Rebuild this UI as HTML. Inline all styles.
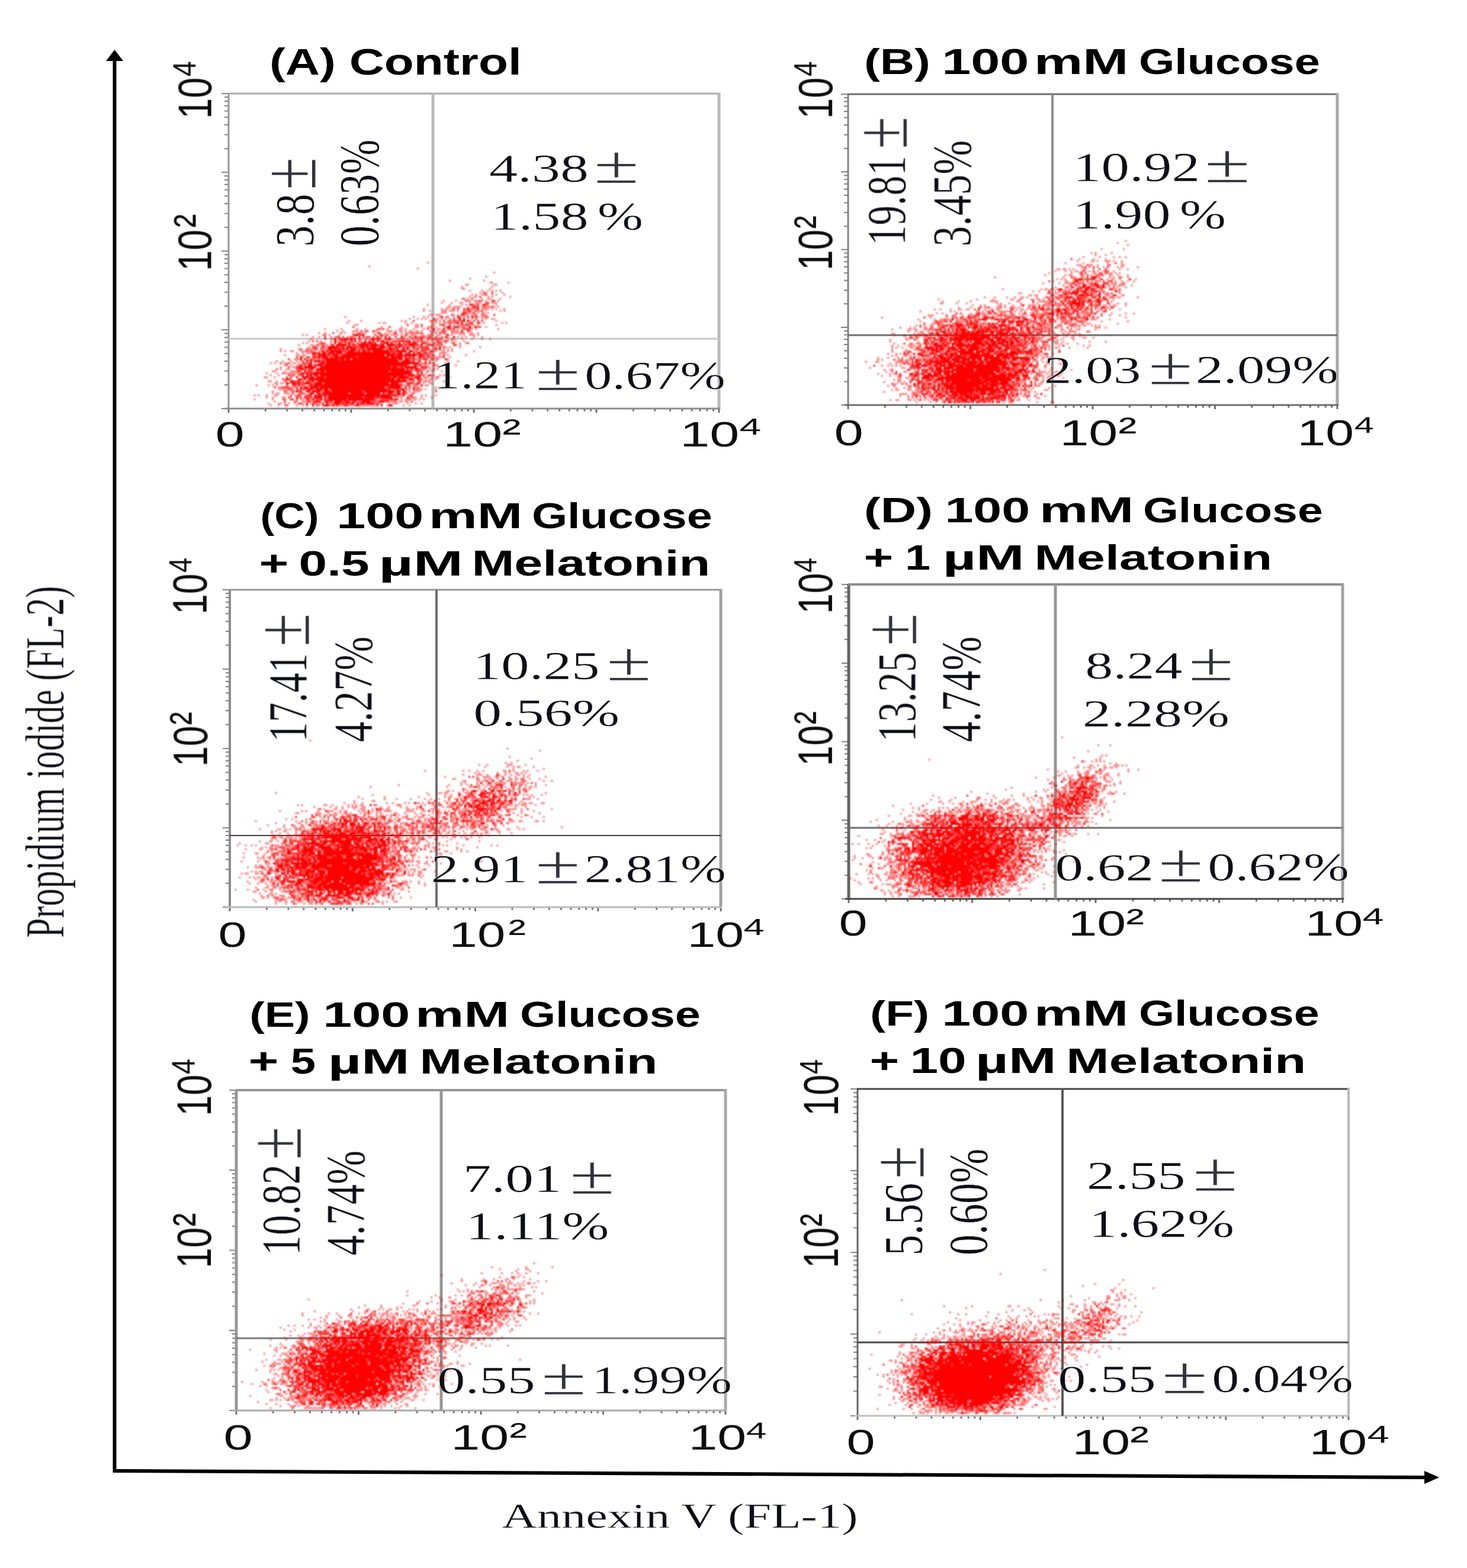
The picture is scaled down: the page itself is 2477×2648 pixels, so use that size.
<!DOCTYPE html>
<html lang="en"><head><meta charset="utf-8"><title>Annexin V / Propidium iodide flow cytometry</title>
<style>
html,body{margin:0;padding:0;background:#fff}
svg{display:block}
text{font-size:100px;white-space:pre}
.s{font-family:"Liberation Serif","DejaVu Serif",serif;fill:#0a0a14;stroke:#fff;stroke-width:0.5px;vector-effect:non-scaling-stroke}
.pm{fill:#33333c;stroke-width:0.9px}
.n{font-family:"Liberation Sans","DejaVu Sans",sans-serif;fill:#111}
.nb{font-family:"Liberation Sans","DejaVu Sans",sans-serif;font-weight:bold;fill:#000}
</style></head><body>
<svg width="2477" height="2648" viewBox="0 0 2477 2648">
<rect width="2477" height="2648" fill="#fff"/>
<defs><filter id="soft" x="-2%" y="-2%" width="104%" height="104%"><feGaussianBlur stdDeviation="0.38"/></filter><filter id="tsoft" filterUnits="userSpaceOnUse" x="0" y="0" width="2477" height="2648"><feGaussianBlur stdDeviation="0.7"/></filter></defs>
<g id="axes" fill="#000" stroke="none" filter="url(#tsoft)">
<path d="M190.5 100 L196.5 100 L196.5 2481 L2406 2492 L2406 2498 L190.5 2487 Z"/>
<path d="M193.5 84 L208 103 L179 103 Z"/>
<path d="M2430 2495 L2405 2506 L2405 2484 Z"/>
</g>
<g id="panelA">
<path d="M374 690.0H386M374 557.0H386M374 424.0H386M374 291.0H386M374 158.0H386M379 650.0H386M379 626.5H386M379 609.9H386M379 597.0H386M379 586.5H386M379 577.6H386M379 569.9H386M379 563.1H386M379 517.0H386M379 493.5H386M379 476.9H386M379 464.0H386M379 453.5H386M379 444.6H386M379 436.9H386M379 430.1H386M379 384.0H386M379 360.5H386M379 343.9H386M379 331.0H386M379 320.5H386M379 311.6H386M379 303.9H386M379 297.1H386M379 251.0H386M379 227.5H386M379 210.9H386M379 198.0H386M379 187.5H386M379 178.6H386M379 170.9H386M379 164.1H386" stroke="rgb(135,135,135)" stroke-width="2.2" fill="none"/>
<path d="M386.0 690V697M593.0 690V697M800.0 690V697M1007.0 690V697M1214.0 690V697M448.3 690V694.5M484.8 690V694.5M510.6 690V694.5M530.7 690V694.5M547.1 690V694.5M560.9 690V694.5M572.9 690V694.5M583.5 690V694.5M655.3 690V694.5M691.8 690V694.5M717.6 690V694.5M737.7 690V694.5M754.1 690V694.5M767.9 690V694.5M779.9 690V694.5M790.5 690V694.5M862.3 690V694.5M898.8 690V694.5M924.6 690V694.5M944.7 690V694.5M961.1 690V694.5M974.9 690V694.5M986.9 690V694.5M997.5 690V694.5M1069.3 690V694.5M1105.8 690V694.5M1131.6 690V694.5M1151.7 690V694.5M1168.1 690V694.5M1181.9 690V694.5M1193.9 690V694.5M1204.5 690V694.5" stroke="rgb(105,105,105)" stroke-width="2.8" fill="none"/>
<path d="M386 157L386 691" stroke="rgb(150,150,150)" stroke-width="3" fill="none"/>
<path d="M385 158L1216 158" stroke="rgb(170,170,170)" stroke-width="3" fill="none"/>
<path d="M1214 157L1214 691" stroke="rgb(185,185,185)" stroke-width="5" fill="none"/>
<path d="M380 690L1216 690" stroke="rgb(140,140,140)" stroke-width="3" fill="none"/>
<path d="M731 158L731 690" stroke="rgb(185,185,185)" stroke-width="5" fill="none"/>
<path d="M386 572L1214 572" stroke="rgb(200,200,200)" stroke-width="3" fill="none"/>
<g class="pts" transform="translate(387.5 161.2) scale(3.4)" stroke="#f00" stroke-width="1" fill="none" filter="url(#soft)"><path stroke-opacity="0.45" d="M98 83h1M69 85h1M93 86h1M131 88h1M127 90h1M119 91h1M109 92h1M126 92h1M129 93h2M138 93h1M117 94h2M131 94h2M115 95h1M130 95h1M115 96h2M129 96h1M119 97h1M125 97h1M128 97h1M130 97h1M132 97h1M134 97h1M124 98h1M127 98h1M135 98h1M120 99h1M122 99h1M125 99h2M130 99h1M132 99h1M136 99h1M119 100h1M121 100h2M128 100h1M130 100h1M139 100h1M115 101h1M118 101h1M125 101h1M128 101h2M134 101h1M106 102h1M112 102h1M118 102h2M121 102h3M125 102h1M127 102h1M133 102h1M105 103h1M110 103h1M114 103h2M119 103h1M122 103h3M130 103h3M98 104h1M109 104h1M115 104h1M117 104h1M121 104h2M125 104h1M128 104h1M132 104h1M108 105h2M111 105h4M118 105h1M120 105h1M125 105h1M127 105h3M131 105h1M133 105h1M96 106h1M105 106h1M107 106h2M110 106h1M117 106h1M119 106h1M121 106h2M125 106h4M130 106h1M132 106h1M136 106h1M96 107h1M99 107h1M105 107h3M109 107h3M113 107h1M117 107h1M121 107h1M123 107h2M127 107h1M134 107h1M136 107h1M105 108h3M115 108h1M118 108h3M123 108h1M125 108h2M128 108h1M99 109h2M102 109h3M111 109h1M113 109h1M117 109h2M120 109h2M126 109h2M57 110h1M91 110h1M96 110h1M98 110h1M104 110h1M107 110h1M111 110h1M116 110h1M121 110h1M123 110h1M125 110h2M128 110h1M89 111h1M93 111h1M95 111h1M97 111h1M102 111h2M105 111h1M107 111h1M109 111h1M113 111h1M118 111h1M120 111h1M125 111h1M127 111h1M130 111h2M59 112h1M65 112h1M85 112h1M87 112h1M99 112h1M101 112h1M104 112h1M108 112h1M110 112h1M113 112h1M119 112h1M132 112h1M58 113h1M74 113h1M76 113h2M87 113h1M90 113h1M100 113h1M102 113h1M104 113h1M106 113h3M110 113h2M117 113h2M124 113h1M126 113h1M135 113h1M137 113h1M62 114h2M92 114h2M100 114h2M104 114h1M111 114h1M113 114h2M116 114h1M119 114h3M123 114h1M132 114h1M75 115h1M85 115h1M92 115h2M95 115h1M98 115h2M102 115h1M106 115h2M114 115h2M118 115h1M121 115h1M123 115h1M127 115h1M47 116h1M55 116h1M63 116h1M67 116h1M73 116h1M75 116h1M78 116h1M84 116h2M87 116h1M91 116h1M96 116h1M100 116h1M103 116h2M110 116h1M113 116h1M115 116h1M120 116h1M122 116h1M133 116h1M53 117h1M56 117h1M61 117h3M67 117h1M72 117h2M78 117h3M82 117h1M84 117h2M87 117h1M89 117h2M92 117h2M95 117h1M99 117h2M103 117h1M107 117h1M111 117h3M119 117h1M44 118h1M47 118h1M57 118h1M61 118h1M63 118h1M65 118h3M71 118h1M73 118h1M77 118h1M79 118h1M81 118h1M85 118h1M87 118h3M91 118h2M94 118h1M105 118h1M107 118h1M110 118h5M116 118h1M119 118h2M123 118h1M36 119h1M38 119h1M46 119h1M49 119h1M54 119h1M74 119h1M76 119h2M80 119h4M85 119h1M88 119h1M90 119h3M95 119h2M98 119h2M103 119h2M107 119h1M110 119h1M114 119h1M116 119h1M119 119h3M123 119h1M41 120h1M44 120h1M50 120h1M52 120h1M58 120h2M61 120h2M67 120h1M74 120h1M86 120h2M90 120h2M93 120h1M97 120h2M100 120h1M103 120h1M108 120h1M113 120h1M115 120h1M117 120h1M121 120h1M125 120h1M40 121h1M50 121h2M65 121h1M67 121h2M80 121h1M83 121h3M88 121h1M90 121h5M99 121h1M103 121h1M105 121h1M108 121h1M111 121h1M115 121h1M120 121h1M125 121h1M129 121h1M39 122h1M45 122h1M50 122h1M53 122h2M58 122h2M61 122h1M65 122h1M70 122h1M74 122h1M77 122h1M79 122h2M92 122h1M94 122h1M96 122h3M100 122h1M102 122h1M104 122h3M108 122h1M110 122h1M112 122h1M116 122h1M36 123h1M38 123h1M44 123h1M47 123h1M50 123h1M56 123h1M58 123h1M60 123h1M64 123h1M79 123h1M81 123h3M87 123h1M93 123h1M98 123h2M102 123h2M105 123h1M107 123h1M110 123h1M114 123h1M117 123h1M34 124h1M40 124h2M44 124h2M47 124h2M58 124h1M60 124h1M63 124h1M86 124h1M88 124h1M94 124h1M97 124h1M101 124h2M104 124h1M114 124h1M39 125h1M43 125h1M45 125h1M47 125h2M57 125h1M73 125h1M78 125h1M81 125h1M85 125h1M87 125h1M89 125h2M92 125h2M101 125h1M107 125h1M109 125h1M114 125h1M124 125h1M25 126h1M34 126h1M39 126h3M46 126h3M59 126h1M63 126h1M67 126h1M77 126h1M85 126h1M87 126h1M89 126h1M92 126h1M99 126h1M101 126h1M103 126h1M106 126h1M108 126h1M110 126h1M25 127h1M27 127h1M30 127h2M35 127h3M39 127h1M41 127h2M44 127h2M47 127h1M65 127h1M70 127h1M91 127h1M93 127h2M101 127h2M105 127h2M108 127h1M110 127h1M121 127h1M33 128h1M36 128h1M38 128h3M45 128h1M48 128h1M56 128h1M92 128h1M95 128h1M98 128h1M100 128h1M104 128h4M27 129h1M33 129h2M36 129h2M43 129h1M50 129h1M54 129h1M77 129h1M93 129h1M97 129h1M99 129h2M104 129h1M108 129h1M117 129h1M36 130h1M49 130h1M79 130h1M86 130h1M88 130h1M90 130h1M93 130h1M97 130h1M100 130h6M109 130h1M32 131h3M38 131h2M42 131h2M45 131h1M60 131h1M93 131h1M95 131h1M98 131h1M101 131h2M108 131h1M23 132h1M26 132h1M30 132h1M33 132h1M35 132h1M39 132h1M41 132h1M84 132h1M90 132h1M93 132h1M102 132h1M108 132h1M113 132h1M20 133h1M22 133h1M27 133h2M31 133h2M34 133h1M38 133h1M42 133h1M94 133h3M107 133h1M27 134h1M30 134h1M33 134h2M36 134h1M38 134h1M41 134h1M89 134h1M93 134h1M95 134h4M102 134h2M112 134h1M25 135h1M31 135h2M36 135h1M44 135h1M93 135h1M98 135h2M101 135h1M103 135h1M25 136h1M28 136h2M38 136h1M87 136h1M89 136h1M91 136h1M95 136h1M97 136h1M99 136h1M103 136h1M21 137h2M27 137h1M30 137h4M35 137h1M38 137h1M41 137h2M100 137h2M105 137h1M18 138h1M23 138h1M27 138h8M97 138h1M20 139h1M24 139h1M30 139h1M32 139h1M41 139h1M44 139h1M92 139h1M95 139h1M98 139h1M100 139h2M104 139h1M106 139h2M17 140h2M22 140h1M42 140h1M89 140h1M91 140h1M96 140h3M100 140h1M102 140h1M109 140h1M27 141h1M30 141h1M36 141h1M82 141h1M88 141h1M97 141h1M99 141h2M102 141h1M19 142h2M23 142h1M28 142h1M35 142h1M42 142h1M88 142h3M93 142h1M96 142h4M106 142h1M22 143h2M25 143h2M30 143h1M41 143h1M46 143h1M79 143h1M84 143h2M91 143h2M96 143h1M99 143h2M13 144h1M19 144h1M21 144h1M23 144h1M33 144h1M35 144h1M37 144h1M86 144h2M91 144h1M93 144h1M97 144h2M24 145h2M30 145h3M36 145h1M39 145h1M85 145h1M92 145h3M102 145h1M105 145h1M24 146h5M31 146h1M34 146h1M42 146h1M49 146h1M80 146h1M87 146h3M92 146h1M94 146h2M97 146h1M102 146h1M21 147h1M28 147h1M30 147h1M32 147h1M40 147h1M46 147h1M82 147h1M89 147h1M91 147h4M21 148h1M23 148h2M27 148h3M34 148h1M37 148h1M39 148h1M45 148h1M59 148h1M67 148h1M77 148h1M81 148h2M85 148h1M88 148h1M90 148h1M12 149h1M14 149h1M18 149h1M22 149h2M32 149h2M35 149h1M37 149h1M85 149h1M95 149h1M97 149h1M102 149h1M18 150h1M21 150h1M26 150h2M30 150h1M34 150h1M41 150h1M48 150h1M82 150h2M85 150h1M89 150h1M91 150h2M95 150h1M100 150h1M12 151h1M21 151h1M26 151h1M35 151h2M40 151h1M42 151h1M46 151h1M73 151h2M85 151h1M87 151h2M91 151h2M94 151h1M96 151h1M22 152h1M33 152h1M36 152h3M40 152h2M45 152h1M51 152h1M60 152h1M63 152h1M73 152h1M79 152h3M84 152h2M87 152h2M19 153h1M24 153h2M27 153h1M29 153h1M32 153h1M36 153h1M40 153h1M43 153h3M49 153h2M72 153h1M74 153h2M79 153h1M81 153h3M88 153h1M92 153h1M95 153h1M20 154h1M24 154h1M27 154h1M33 154h1M36 154h1M44 154h1M50 154h1M52 154h1M54 154h3M59 154h3M65 154h8M78 154h1M86 154h1M89 154h1"/><path stroke-opacity="0.75" d="M126 98h1M130 98h1M127 99h1M124 100h1M116 101h1M120 101h1M117 102h1M124 102h1M130 102h2M127 103h2M119 104h1M123 104h1M127 104h1M122 105h2M126 105h1M130 105h1M111 106h1M113 106h1M116 106h1M120 106h1M116 107h1M118 107h1M122 107h1M125 107h1M117 108h1M121 108h1M110 109h1M116 109h1M122 109h1M125 109h1M131 109h1M108 110h1M114 110h1M118 110h1M122 110h1M127 110h1M101 111h1M111 111h1M122 111h1M91 112h1M100 112h1M102 112h1M106 112h1M109 112h1M111 112h2M114 112h2M121 112h1M123 112h1M125 112h1M109 113h1M112 113h1M119 113h1M88 114h1M95 114h1M105 114h2M109 114h1M115 114h1M117 114h2M61 115h1M79 115h1M100 115h1M111 115h1M113 115h1M116 115h1M124 115h1M74 116h1M76 116h1M98 116h1M108 116h2M111 116h1M116 116h4M65 117h1M68 117h1M71 117h1M101 117h1M105 117h2M110 117h1M51 118h1M55 118h1M64 118h1M90 118h1M93 118h1M95 118h1M100 118h1M102 118h1M104 118h1M106 118h1M115 118h1M47 119h1M61 119h1M64 119h2M72 119h1M78 119h1M87 119h1M100 119h1M47 120h1M53 120h2M56 120h1M60 120h1M66 120h1M68 120h2M71 120h1M75 120h1M79 120h1M82 120h1M89 120h1M94 120h3M102 120h1M105 120h1M47 121h1M54 121h1M56 121h1M59 121h1M61 121h2M64 121h1M72 121h2M77 121h2M86 121h1M98 121h1M100 121h3M104 121h1M110 121h1M41 122h1M43 122h1M55 122h2M64 122h1M78 122h1M81 122h4M86 122h1M88 122h1M91 122h1M93 122h1M95 122h1M45 123h2M55 123h1M57 123h1M61 123h1M63 123h1M65 123h1M68 123h1M71 123h1M75 123h2M86 123h1M88 123h1M90 123h1M95 123h1M97 123h1M101 123h1M111 123h1M118 123h1M43 124h1M46 124h1M50 124h1M62 124h1M69 124h1M74 124h1M82 124h2M92 124h2M98 124h2M103 124h1M105 124h1M111 124h2M41 125h1M54 125h2M61 125h1M63 125h2M67 125h1M69 125h1M77 125h1M80 125h1M83 125h1M94 125h5M102 125h1M106 125h1M35 126h1M38 126h1M42 126h2M45 126h1M51 126h1M53 126h1M55 126h1M57 126h1M64 126h2M76 126h1M78 126h1M81 126h2M91 126h1M95 126h3M38 127h1M40 127h1M49 127h1M56 127h3M62 127h2M68 127h1M79 127h1M81 127h2M92 127h1M95 127h3M99 127h1M43 128h1M52 128h1M57 128h1M80 128h1M82 128h2M87 128h2M96 128h1M99 128h1M41 129h2M48 129h1M55 129h1M82 129h1M86 129h1M96 129h1M101 129h1M106 129h1M33 130h1M38 130h2M41 130h1M43 130h1M45 130h1M51 130h1M63 130h1M95 130h2M98 130h2M106 130h1M29 131h1M40 131h2M44 131h1M46 131h1M54 131h1M57 131h1M83 131h1M89 131h4M94 131h1M96 131h1M103 131h1M36 132h1M45 132h1M47 132h1M85 132h1M97 132h1M99 132h1M25 133h1M29 133h1M36 133h2M39 133h1M44 133h1M47 133h1M101 133h1M28 134h1M37 134h1M42 134h1M46 134h1M88 134h1M91 134h1M101 134h1M29 135h1M33 135h1M80 135h1M83 135h2M86 135h1M96 135h1M23 136h1M33 136h2M37 136h1M39 136h1M41 136h1M94 136h1M96 136h1M101 136h1M40 137h1M44 137h1M47 137h1M79 137h1M90 137h1M92 137h4M98 137h1M26 138h1M35 138h1M37 138h1M39 138h1M90 138h1M29 139h1M31 139h1M34 139h2M39 139h1M87 139h2M93 139h1M96 139h1M28 140h1M30 140h1M39 140h1M47 140h1M80 140h1M83 140h1M90 140h1M103 140h1M26 141h1M85 141h1M87 141h1M91 141h1M94 141h2M27 142h1M32 142h2M36 142h1M39 142h2M43 142h1M91 142h1M29 143h1M33 143h1M35 143h2M40 143h1M89 143h1M94 143h1M28 144h1M31 144h1M36 144h1M39 144h1M41 144h1M85 144h1M88 144h2M92 144h1M22 145h1M26 145h4M33 145h1M44 145h1M77 145h2M89 145h1M91 145h1M29 146h2M33 146h1M35 146h4M41 146h1M46 146h1M78 146h1M81 146h2M84 146h1M93 146h1M27 147h1M31 147h1M34 147h1M45 147h1M50 147h1M66 147h1M87 147h1M102 147h1M31 148h1M35 148h2M43 148h1M78 148h1M87 148h1M91 148h1M30 149h1M38 149h2M43 149h1M46 149h1M48 149h1M80 149h1M83 149h2M89 149h2M29 150h1M35 150h1M38 150h3M66 150h1M72 150h1M74 150h1M90 150h1M27 151h1M30 151h2M33 151h1M39 151h1M43 151h2M47 151h2M58 151h1M72 151h1M75 151h5M81 151h1M83 151h1M89 151h1M27 152h1M32 152h1M49 152h1M56 152h1M64 152h2M70 152h3M77 152h1M82 152h1M90 152h1M34 153h2M41 153h2M46 153h1M51 153h1M55 153h1M57 153h1M59 153h1M64 153h1M67 153h1M28 154h1M38 154h1M43 154h1M46 154h1M49 154h1M58 154h1M62 154h1M64 154h1M73 154h1"/><path stroke-opacity="1.0" d="M120 104h1M126 104h1M121 105h1M118 106h1M123 106h1M119 107h1M116 108h1M115 109h1M105 110h1M113 110h1M120 110h1M114 111h1M116 111h1M116 112h1M118 112h1M113 113h1M115 113h1M120 113h1M123 113h1M108 115h2M112 115h1M119 115h1M122 115h1M101 116h1M106 116h1M115 117h1M118 117h1M74 118h1M82 118h1M62 119h2M66 119h1M75 119h1M108 119h1M64 120h1M73 120h1M77 120h1M85 120h1M92 120h1M99 120h1M107 120h1M111 120h1M52 121h1M55 121h1M57 121h2M60 121h1M70 121h2M74 121h1M79 121h1M95 121h1M52 122h1M57 122h1M60 122h1M62 122h1M67 122h1M69 122h1M71 122h1M73 122h1M75 122h2M85 122h1M87 122h1M89 122h1M103 122h1M107 122h1M52 123h1M54 123h1M59 123h1M66 123h2M69 123h2M72 123h1M77 123h2M80 123h1M84 123h1M89 123h1M91 123h2M96 123h1M104 123h1M51 124h1M53 124h5M59 124h1M61 124h1M64 124h5M70 124h4M75 124h2M78 124h4M84 124h2M87 124h1M89 124h3M95 124h1M100 124h1M42 125h1M46 125h1M49 125h5M56 125h1M58 125h3M62 125h1M65 125h2M68 125h1M70 125h3M74 125h3M79 125h1M82 125h1M84 125h1M86 125h1M88 125h1M91 125h1M104 125h1M49 126h2M52 126h1M54 126h1M56 126h1M58 126h1M60 126h3M66 126h1M68 126h8M79 126h2M83 126h1M86 126h1M88 126h1M93 126h1M98 126h1M102 126h1M104 126h1M46 127h1M48 127h1M50 127h6M59 127h3M64 127h1M66 127h2M69 127h1M71 127h8M80 127h1M83 127h5M89 127h2M100 127h1M41 128h2M44 128h1M46 128h2M49 128h3M53 128h3M58 128h22M81 128h1M84 128h2M89 128h1M91 128h1M93 128h2M97 128h1M44 129h4M49 129h1M51 129h3M56 129h21M78 129h4M83 129h3M87 129h6M94 129h2M98 129h1M35 130h1M42 130h1M44 130h1M46 130h3M50 130h1M52 130h11M64 130h15M80 130h6M87 130h1M89 130h1M91 130h1M94 130h1M35 131h1M37 131h1M47 131h7M55 131h2M58 131h2M61 131h22M84 131h2M87 131h2M97 131h1M100 131h1M107 131h1M38 132h1M40 132h1M42 132h3M46 132h1M48 132h36M86 132h4M91 132h1M94 132h1M40 133h1M45 133h2M48 133h46M97 133h1M99 133h1M35 134h1M39 134h2M43 134h3M47 134h41M92 134h1M94 134h1M34 135h2M37 135h6M45 135h35M81 135h2M85 135h1M87 135h6M95 135h1M97 135h1M35 136h2M40 136h1M43 136h44M88 136h1M90 136h1M92 136h2M34 137h1M37 137h1M39 137h1M43 137h1M45 137h2M48 137h31M80 137h10M36 138h1M38 138h1M40 138h50M93 138h1M95 138h1M36 139h1M38 139h1M40 139h1M42 139h2M45 139h42M89 139h3M94 139h1M99 139h1M33 140h1M36 140h3M40 140h2M43 140h4M48 140h32M81 140h2M84 140h5M92 140h3M28 141h2M34 141h2M37 141h1M39 141h43M83 141h2M86 141h1M89 141h2M93 141h1M30 142h2M34 142h1M38 142h1M41 142h1M44 142h44M94 142h1M28 143h1M31 143h2M34 143h1M37 143h3M42 143h4M47 143h32M80 143h4M88 143h1M90 143h1M93 143h1M32 144h1M34 144h1M40 144h1M42 144h43M95 144h1M35 145h1M37 145h2M40 145h4M45 145h32M79 145h6M87 145h1M39 146h2M43 146h3M47 146h2M50 146h28M79 146h1M83 146h1M85 146h2M91 146h1M33 147h1M35 147h1M38 147h2M41 147h4M47 147h3M51 147h15M67 147h15M83 147h2M86 147h1M40 148h2M44 148h1M46 148h13M60 148h7M68 148h7M76 148h1M79 148h2M83 148h2M86 148h1M34 149h1M40 149h1M42 149h1M44 149h2M47 149h1M49 149h31M81 149h2M86 149h1M33 150h1M37 150h1M42 150h4M47 150h1M49 150h17M67 150h5M73 150h1M75 150h6M88 150h1M38 151h1M41 151h1M45 151h1M49 151h9M59 151h13M80 151h1M82 151h1M39 152h1M42 152h3M47 152h2M50 152h1M52 152h4M57 152h3M61 152h2M66 152h4M74 152h3M78 152h1M38 153h1M48 153h1M52 153h3M56 153h1M58 153h1M60 153h2M63 153h1M65 153h2M68 153h4M73 153h1M41 154h1M47 154h2M51 154h1M53 154h1M57 154h1M63 154h1M75 154h1M79 154h2"/></g>
</g>
<g id="panelB">
<path d="M1420 684.0H1432M1420 552.8H1432M1420 421.5H1432M1420 290.2H1432M1420 159.0H1432M1425 644.5H1432M1425 621.4H1432M1425 605.0H1432M1425 592.3H1432M1425 581.9H1432M1425 573.1H1432M1425 565.5H1432M1425 558.8H1432M1425 513.2H1432M1425 490.1H1432M1425 473.7H1432M1425 461.0H1432M1425 450.6H1432M1425 441.8H1432M1425 434.2H1432M1425 427.5H1432M1425 382.0H1432M1425 358.9H1432M1425 342.5H1432M1425 329.8H1432M1425 319.4H1432M1425 310.6H1432M1425 303.0H1432M1425 296.3H1432M1425 250.7H1432M1425 227.6H1432M1425 211.2H1432M1425 198.5H1432M1425 188.1H1432M1425 179.3H1432M1425 171.7H1432M1425 165.0H1432" stroke="rgb(135,135,135)" stroke-width="2.2" fill="none"/>
<path d="M1432.0 684V691M1638.5 684V691M1845.0 684V691M2051.5 684V691M2258.0 684V691M1494.2 684V688.5M1530.5 684V688.5M1556.3 684V688.5M1576.3 684V688.5M1592.7 684V688.5M1606.5 684V688.5M1618.5 684V688.5M1629.1 684V688.5M1700.7 684V688.5M1737.0 684V688.5M1762.8 684V688.5M1782.8 684V688.5M1799.2 684V688.5M1813.0 684V688.5M1825.0 684V688.5M1835.6 684V688.5M1907.2 684V688.5M1943.5 684V688.5M1969.3 684V688.5M1989.3 684V688.5M2005.7 684V688.5M2019.5 684V688.5M2031.5 684V688.5M2042.1 684V688.5M2113.7 684V688.5M2150.0 684V688.5M2175.8 684V688.5M2195.8 684V688.5M2212.2 684V688.5M2226.0 684V688.5M2238.0 684V688.5M2248.6 684V688.5" stroke="rgb(105,105,105)" stroke-width="2.8" fill="none"/>
<path d="M1432 158L1432 685" stroke="rgb(130,130,130)" stroke-width="3" fill="none"/>
<path d="M1431 159L2260 159" stroke="rgb(110,110,110)" stroke-width="3" fill="none"/>
<path d="M2258 158L2258 685" stroke="rgb(170,170,170)" stroke-width="5" fill="none"/>
<path d="M1426 684L2260 684" stroke="rgb(110,110,110)" stroke-width="3" fill="none"/>
<path d="M1777 159L1777 684" stroke="rgb(140,140,140)" stroke-width="4" fill="none"/>
<path d="M1432 566L2258 566" stroke="rgb(110,110,110)" stroke-width="3" fill="none"/>
<g class="pts" transform="translate(1433.5 162.2) scale(3.4)" stroke="#f00" stroke-width="1" fill="none" filter="url(#soft)"><path stroke-opacity="0.45" d="M137 72h1M133 73h1M138 74h1M125 76h1M136 76h1M120 78h1M122 78h1M130 78h1M122 79h1M127 79h1M116 80h1M124 80h1M131 80h1M134 80h1M137 80h1M114 81h1M121 81h1M127 81h1M113 82h1M120 82h2M123 82h1M127 82h3M131 82h1M135 82h1M107 83h1M116 83h1M128 83h1M135 83h1M113 84h3M119 84h2M123 84h1M128 84h1M135 84h2M115 85h2M119 85h1M123 85h1M126 85h1M133 85h1M135 85h1M143 85h1M103 86h2M106 86h2M109 86h1M111 86h1M116 86h2M121 86h1M134 86h1M138 86h1M102 87h1M107 87h1M110 87h1M112 87h2M115 87h1M117 87h1M119 87h1M123 87h1M126 87h1M131 87h1M99 88h1M110 88h1M114 88h1M121 88h2M128 88h3M132 88h1M134 88h1M97 89h1M107 89h1M109 89h2M116 89h1M120 89h1M122 89h1M124 89h1M126 89h1M129 89h2M133 89h1M138 89h1M72 90h1M106 90h1M111 90h2M115 90h2M123 90h2M129 90h1M131 90h1M135 90h1M138 90h1M103 91h1M105 91h1M107 91h1M111 91h1M116 91h1M122 91h1M124 91h1M128 91h1M130 91h2M134 91h1M142 91h1M101 92h1M107 92h2M111 92h1M114 92h3M120 92h1M122 92h3M128 92h1M132 92h1M135 92h1M138 92h1M141 92h1M96 93h1M104 93h1M107 93h4M112 93h2M115 93h1M118 93h2M121 93h1M123 93h1M130 93h3M135 93h1M106 94h1M109 94h1M113 94h2M119 94h1M124 94h2M128 94h2M131 94h2M135 94h2M140 94h1M102 95h1M107 95h1M113 95h1M120 95h3M127 95h1M129 95h1M133 95h1M137 95h1M76 96h1M95 96h1M97 96h2M101 96h1M103 96h1M107 96h1M109 96h2M112 96h1M119 96h1M122 96h1M124 96h1M131 96h2M91 97h1M94 97h1M102 97h1M105 97h2M108 97h1M114 97h1M118 97h2M124 97h2M133 97h2M84 98h2M98 98h1M100 98h1M102 98h2M115 98h1M119 98h1M121 98h2M126 98h2M134 98h1M89 99h2M92 99h2M106 99h1M110 99h1M113 99h1M121 99h2M127 99h3M135 99h2M67 100h1M72 100h1M78 100h1M82 100h1M85 100h2M88 100h1M93 100h1M97 100h1M99 100h2M104 100h1M106 100h1M111 100h1M118 100h1M120 100h1M127 100h1M129 100h1M131 100h1M133 100h2M143 100h1M44 101h1M63 101h1M71 101h1M80 101h2M84 101h2M90 101h2M93 101h2M96 101h1M103 101h1M106 101h1M108 101h2M117 101h2M120 101h1M122 101h1M125 101h1M128 101h1M131 101h1M46 102h1M54 102h1M60 102h1M70 102h4M83 102h2M94 102h6M101 102h2M106 102h1M108 102h1M113 102h1M117 102h1M121 102h1M125 102h1M130 102h1M45 103h2M53 103h1M58 103h1M73 103h1M75 103h1M79 103h1M85 103h1M91 103h1M93 103h1M97 103h2M100 103h1M103 103h3M118 103h2M122 103h2M129 103h1M133 103h1M137 103h1M61 104h1M65 104h1M67 104h1M74 104h2M77 104h1M81 104h1M85 104h1M89 104h4M97 104h4M102 104h2M105 104h2M111 104h1M121 104h1M126 104h2M129 104h1M131 104h2M137 104h1M54 105h1M60 105h1M64 105h1M67 105h2M73 105h2M77 105h1M81 105h2M84 105h1M95 105h1M98 105h2M103 105h2M107 105h1M114 105h1M116 105h2M123 105h1M127 105h2M131 105h1M42 106h1M45 106h1M50 106h1M54 106h2M58 106h2M67 106h1M70 106h2M73 106h2M83 106h1M85 106h2M88 106h1M91 106h1M93 106h2M97 106h1M100 106h3M105 106h1M108 106h1M110 106h1M113 106h1M118 106h2M122 106h1M124 106h1M129 106h1M134 106h1M35 107h1M50 107h1M52 107h1M63 107h2M66 107h1M68 107h1M70 107h1M74 107h6M82 107h1M85 107h1M87 107h1M91 107h2M96 107h3M100 107h3M109 107h1M115 107h1M117 107h2M43 108h1M46 108h1M60 108h1M65 108h3M73 108h1M76 108h2M81 108h1M84 108h1M86 108h1M90 108h1M92 108h5M104 108h1M114 108h4M119 108h1M121 108h1M125 108h1M130 108h1M137 108h1M141 108h1M39 109h3M51 109h1M56 109h1M60 109h2M66 109h1M68 109h1M71 109h1M73 109h1M76 109h1M78 109h3M82 109h1M85 109h2M88 109h1M93 109h2M97 109h4M106 109h2M110 109h1M114 109h1M116 109h3M121 109h1M129 109h1M134 109h1M16 110h1M40 110h1M48 110h1M52 110h1M58 110h1M63 110h2M66 110h1M72 110h2M75 110h1M77 110h1M81 110h1M85 110h1M93 110h1M96 110h1M100 110h1M103 110h2M113 110h1M115 110h1M120 110h1M137 110h1M34 111h1M42 111h1M45 111h2M48 111h3M53 111h4M58 111h2M63 111h1M70 111h2M79 111h1M82 111h1M89 111h2M94 111h1M96 111h1M103 111h1M106 111h1M109 111h1M111 111h1M113 111h1M115 111h2M120 111h3M129 111h1M35 112h1M42 112h1M44 112h1M46 112h1M54 112h4M59 112h1M61 112h1M64 112h1M67 112h1M75 112h1M82 112h1M87 112h1M89 112h1M93 112h1M96 112h1M101 112h1M105 112h1M107 112h1M109 112h2M116 112h2M125 112h1M138 112h1M41 113h3M45 113h2M49 113h1M51 113h1M56 113h1M64 113h2M67 113h2M70 113h1M72 113h1M75 113h1M77 113h1M81 113h1M91 113h2M95 113h1M98 113h2M105 113h1M108 113h4M115 113h2M118 113h2M133 113h1M33 114h1M37 114h1M40 114h2M45 114h1M49 114h1M52 114h1M57 114h1M61 114h1M64 114h1M66 114h3M81 114h1M86 114h1M90 114h1M93 114h1M96 114h5M103 114h1M105 114h1M109 114h1M112 114h3M116 114h2M120 114h1M122 114h1M124 114h1M25 115h1M30 115h1M32 115h1M35 115h1M37 115h2M40 115h1M44 115h1M49 115h1M52 115h1M60 115h1M64 115h1M66 115h1M74 115h1M86 115h2M90 115h1M92 115h3M96 115h1M98 115h3M103 115h1M105 115h1M110 115h1M112 115h1M114 115h1M122 115h3M127 115h1M21 116h1M29 116h2M32 116h2M37 116h3M41 116h1M48 116h1M52 116h1M61 116h1M63 116h1M71 116h1M74 116h1M86 116h1M91 116h1M96 116h3M100 116h1M105 116h2M109 116h2M113 116h2M122 116h1M29 117h1M33 117h1M35 117h2M39 117h1M41 117h1M44 117h1M48 117h1M50 117h1M52 117h1M60 117h1M77 117h1M84 117h1M87 117h2M90 117h1M92 117h3M96 117h1M98 117h1M100 117h2M105 117h1M107 117h1M109 117h4M119 117h1M21 118h2M32 118h1M34 118h4M39 118h1M42 118h1M46 118h1M51 118h1M67 118h3M79 118h1M83 118h1M88 118h1M91 118h1M101 118h2M108 118h2M112 118h1M114 118h1M22 119h1M30 119h1M32 119h1M34 119h3M40 119h1M43 119h1M46 119h1M50 119h1M70 119h1M79 119h2M84 119h1M90 119h1M92 119h2M97 119h3M107 119h2M111 119h1M114 119h2M28 120h1M34 120h1M37 120h2M44 120h1M47 120h1M49 120h1M70 120h1M76 120h1M86 120h1M93 120h1M95 120h2M106 120h1M110 120h2M116 120h2M121 120h1M20 121h1M28 121h2M33 121h1M39 121h1M49 121h1M67 121h1M78 121h1M81 121h1M84 121h1M86 121h1M90 121h1M92 121h1M94 121h2M98 121h1M100 121h2M103 121h1M105 121h1M111 121h1M20 122h1M34 122h1M39 122h2M42 122h3M49 122h1M56 122h1M59 122h1M69 122h1M82 122h1M85 122h1M92 122h1M95 122h1M101 122h3M106 122h1M119 122h1M127 122h1M22 123h1M31 123h1M33 123h3M40 123h1M44 123h2M50 123h1M58 123h1M60 123h1M77 123h1M82 123h1M86 123h1M88 123h1M90 123h1M92 123h2M97 123h2M102 123h2M105 123h1M108 123h1M113 123h1M21 124h1M24 124h1M29 124h4M34 124h1M41 124h1M49 124h1M52 124h1M68 124h1M74 124h2M87 124h1M90 124h2M94 124h1M97 124h3M104 124h1M116 124h1M119 124h1M21 125h1M23 125h1M26 125h1M30 125h2M35 125h1M42 125h1M48 125h1M53 125h1M57 125h1M67 125h1M84 125h2M88 125h1M90 125h2M96 125h1M99 125h1M102 125h2M109 125h1M118 125h1M21 126h1M28 126h1M32 126h2M37 126h2M47 126h2M54 126h1M58 126h1M79 126h1M85 126h1M87 126h1M94 126h2M99 126h1M104 126h1M21 127h1M27 127h2M35 127h1M38 127h3M46 127h2M51 127h1M91 127h1M93 127h2M19 128h1M23 128h1M25 128h1M28 128h1M31 128h1M37 128h3M49 128h1M65 128h1M70 128h2M87 128h1M92 128h1M94 128h1M96 128h1M101 128h1M21 129h1M23 129h1M27 129h1M30 129h1M32 129h1M34 129h1M40 129h1M43 129h1M47 129h1M82 129h1M87 129h5M95 129h1M97 129h2M14 130h1M19 130h1M24 130h1M26 130h1M31 130h1M34 130h1M36 130h5M75 130h1M90 130h1M93 130h1M98 130h3M14 131h1M16 131h1M24 131h2M28 131h3M36 131h1M38 131h1M42 131h1M50 131h1M55 131h1M60 131h1M63 131h1M66 131h1M69 131h1M76 131h1M78 131h1M80 131h1M91 131h1M95 131h1M8 132h1M13 132h2M23 132h2M26 132h2M29 132h1M32 132h1M35 132h3M51 132h1M79 132h1M82 132h2M85 132h1M91 132h1M96 132h1M20 133h1M23 133h1M26 133h1M28 133h1M30 133h1M32 133h1M41 133h1M48 133h1M53 133h1M67 133h1M79 133h1M89 133h1M98 133h2M104 133h2M107 133h1M16 134h1M19 134h1M21 134h1M23 134h1M25 134h1M30 134h1M35 134h1M39 134h1M41 134h1M44 134h1M48 134h1M78 134h1M84 134h1M106 134h2M10 135h1M26 135h2M37 135h1M42 135h1M52 135h1M84 135h2M91 135h1M93 135h1M97 135h1M100 135h1M17 136h1M20 136h1M30 136h1M32 136h1M39 136h1M42 136h1M50 136h1M62 136h1M77 136h1M83 136h1M88 136h2M94 136h1M100 136h1M110 136h1M18 137h1M21 137h1M27 137h2M32 137h1M39 137h2M52 137h1M72 137h1M78 137h1M81 137h1M86 137h1M90 137h1M94 137h4M99 137h1M102 137h2M14 138h1M20 138h1M22 138h1M32 138h1M35 138h1M38 138h1M50 138h1M73 138h1M84 138h1M87 138h1M90 138h1M94 138h2M98 138h1M100 138h1M105 138h1M16 139h1M20 139h1M24 139h1M31 139h1M36 139h1M47 139h1M92 139h2M95 139h2M99 139h1M101 139h1M103 139h2M24 140h2M28 140h2M40 140h1M42 140h2M86 140h1M91 140h1M93 140h1M96 140h1M98 140h3M106 140h1M22 141h1M24 141h2M30 141h1M32 141h1M37 141h1M41 141h1M47 141h1M82 141h1M85 141h1M89 141h1M92 141h1M96 141h1M17 142h1M24 142h2M27 142h1M37 142h1M39 142h3M44 142h2M47 142h1M74 142h1M80 142h1M82 142h1M84 142h4M92 142h1M95 142h2M98 142h1M22 143h2M33 143h1M35 143h1M38 143h1M41 143h1M80 143h1M85 143h1M94 143h2M19 144h1M29 144h1M33 144h1M38 144h1M40 144h2M43 144h1M46 144h1M74 144h2M83 144h1M87 144h1M92 144h3M102 144h1M23 145h1M27 145h1M29 145h2M33 145h1M35 145h1M45 145h1M72 145h1M78 145h1M82 145h2M85 145h1M89 145h1M91 145h1M99 145h1M21 146h1M23 146h2M29 146h2M33 146h3M38 146h1M41 146h1M45 146h1M47 146h1M49 146h1M75 146h2M84 146h2M88 146h1M90 146h1M97 146h2M17 147h1M31 147h4M44 147h1M49 147h1M68 147h1M81 147h3M85 147h1M87 147h2M92 147h1M25 148h4M31 148h1M33 148h2M39 148h3M43 148h1M46 148h2M50 148h1M75 148h1M79 148h1M82 148h1M84 148h2M89 148h1M93 148h1M25 149h1M29 149h1M31 149h2M34 149h2M39 149h1M65 149h1M68 149h1M70 149h1M80 149h1M82 149h1M86 149h2M97 149h1M29 150h1M31 150h1M33 150h1M35 150h1M37 150h2M40 150h2M43 150h2M46 150h1M53 150h1M65 150h1M82 150h1M84 150h1M88 150h1M93 150h2M20 151h1M23 151h2M29 151h2M32 151h1M34 151h1M37 151h1M39 151h1M41 151h1M44 151h1M46 151h2M63 151h1M74 151h1M79 151h1M83 151h2M89 151h1M33 152h1M40 152h1M43 152h1M46 152h1M51 152h1M53 152h1M60 152h1M65 152h1M68 152h1M70 152h1M76 152h1M79 152h1M81 152h1M93 152h1M100 152h2"/><path stroke-opacity="0.75" d="M110 81h1M132 83h1M118 84h1M129 84h1M117 85h1M121 85h1M128 85h1M124 86h1M127 86h1M116 87h1M121 87h1M127 87h2M117 88h1M124 88h2M127 88h1M115 89h1M118 89h1M123 89h1M125 89h1M110 90h1M118 90h1M120 90h1M134 90h1M112 91h2M117 91h4M99 92h1M118 92h1M126 92h1M129 92h2M114 93h1M116 93h1M120 93h1M126 93h1M128 93h1M136 93h1M110 94h1M112 94h1M120 94h2M134 94h1M108 95h1M110 95h2M114 95h2M117 95h1M124 95h2M131 95h1M100 96h1M114 96h2M125 96h1M129 96h1M134 96h1M104 97h1M107 97h1M109 97h1M112 97h1M115 97h1M120 97h2M123 97h1M126 97h1M99 98h1M106 98h1M108 98h2M116 98h1M118 98h1M120 98h1M128 98h1M130 98h1M100 99h2M104 99h2M107 99h2M112 99h1M117 99h1M119 99h1M123 99h1M132 99h1M98 100h1M102 100h2M105 100h1M107 100h1M114 100h4M122 100h1M130 100h1M101 101h1M104 101h1M112 101h2M115 101h2M124 101h1M126 101h1M107 102h1M110 102h1M115 102h1M118 102h1M120 102h1M122 102h1M128 102h1M99 103h1M102 103h1M108 103h2M115 103h1M128 103h1M94 104h1M96 104h1M104 104h1M109 104h1M112 104h1M115 104h1M119 104h2M122 104h3M65 105h1M69 105h1M75 105h1M80 105h1M89 105h1M92 105h1M96 105h1M111 105h1M120 105h1M122 105h1M125 105h1M62 106h1M80 106h2M90 106h1M92 106h1M98 106h2M109 106h1M111 106h1M115 106h1M120 106h1M125 106h1M127 106h1M69 107h1M80 107h1M93 107h1M105 107h1M108 107h1M112 107h1M116 107h1M123 107h1M126 107h2M53 108h1M55 108h1M63 108h1M70 108h1M75 108h1M80 108h1M91 108h1M97 108h2M103 108h1M106 108h1M108 108h4M113 108h1M118 108h1M120 108h1M48 109h1M52 109h1M59 109h1M62 109h3M67 109h1M74 109h2M77 109h1M81 109h1M90 109h1M92 109h1M95 109h1M101 109h1M105 109h1M108 109h2M125 109h1M37 110h1M51 110h1M53 110h1M55 110h2M60 110h3M69 110h2M78 110h3M82 110h1M86 110h2M91 110h1M94 110h1M98 110h2M105 110h1M107 110h1M109 110h4M116 110h3M121 110h1M123 110h1M47 111h1M60 111h1M62 111h1M64 111h2M68 111h1M72 111h1M74 111h3M78 111h1M81 111h1M84 111h1M86 111h1M95 111h1M97 111h1M99 111h1M105 111h1M107 111h1M117 111h1M45 112h1M47 112h2M53 112h1M62 112h1M88 112h1M90 112h3M95 112h1M99 112h2M102 112h1M106 112h1M108 112h1M113 112h3M37 113h1M52 113h1M54 113h2M58 113h2M62 113h2M66 113h1M79 113h2M84 113h3M89 113h1M93 113h1M96 113h2M100 113h1M112 113h1M35 114h1M44 114h1M46 114h2M51 114h1M58 114h3M65 114h1M69 114h1M71 114h1M78 114h2M85 114h1M87 114h2M91 114h1M94 114h1M104 114h1M110 114h2M41 115h1M45 115h1M47 115h1M50 115h2M53 115h1M55 115h3M68 115h1M70 115h1M77 115h2M80 115h1M82 115h1M89 115h1M95 115h1M97 115h1M102 115h1M108 115h1M40 116h1M42 116h3M47 116h1M51 116h1M54 116h1M58 116h1M65 116h1M67 116h1M70 116h1M72 116h2M78 116h1M81 116h1M92 116h4M99 116h1M43 117h1M45 117h1M49 117h1M51 117h1M54 117h2M58 117h1M62 117h1M69 117h1M72 117h2M76 117h1M81 117h1M85 117h2M91 117h1M97 117h1M99 117h1M118 117h1M48 118h2M54 118h2M65 118h1M82 118h1M85 118h3M95 118h1M106 118h1M27 119h1M33 119h1M37 119h1M45 119h1M49 119h1M51 119h2M54 119h1M59 119h1M64 119h1M72 119h1M78 119h1M82 119h1M91 119h1M96 119h1M31 120h1M33 120h1M40 120h2M48 120h1M51 120h1M71 120h1M77 120h1M79 120h2M83 120h1M88 120h3M92 120h1M94 120h1M100 120h3M32 121h1M37 121h1M40 121h1M43 121h2M48 121h1M57 121h1M68 121h1M79 121h1M93 121h1M37 122h1M46 122h3M53 122h1M57 122h1M66 122h1M73 122h1M75 122h1M79 122h1M86 122h2M93 122h1M96 122h3M27 123h1M30 123h1M38 123h2M41 123h1M47 123h2M53 123h1M57 123h1M67 123h1M70 123h1M73 123h1M79 123h1M83 123h2M89 123h1M91 123h1M96 123h1M35 124h1M40 124h1M46 124h1M64 124h2M79 124h1M81 124h1M83 124h1M85 124h1M88 124h1M96 124h1M106 124h1M33 125h2M37 125h1M44 125h1M47 125h1M56 125h1M59 125h1M65 125h2M71 125h2M77 125h1M80 125h1M82 125h2M86 125h1M92 125h2M97 125h1M34 126h3M40 126h1M44 126h1M50 126h1M64 126h2M68 126h1M72 126h1M75 126h2M80 126h3M86 126h1M89 126h1M91 126h3M97 126h1M29 127h2M36 127h1M42 127h1M45 127h1M50 127h1M52 127h2M67 127h2M72 127h1M74 127h1M76 127h1M78 127h1M83 127h1M86 127h1M92 127h1M29 128h1M32 128h1M36 128h1M42 128h2M45 128h2M73 128h1M77 128h1M84 128h3M89 128h1M91 128h1M93 128h1M97 128h2M28 129h1M35 129h1M37 129h3M49 129h1M52 129h1M56 129h1M58 129h2M79 129h1M83 129h1M92 129h2M30 130h1M41 130h1M43 130h2M48 130h1M51 130h1M58 130h1M80 130h1M89 130h1M96 130h1M22 131h1M26 131h1M31 131h1M34 131h2M39 131h1M41 131h1M44 131h2M79 131h1M83 131h1M86 131h1M104 131h1M25 132h1M28 132h1M31 132h1M34 132h1M39 132h1M58 132h1M64 132h1M67 132h1M78 132h1M81 132h1M84 132h1M87 132h3M93 132h1M98 132h1M27 133h1M29 133h1M31 133h1M33 133h1M37 133h2M42 133h1M46 133h1M55 133h1M63 133h1M85 133h4M93 133h1M12 134h1M32 134h1M40 134h1M57 134h1M74 134h2M79 134h1M83 134h1M85 134h1M91 134h3M97 134h1M30 135h4M35 135h1M39 135h1M41 135h1M75 135h1M80 135h4M92 135h1M21 136h1M34 136h1M37 136h1M40 136h1M46 136h1M48 136h1M75 136h1M80 136h1M82 136h1M23 137h1M33 137h2M36 137h2M41 137h1M43 137h1M46 137h1M75 137h2M79 137h2M88 137h2M92 137h1M23 138h1M25 138h1M34 138h1M37 138h1M74 138h1M78 138h1M81 138h1M85 138h2M30 139h1M34 139h1M44 139h2M70 139h1M78 139h1M83 139h2M94 139h1M31 140h2M34 140h1M65 140h1M80 140h1M82 140h1M88 140h1M92 140h1M34 141h1M36 141h1M38 141h1M42 141h1M59 141h1M66 141h1M86 141h2M36 142h1M38 142h1M43 142h1M50 142h1M69 142h1M79 142h1M83 142h1M21 143h1M26 143h1M28 143h1M36 143h1M42 143h1M45 143h1M49 143h1M67 143h1M79 143h1M81 143h4M90 143h1M92 143h1M22 144h1M30 144h1M34 144h1M37 144h1M39 144h1M45 144h1M52 144h1M65 144h1M69 144h1M78 144h1M81 144h2M88 144h2M34 145h1M37 145h4M47 145h1M62 145h1M74 145h1M79 145h1M36 146h1M39 146h1M43 146h1M52 146h1M80 146h2M83 146h1M86 146h2M35 147h2M38 147h3M42 147h1M45 147h3M62 147h1M64 147h1M69 147h1M73 147h1M76 147h1M89 147h1M32 148h1M37 148h1M42 148h1M49 148h1M54 148h1M59 148h1M61 148h1M63 148h2M68 148h1M72 148h3M77 148h1M80 148h2M87 148h1M40 149h1M44 149h2M49 149h1M51 149h1M54 149h1M56 149h1M61 149h1M71 149h1M73 149h1M83 149h1M88 149h2M92 149h1M42 150h1M49 150h2M57 150h1M67 150h1M69 150h1M75 150h2M79 150h2M35 151h1M42 151h1M49 151h2M52 151h1M54 151h2M64 151h1M67 151h2M70 151h2M73 151h1M75 151h3M80 151h1M55 152h2M58 152h1M66 152h1M69 152h1M73 152h1M80 152h1"/><path stroke-opacity="1.0" d="M115 88h1M121 90h2M114 91h2M121 91h1M125 91h1M139 91h1M112 92h2M111 93h1M122 93h1M127 93h1M116 94h2M122 94h2M126 94h1M116 95h1M118 95h2M123 95h1M126 95h1M104 96h2M113 96h1M117 96h2M120 96h2M130 96h1M99 97h1M111 97h1M113 97h1M116 97h2M122 97h1M132 97h1M107 98h1M110 98h4M117 98h1M124 98h1M114 99h3M118 99h1M120 99h1M124 99h1M131 99h1M108 100h3M113 100h1M121 100h1M124 100h1M126 100h1M99 101h1M107 101h1M111 101h1M114 101h1M119 101h1M123 101h1M127 101h1M91 102h1M100 102h1M105 102h1M109 102h1M111 102h2M114 102h1M116 102h1M119 102h1M123 102h2M106 103h1M110 103h5M116 103h1M120 103h1M124 103h1M86 104h1M101 104h1M107 104h1M110 104h1M113 104h2M116 104h1M91 105h1M94 105h1M108 105h1M110 105h1M113 105h1M115 105h1M118 105h1M126 105h1M130 105h1M64 106h1M95 106h2M103 106h2M106 106h2M112 106h1M114 106h1M117 106h1M71 107h1M103 107h2M107 107h1M111 107h1M113 107h1M120 107h1M64 108h1M69 108h1M72 108h1M87 108h1M99 108h3M105 108h1M107 108h1M122 108h1M91 109h1M96 109h1M103 109h1M113 109h1M119 109h1M59 110h1M67 110h2M71 110h1M83 110h2M92 110h1M95 110h1M106 110h1M114 110h1M51 111h1M57 111h1M66 111h2M73 111h1M77 111h1M87 111h2M92 111h1M100 111h2M110 111h1M112 111h1M118 111h1M43 112h1M50 112h1M58 112h1M60 112h1M63 112h1M74 112h1M76 112h2M79 112h3M83 112h4M97 112h1M44 113h1M53 113h1M60 113h2M69 113h1M71 113h1M73 113h1M76 113h1M83 113h1M88 113h1M94 113h1M107 113h1M48 114h1M50 114h1M53 114h4M62 114h2M70 114h1M72 114h1M74 114h4M83 114h2M95 114h1M46 115h1M54 115h1M59 115h1M61 115h3M65 115h1M67 115h1M69 115h1M71 115h3M75 115h1M79 115h1M81 115h1M85 115h1M88 115h1M91 115h1M45 116h1M49 116h1M53 116h1M55 116h3M62 116h1M64 116h1M66 116h1M68 116h2M75 116h3M79 116h2M82 116h2M85 116h1M88 116h2M46 117h2M53 117h1M56 117h2M59 117h1M61 117h1M63 117h6M70 117h2M74 117h2M78 117h2M83 117h1M89 117h1M95 117h1M40 118h2M43 118h2M47 118h1M50 118h1M52 118h2M56 118h9M66 118h1M70 118h2M73 118h6M80 118h2M84 118h1M89 118h2M93 118h2M99 118h1M38 119h1M44 119h1M47 119h2M53 119h1M55 119h4M60 119h4M65 119h5M71 119h1M73 119h1M75 119h3M81 119h1M85 119h4M103 119h1M30 120h1M39 120h1M42 120h1M45 120h2M50 120h1M52 120h18M72 120h4M78 120h1M81 120h2M84 120h1M87 120h1M91 120h1M38 121h1M42 121h1M45 121h3M50 121h7M58 121h9M69 121h3M73 121h5M80 121h1M82 121h2M85 121h1M87 121h1M89 121h1M91 121h1M99 121h1M38 122h1M41 122h1M45 122h1M50 122h1M52 122h1M54 122h2M58 122h1M60 122h1M62 122h4M67 122h2M70 122h3M74 122h1M76 122h3M80 122h2M83 122h2M88 122h1M90 122h2M37 123h1M42 123h2M46 123h1M49 123h1M51 123h2M54 123h3M59 123h1M61 123h6M68 123h2M71 123h2M74 123h3M78 123h1M80 123h2M85 123h1M87 123h1M38 124h1M42 124h4M47 124h2M51 124h1M53 124h11M66 124h2M69 124h5M76 124h3M80 124h1M82 124h1M84 124h1M86 124h1M92 124h1M38 125h4M43 125h1M45 125h2M49 125h4M54 125h2M58 125h1M60 125h5M68 125h3M73 125h3M78 125h2M81 125h1M87 125h1M95 125h1M39 126h1M41 126h3M45 126h2M49 126h1M51 126h3M55 126h3M59 126h5M66 126h2M69 126h3M74 126h1M77 126h2M83 126h2M90 126h1M37 127h1M41 127h1M43 127h2M48 127h2M54 127h8M63 127h4M69 127h3M73 127h1M75 127h1M77 127h1M80 127h3M84 127h2M87 127h4M95 127h1M104 127h1M27 128h1M34 128h2M40 128h2M47 128h2M50 128h4M55 128h10M66 128h4M72 128h1M74 128h3M78 128h6M88 128h1M90 128h1M36 129h1M42 129h1M44 129h3M48 129h1M50 129h2M53 129h3M57 129h1M60 129h12M73 129h6M80 129h2M32 130h1M42 130h1M45 130h3M49 130h2M52 130h6M59 130h7M67 130h8M76 130h4M81 130h8M91 130h1M33 131h1M37 131h1M40 131h1M43 131h1M46 131h4M51 131h4M56 131h4M61 131h2M64 131h2M67 131h2M70 131h6M77 131h1M81 131h2M85 131h1M87 131h3M92 131h1M33 132h1M38 132h1M40 132h11M52 132h6M59 132h5M65 132h2M68 132h10M80 132h1M86 132h1M34 133h2M39 133h2M43 133h3M47 133h1M49 133h4M54 133h1M56 133h7M64 133h3M68 133h11M80 133h5M90 133h1M31 134h1M33 134h2M36 134h3M42 134h2M45 134h3M49 134h8M58 134h16M76 134h2M81 134h2M86 134h2M89 134h2M34 135h1M40 135h1M43 135h3M47 135h5M53 135h22M76 135h4M86 135h1M88 135h1M29 136h1M36 136h1M38 136h1M41 136h1M43 136h3M47 136h1M49 136h1M51 136h11M63 136h12M76 136h1M78 136h2M81 136h1M84 136h4M91 136h1M38 137h1M42 137h1M44 137h2M47 137h5M53 137h19M73 137h2M77 137h1M82 137h4M87 137h1M91 137h1M30 138h2M33 138h1M36 138h1M39 138h2M42 138h4M47 138h3M51 138h22M75 138h3M79 138h2M82 138h2M88 138h1M93 138h1M25 139h1M32 139h2M37 139h7M46 139h1M48 139h22M71 139h7M79 139h4M86 139h3M36 140h4M41 140h1M44 140h21M66 140h14M81 140h1M83 140h2M87 140h1M89 140h1M31 141h1M33 141h1M39 141h2M43 141h4M48 141h11M60 141h6M67 141h14M83 141h2M93 141h1M30 142h1M34 142h2M42 142h1M46 142h1M48 142h2M51 142h18M70 142h4M75 142h4M81 142h1M90 142h1M32 143h1M34 143h1M37 143h1M39 143h2M44 143h1M46 143h3M50 143h17M68 143h11M87 143h1M32 144h1M36 144h1M42 144h1M44 144h1M47 144h5M53 144h12M66 144h3M70 144h4M76 144h2M79 144h2M84 144h1M86 144h1M90 144h1M36 145h1M41 145h2M44 145h1M46 145h1M48 145h14M63 145h9M73 145h1M75 145h3M80 145h2M87 145h1M37 146h1M42 146h1M44 146h1M46 146h1M48 146h1M50 146h2M53 146h22M77 146h3M82 146h1M43 147h1M48 147h1M50 147h12M63 147h1M65 147h3M70 147h3M74 147h2M77 147h2M80 147h1M36 148h1M38 148h1M44 148h2M48 148h1M51 148h3M55 148h4M60 148h1M62 148h1M65 148h3M69 148h3M76 148h1M78 148h1M83 148h1M95 148h1M33 149h1M37 149h1M41 149h1M43 149h1M46 149h2M50 149h1M52 149h2M55 149h1M57 149h4M62 149h3M66 149h1M69 149h1M72 149h1M74 149h4M79 149h1M81 149h1M45 150h1M48 150h1M51 150h2M54 150h3M58 150h7M66 150h1M68 150h1M70 150h5M77 150h1M43 151h1M48 151h1M53 151h1M56 151h3M60 151h3M65 151h2M69 151h1M81 151h1M47 152h1M49 152h2M52 152h1M54 152h1M57 152h1M59 152h1M61 152h1M63 152h2M67 152h1M71 152h1M74 152h1"/></g>
</g>
<g id="panelC">
<path d="M376 1532.0H388M376 1398.0H388M376 1264.0H388M376 1130.0H388M376 996.0H388M381 1491.7H388M381 1468.1H388M381 1451.3H388M381 1438.3H388M381 1427.7H388M381 1418.8H388M381 1411.0H388M381 1404.1H388M381 1357.7H388M381 1334.1H388M381 1317.3H388M381 1304.3H388M381 1293.7H388M381 1284.8H388M381 1277.0H388M381 1270.1H388M381 1223.7H388M381 1200.1H388M381 1183.3H388M381 1170.3H388M381 1159.7H388M381 1150.8H388M381 1143.0H388M381 1136.1H388M381 1089.7H388M381 1066.1H388M381 1049.3H388M381 1036.3H388M381 1025.7H388M381 1016.8H388M381 1009.0H388M381 1002.1H388" stroke="rgb(135,135,135)" stroke-width="2.2" fill="none"/>
<path d="M388.0 1532V1539M595.2 1532V1539M802.5 1532V1539M1009.8 1532V1539M1217.0 1532V1539M450.4 1532V1536.5M486.9 1532V1536.5M512.8 1532V1536.5M532.9 1532V1536.5M549.3 1532V1536.5M563.1 1532V1536.5M575.2 1532V1536.5M585.8 1532V1536.5M657.6 1532V1536.5M694.1 1532V1536.5M720.0 1532V1536.5M740.1 1532V1536.5M756.5 1532V1536.5M770.4 1532V1536.5M782.4 1532V1536.5M793.0 1532V1536.5M864.9 1532V1536.5M901.4 1532V1536.5M927.3 1532V1536.5M947.4 1532V1536.5M963.8 1532V1536.5M977.6 1532V1536.5M989.7 1532V1536.5M1000.3 1532V1536.5M1072.1 1532V1536.5M1108.6 1532V1536.5M1134.5 1532V1536.5M1154.6 1532V1536.5M1171.0 1532V1536.5M1184.9 1532V1536.5M1196.9 1532V1536.5M1207.5 1532V1536.5" stroke="rgb(105,105,105)" stroke-width="2.8" fill="none"/>
<path d="M388 995L388 1533" stroke="rgb(140,140,140)" stroke-width="4" fill="none"/>
<path d="M387 996L1219 996" stroke="rgb(150,150,150)" stroke-width="3" fill="none"/>
<path d="M1217 995L1217 1533" stroke="rgb(160,160,160)" stroke-width="5" fill="none"/>
<path d="M382 1532L1219 1532" stroke="rgb(185,185,185)" stroke-width="3" fill="none"/>
<path d="M737 996L737 1532" stroke="rgb(110,110,110)" stroke-width="4" fill="none"/>
<path d="M388 1411L1217 1411" stroke="rgb(60,60,60)" stroke-width="2" fill="none"/>
<g class="pts" transform="translate(389.5 999.2) scale(3.4)" stroke="#f00" stroke-width="1" fill="none" filter="url(#soft)"><path stroke-opacity="0.45" d="M39 74h1M137 78h1M153 79h1M138 82h1M149 83h1M142 84h1M136 85h1M139 85h1M123 86h1M127 86h1M137 86h3M146 86h1M126 87h1M137 87h1M140 87h1M142 87h2M150 87h1M140 88h1M155 88h1M96 89h1M115 89h1M118 89h1M122 89h1M125 89h1M135 89h2M140 89h1M145 89h1M147 89h1M152 89h1M121 90h1M123 90h1M132 90h1M136 90h1M138 90h1M141 90h2M144 90h1M146 90h1M115 91h1M122 91h3M127 91h1M133 91h1M136 91h1M139 91h1M142 91h2M145 91h1M148 91h1M106 92h1M122 92h1M125 92h4M131 92h1M134 92h2M138 92h1M141 92h1M145 92h1M147 92h1M156 92h1M110 93h2M123 93h1M126 93h1M128 93h2M132 93h1M138 93h2M141 93h2M145 93h1M148 93h1M153 93h1M115 94h2M122 94h2M125 94h2M129 94h1M133 94h1M137 94h3M141 94h1M144 94h1M146 94h1M155 94h1M159 94h1M114 95h1M116 95h1M122 95h1M127 95h1M129 95h1M131 95h6M140 95h6M147 95h1M151 95h1M83 96h1M108 96h1M114 96h1M117 96h1M122 96h2M125 96h1M127 96h3M131 96h1M135 96h1M140 96h1M143 96h1M146 96h1M151 96h1M156 96h1M69 97h1M107 97h1M118 97h3M122 97h2M126 97h1M130 97h1M132 97h2M136 97h1M139 97h1M146 97h1M148 97h2M151 97h1M116 98h1M123 98h1M125 98h1M131 98h2M137 98h2M142 98h2M146 98h1M148 98h1M107 99h2M110 99h1M115 99h1M117 99h1M119 99h1M122 99h1M124 99h2M134 99h1M139 99h2M145 99h1M147 99h1M22 100h1M97 100h1M103 100h2M106 100h2M116 100h3M120 100h2M130 100h2M134 100h2M140 100h1M146 100h1M156 100h1M70 101h1M98 101h1M106 101h1M109 101h1M114 101h1M117 101h1M133 101h1M145 101h1M147 101h1M149 101h1M154 101h1M63 102h1M76 102h1M93 102h1M106 102h1M108 102h2M113 102h1M115 102h1M119 102h1M128 102h1M133 102h1M137 102h1M139 102h1M141 102h1M148 102h1M150 102h1M65 103h1M76 103h1M82 103h1M89 103h1M96 103h1M99 103h1M103 103h1M111 103h1M117 103h1M119 103h3M123 103h2M131 103h1M140 103h1M146 103h3M152 103h1M61 104h1M70 104h2M98 104h1M106 104h1M108 104h1M114 104h1M119 104h1M124 104h1M134 104h2M137 104h1M141 104h1M144 104h1M56 105h1M61 105h1M65 105h1M77 105h1M80 105h1M86 105h1M88 105h1M92 105h2M95 105h1M99 105h1M109 105h1M121 105h1M133 105h1M136 105h1M143 105h1M145 105h2M148 105h2M154 105h2M33 106h1M35 106h1M46 106h2M50 106h1M58 106h1M60 106h1M62 106h1M64 106h2M72 106h1M82 106h1M84 106h1M94 106h1M96 106h1M100 106h2M108 106h2M111 106h3M117 106h1M120 106h1M124 106h1M128 106h1M131 106h1M135 106h2M138 106h2M141 106h2M144 106h3M151 106h1M41 107h1M49 107h1M52 107h1M55 107h1M58 107h1M60 107h3M65 107h2M74 107h1M78 107h1M84 107h1M87 107h1M92 107h2M105 107h1M107 107h2M110 107h1M113 107h1M128 107h1M131 107h2M134 107h2M141 107h1M146 107h1M43 108h1M46 108h1M51 108h2M55 108h1M61 108h1M64 108h3M70 108h1M75 108h1M77 108h2M87 108h2M90 108h1M92 108h1M94 108h1M99 108h3M103 108h1M113 108h1M115 108h3M131 108h1M136 108h6M144 108h1M159 108h1M24 109h1M35 109h1M37 109h1M43 109h1M48 109h3M54 109h1M56 109h2M63 109h1M65 109h2M70 109h1M72 109h3M76 109h4M87 109h4M95 109h2M100 109h1M103 109h1M106 109h1M108 109h1M113 109h4M119 109h1M126 109h1M130 109h1M134 109h1M138 109h1M144 109h1M150 109h1M32 110h2M42 110h3M48 110h1M51 110h2M54 110h1M56 110h1M59 110h1M64 110h1M66 110h2M69 110h1M72 110h1M74 110h1M81 110h2M86 110h1M91 110h1M94 110h1M100 110h1M103 110h2M111 110h1M114 110h1M128 110h1M130 110h2M138 110h1M140 110h1M144 110h1M153 110h1M43 111h2M46 111h2M50 111h3M55 111h1M57 111h1M59 111h1M68 111h1M72 111h1M74 111h2M77 111h1M79 111h2M83 111h1M87 111h1M92 111h1M96 111h1M98 111h1M102 111h2M117 111h1M120 111h1M125 111h1M128 111h1M131 111h4M136 111h1M142 111h1M147 111h1M44 112h1M54 112h1M57 112h1M64 112h3M69 112h2M72 112h3M79 112h1M82 112h1M85 112h2M91 112h1M93 112h3M99 112h2M102 112h2M110 112h3M115 112h1M117 112h1M121 112h1M123 112h1M125 112h1M127 112h1M134 112h1M144 112h1M149 112h1M155 112h1M27 113h1M30 113h1M37 113h1M45 113h1M48 113h1M51 113h1M53 113h1M55 113h1M65 113h1M74 113h2M78 113h2M81 113h1M84 113h1M87 113h1M89 113h2M93 113h1M96 113h4M105 113h1M109 113h3M113 113h1M116 113h5M122 113h1M125 113h1M129 113h2M132 113h1M134 113h1M139 113h1M12 114h1M32 114h1M37 114h1M41 114h2M47 114h2M50 114h1M52 114h1M60 114h1M67 114h3M71 114h4M76 114h1M80 114h1M82 114h1M90 114h1M94 114h1M96 114h1M99 114h1M110 114h1M120 114h1M122 114h1M124 114h2M128 114h1M130 114h1M134 114h1M138 114h3M143 114h2M151 114h2M155 114h1M22 115h1M33 115h2M37 115h1M39 115h1M41 115h2M44 115h1M46 115h1M48 115h3M52 115h1M65 115h1M72 115h1M75 115h2M78 115h1M81 115h1M84 115h3M89 115h1M91 115h7M104 115h3M110 115h1M115 115h1M119 115h1M121 115h2M126 115h1M131 115h1M18 116h1M26 116h1M31 116h1M38 116h1M41 116h1M43 116h2M46 116h1M48 116h1M52 116h1M54 116h1M62 116h1M64 116h2M68 116h3M72 116h1M74 116h1M76 116h2M81 116h1M84 116h1M86 116h1M89 116h2M96 116h1M99 116h1M104 116h2M107 116h1M110 116h4M115 116h1M121 116h2M124 116h2M127 116h1M130 116h1M135 116h1M26 117h1M31 117h2M34 117h3M40 117h3M44 117h1M47 117h1M50 117h1M52 117h2M56 117h1M58 117h2M61 117h1M72 117h1M75 117h1M77 117h1M79 117h1M83 117h3M88 117h2M91 117h1M94 117h1M96 117h1M99 117h1M101 117h1M103 117h1M106 117h2M111 117h1M115 117h2M118 117h2M125 117h1M127 117h1M131 117h1M142 117h1M164 117h1M14 118h1M23 118h2M27 118h1M29 118h1M33 118h1M36 118h1M38 118h1M48 118h2M58 118h1M61 118h1M66 118h1M72 118h2M77 118h3M84 118h2M88 118h2M91 118h2M95 118h2M102 118h2M105 118h2M110 118h1M113 118h1M117 118h1M119 118h2M125 118h2M130 118h3M137 118h2M143 118h1M145 118h1M20 119h1M22 119h1M26 119h2M32 119h1M38 119h3M50 119h1M52 119h1M55 119h1M66 119h2M69 119h2M78 119h2M81 119h1M84 119h1M86 119h2M89 119h1M92 119h1M94 119h1M96 119h1M99 119h1M102 119h1M105 119h2M108 119h1M110 119h1M115 119h1M126 119h2M132 119h2M20 120h1M24 120h1M28 120h1M32 120h1M36 120h2M39 120h1M43 120h1M45 120h1M49 120h1M51 120h1M58 120h1M77 120h1M80 120h1M83 120h1M85 120h1M87 120h3M92 120h1M96 120h1M100 120h1M104 120h1M107 120h2M110 120h1M113 120h1M116 120h1M119 120h1M122 120h1M124 120h1M126 120h2M133 120h1M139 120h1M21 121h1M23 121h1M28 121h2M31 121h1M33 121h1M37 121h2M41 121h1M63 121h1M69 121h1M71 121h1M77 121h1M81 121h1M86 121h1M89 121h2M92 121h1M97 121h2M100 121h1M102 121h1M104 121h1M106 121h1M115 121h1M117 121h1M119 121h1M122 121h1M128 121h1M20 122h1M22 122h1M24 122h1M27 122h4M32 122h1M34 122h2M42 122h1M72 122h1M74 122h1M85 122h1M87 122h1M90 122h2M94 122h1M98 122h2M102 122h1M105 122h1M107 122h1M110 122h2M114 122h1M116 122h1M119 122h1M123 122h1M20 123h1M22 123h1M26 123h1M30 123h3M34 123h1M45 123h2M49 123h1M56 123h1M66 123h2M73 123h1M79 123h1M84 123h1M87 123h2M91 123h1M93 123h1M96 123h1M102 123h1M109 123h1M14 124h1M19 124h2M23 124h1M35 124h1M38 124h1M60 124h1M66 124h1M77 124h1M82 124h1M85 124h1M88 124h1M90 124h2M97 124h1M107 124h1M123 124h1M4 125h1M17 125h2M25 125h1M27 125h1M52 125h1M64 125h1M68 125h1M74 125h1M77 125h1M79 125h2M82 125h1M84 125h1M87 125h1M89 125h1M91 125h1M93 125h1M98 125h1M100 125h1M112 125h1M3 126h1M7 126h1M10 126h1M12 126h1M21 126h3M25 126h1M29 126h3M37 126h1M39 126h1M47 126h1M61 126h1M69 126h1M72 126h1M78 126h1M81 126h1M85 126h1M92 126h1M96 126h3M103 126h1M105 126h1M107 126h1M115 126h1M129 126h1M132 126h1M15 127h1M17 127h1M19 127h2M22 127h2M27 127h4M34 127h2M50 127h1M70 127h1M75 127h1M77 127h1M79 127h2M82 127h1M90 127h2M93 127h1M96 127h1M98 127h1M100 127h2M112 127h1M122 127h1M7 128h1M14 128h2M19 128h1M21 128h1M25 128h1M27 128h1M29 128h1M34 128h1M44 128h1M54 128h1M80 128h3M87 128h6M101 128h1M112 128h1M114 128h1M20 129h1M23 129h1M25 129h1M27 129h1M30 129h1M42 129h1M45 129h1M68 129h1M70 129h1M78 129h2M81 129h2M88 129h1M90 129h1M92 129h1M101 129h1M106 129h2M114 129h1M117 129h1M6 130h1M12 130h2M17 130h1M20 130h1M26 130h2M45 130h1M70 130h1M73 130h1M78 130h2M81 130h1M89 130h1M91 130h1M103 130h2M109 130h1M16 131h1M22 131h2M28 131h3M32 131h1M34 131h1M79 131h4M87 131h1M89 131h1M91 131h1M104 131h1M6 132h1M13 132h1M15 132h2M18 132h1M24 132h1M26 132h1M56 132h1M64 132h1M76 132h1M78 132h2M84 132h1M90 132h1M93 132h1M99 132h1M105 132h1M14 133h1M16 133h1M19 133h1M21 133h2M24 133h1M40 133h1M76 133h2M84 133h1M86 133h1M88 133h1M90 133h1M5 134h1M13 134h1M18 134h1M24 134h1M31 134h2M34 134h1M40 134h1M43 134h1M71 134h1M76 134h1M78 134h1M80 134h3M85 134h2M88 134h3M92 134h2M97 134h1M124 134h1M17 135h3M24 135h1M26 135h1M29 135h1M73 135h2M77 135h2M93 135h1M96 135h2M104 135h1M12 136h1M14 136h2M18 136h1M22 136h1M74 136h1M80 136h1M85 136h1M90 136h1M92 136h1M98 136h1M8 137h1M12 137h3M18 137h3M22 137h1M26 137h1M38 137h1M69 137h1M74 137h1M83 137h2M93 137h1M16 138h2M27 138h1M29 138h1M63 138h1M78 138h1M84 138h2M87 138h1M89 138h3M95 138h1M10 139h1M12 139h1M14 139h2M20 139h2M24 139h2M27 139h1M32 139h1M47 139h1M62 139h1M83 139h2M88 139h1M91 139h1M93 139h2M101 139h1M5 140h1M7 140h2M12 140h2M16 140h1M22 140h1M27 140h1M47 140h1M76 140h1M79 140h1M82 140h1M85 140h1M88 140h1M90 140h1M93 140h2M16 141h1M22 141h2M26 141h1M30 141h1M74 141h1M78 141h1M81 141h5M88 141h3M95 141h1M4 142h1M9 142h1M11 142h1M13 142h2M16 142h3M20 142h1M32 142h2M55 142h1M72 142h1M94 142h1M12 143h1M22 143h1M24 143h1M31 143h1M71 143h1M79 143h1M81 143h1M102 143h1M8 144h1M14 144h1M16 144h1M19 144h4M27 144h1M32 144h1M37 144h2M50 144h1M54 144h1M69 144h1M73 144h2M77 144h1M80 144h3M85 144h3M89 144h1M93 144h1M9 145h1M13 145h1M17 145h1M20 145h1M29 145h1M31 145h1M35 145h2M72 145h1M78 145h1M86 145h2M93 145h1M96 145h1M18 146h1M20 146h3M25 146h3M31 146h1M34 146h1M37 146h1M58 146h1M62 146h2M72 146h1M74 146h1M76 146h1M83 146h1M87 146h1M96 146h1M12 147h1M17 147h2M22 147h1M24 147h2M29 147h1M32 147h1M34 147h2M37 147h1M68 147h1M70 147h1M72 147h1M75 147h3M82 147h2M85 147h1M2 148h1M8 148h1M16 148h1M19 148h1M24 148h1M26 148h1M28 148h2M32 148h1M49 148h1M59 148h1M69 148h1M71 148h1M75 148h2M84 148h2M11 149h2M17 149h1M20 149h1M25 149h2M28 149h1M32 149h2M36 149h1M41 149h1M45 149h1M56 149h1M66 149h3M73 149h1M75 149h2M88 149h1M14 150h1M19 150h2M22 150h1M30 150h2M33 150h2M43 150h1M46 150h1M52 150h1M65 150h1M73 150h1M75 150h3M79 150h1M81 150h1M83 150h1M15 151h1M20 151h2M24 151h3M32 151h2M36 151h1M54 151h2M62 151h2M65 151h1M69 151h2M76 151h1M80 151h1M15 152h2M18 152h1M21 152h1M25 152h2M28 152h3M32 152h2M35 152h2M40 152h2M44 152h1M48 152h1M51 152h1M56 152h1M61 152h1M64 152h1M67 152h2M78 152h1M84 152h1M89 152h1M11 153h1M22 153h2M26 153h2M31 153h2M36 153h2M39 153h2M42 153h1M48 153h1M53 153h1M57 153h3M71 153h2M80 153h1M12 154h1M22 154h1M24 154h1M27 154h1M31 154h1M33 154h3M39 154h2M43 154h1M51 154h2M55 154h1M59 154h1M61 154h1M64 154h1M66 154h2M72 154h1M75 154h1M77 154h1M81 154h2M22 155h1M27 155h1M32 155h1M36 155h1M39 155h2M44 155h1M49 155h1M57 155h1M62 155h1M64 155h2M75 155h1"/><path stroke-opacity="0.75" d="M138 89h1M118 92h1M120 92h1M132 92h1M122 93h1M144 93h1M127 94h1M134 94h1M145 94h1M139 95h1M149 95h1M119 96h1M133 96h1M141 96h1M144 96h1M129 97h1M131 97h1M140 97h1M143 97h1M115 98h1M130 98h1M134 98h1M140 98h1M145 98h1M132 99h1M135 99h1M138 99h1M143 99h1M146 99h1M113 100h1M126 100h1M128 100h2M133 100h1M143 100h1M118 101h3M125 101h2M128 101h1M131 101h1M135 101h2M138 101h1M140 101h3M117 102h2M120 102h2M125 102h1M132 102h1M134 102h1M108 103h1M112 103h1M114 103h1M122 103h1M125 103h1M129 103h1M136 103h1M139 103h1M145 103h1M115 104h2M120 104h1M123 104h1M126 104h1M129 104h1M98 105h1M100 105h1M103 105h1M107 105h1M110 105h1M113 105h1M115 105h1M118 105h1M123 105h1M127 105h1M131 105h2M138 105h2M71 106h1M83 106h1M103 106h2M110 106h1M121 106h1M125 106h2M130 106h1M133 106h2M137 106h1M101 107h1M109 107h1M118 107h1M120 107h1M123 107h3M127 107h1M129 107h1M136 107h1M44 108h1M73 108h2M95 108h1M111 108h2M120 108h1M127 108h4M147 108h1M111 109h1M117 109h1M120 109h1M122 109h2M125 109h1M57 110h1M68 110h1M107 110h1M109 110h1M113 110h1M115 110h1M118 110h1M121 110h2M125 110h1M127 110h1M129 110h1M132 110h1M40 111h1M42 111h1M49 111h1M58 111h1M60 111h1M62 111h1M66 111h1M95 111h1M107 111h1M109 111h1M111 111h1M114 111h2M122 111h2M126 111h2M129 111h1M137 111h2M146 111h1M32 112h1M40 112h2M46 112h1M48 112h1M51 112h1M56 112h1M58 112h2M61 112h3M68 112h1M87 112h1M105 112h2M109 112h1M114 112h1M116 112h1M122 112h1M124 112h1M39 113h1M54 113h1M57 113h1M62 113h1M66 113h2M69 113h1M71 113h1M76 113h1M83 113h1M88 113h1M101 113h1M106 113h2M115 113h1M127 113h1M138 113h1M35 114h1M40 114h1M44 114h1M46 114h1M59 114h1M61 114h1M78 114h2M83 114h1M92 114h1M98 114h1M101 114h2M109 114h1M112 114h1M114 114h1M116 114h1M118 114h2M121 114h1M123 114h1M127 114h1M129 114h1M132 114h2M40 115h1M53 115h2M56 115h1M68 115h1M71 115h1M74 115h1M77 115h1M87 115h1M100 115h3M107 115h1M111 115h2M117 115h1M137 115h1M30 116h1M35 116h1M42 116h1M49 116h3M53 116h1M57 116h1M67 116h1M73 116h1M75 116h1M82 116h1M87 116h1M92 116h1M95 116h1M97 116h2M100 116h1M106 116h1M117 116h1M119 116h2M123 116h1M131 116h1M43 117h1M48 117h2M54 117h1M68 117h1M73 117h1M82 117h1M90 117h1M92 117h1M95 117h1M97 117h1M104 117h1M108 117h1M110 117h1M120 117h2M123 117h1M126 117h1M32 118h1M34 118h1M46 118h1M56 118h2M59 118h1M63 118h1M67 118h2M74 118h1M81 118h2M86 118h1M90 118h1M99 118h3M124 118h1M35 119h3M42 119h1M45 119h1M47 119h1M56 119h1M59 119h2M62 119h1M68 119h1M73 119h2M76 119h1M82 119h1M85 119h1M90 119h1M93 119h1M95 119h1M98 119h1M101 119h1M103 119h1M111 119h1M41 120h2M44 120h1M53 120h1M57 120h1M62 120h1M64 120h1M67 120h1M69 120h5M75 120h1M82 120h1M95 120h1M103 120h1M120 120h1M32 121h1M35 121h1M45 121h1M47 121h1M53 121h1M58 121h1M61 121h2M64 121h3M74 121h1M76 121h1M82 121h2M110 121h1M124 121h1M25 122h1M36 122h2M39 122h1M41 122h1M44 122h1M59 122h1M63 122h1M73 122h1M75 122h2M81 122h1M83 122h1M89 122h1M93 122h1M95 122h1M27 123h1M29 123h1M35 123h1M38 123h1M41 123h2M44 123h1M55 123h1M65 123h1M80 123h1M83 123h1M90 123h1M94 123h1M101 123h1M26 124h1M29 124h6M36 124h2M42 124h1M45 124h1M62 124h1M65 124h1M70 124h2M73 124h1M80 124h1M83 124h2M86 124h1M93 124h1M26 125h1M29 125h1M33 125h4M44 125h1M49 125h1M53 125h1M66 125h1M70 125h1M72 125h1M83 125h1M85 125h1M90 125h1M92 125h1M103 125h1M20 126h1M27 126h2M32 126h1M34 126h2M41 126h1M46 126h1M49 126h3M54 126h1M64 126h1M71 126h1M80 126h1M83 126h1M86 126h1M24 127h3M31 127h1M38 127h1M43 127h1M51 127h2M59 127h1M67 127h1M69 127h1M78 127h1M81 127h1M84 127h3M20 128h1M26 128h1M32 128h1M35 128h1M41 128h1M43 128h1M51 128h1M61 128h1M63 128h1M68 128h1M74 128h1M77 128h1M96 128h1M103 128h1M18 129h1M24 129h1M26 129h1M33 129h2M41 129h1M60 129h2M63 129h3M69 129h1M77 129h1M80 129h1M86 129h2M99 129h1M21 130h3M25 130h1M30 130h2M33 130h1M35 130h1M38 130h1M66 130h1M74 130h2M77 130h1M82 130h2M20 131h2M25 131h3M31 131h1M37 131h1M40 131h2M51 131h1M55 131h2M62 131h1M73 131h3M77 131h1M83 131h2M90 131h1M19 132h1M27 132h3M32 132h1M34 132h1M36 132h1M38 132h2M42 132h1M48 132h2M62 132h1M75 132h1M83 132h1M86 132h1M97 132h1M23 133h1M26 133h1M28 133h1M30 133h1M37 133h1M42 133h1M62 133h1M73 133h1M75 133h1M78 133h1M80 133h1M83 133h1M22 134h2M25 134h2M29 134h1M38 134h1M70 134h1M72 134h1M74 134h1M84 134h1M100 134h1M22 135h2M28 135h1M42 135h1M56 135h1M79 135h1M82 135h1M84 135h1M26 136h1M29 136h1M31 136h1M34 136h1M39 136h1M48 136h2M66 136h1M71 136h1M73 136h1M77 136h2M81 136h3M86 136h1M88 136h1M16 137h1M23 137h1M27 137h2M31 137h1M39 137h1M59 137h1M76 137h1M78 137h1M80 137h2M86 137h1M20 138h1M31 138h1M33 138h1M35 138h1M37 138h1M40 138h1M44 138h3M59 138h1M67 138h1M72 138h1M74 138h2M77 138h1M79 138h1M83 138h1M96 138h1M18 139h2M22 139h1M26 139h1M29 139h1M35 139h2M68 139h1M70 139h1M15 140h1M32 140h2M35 140h2M39 140h1M41 140h1M43 140h1M65 140h1M67 140h1M81 140h1M17 141h1M31 141h1M33 141h1M39 141h1M41 141h1M43 141h1M46 141h1M67 141h2M71 141h1M76 141h1M79 141h1M93 141h1M24 142h1M26 142h4M31 142h1M41 142h1M74 142h4M80 142h1M15 143h2M20 143h1M27 143h2M36 143h1M39 143h2M46 143h1M73 143h1M15 144h1M24 144h1M36 144h1M44 144h1M70 144h1M75 144h1M23 145h1M26 145h1M30 145h1M37 145h4M43 145h1M48 145h1M56 145h1M73 145h1M76 145h1M83 145h1M85 145h1M23 146h1M29 146h2M33 146h1M41 146h2M66 146h1M69 146h1M71 146h1M73 146h1M75 146h1M81 146h2M84 146h1M21 147h1M26 147h3M36 147h1M45 147h1M61 147h1M64 147h1M66 147h2M73 147h2M78 147h1M88 147h1M13 148h1M20 148h1M31 148h1M34 148h2M37 148h2M40 148h3M46 148h1M66 148h1M72 148h3M77 148h2M80 148h1M27 149h1M29 149h1M31 149h1M34 149h1M37 149h1M46 149h1M50 149h1M61 149h1M64 149h2M69 149h1M71 149h1M79 149h1M36 150h4M42 150h1M49 150h1M56 150h1M60 150h2M66 150h2M71 150h2M18 151h1M31 151h1M35 151h1M37 151h1M39 151h3M59 151h1M64 151h1M72 151h1M75 151h1M78 151h1M22 152h2M34 152h1M37 152h1M43 152h1M46 152h1M50 152h1M52 152h1M65 152h1M69 152h1M71 152h1M80 152h1M24 153h2M33 153h1M45 153h1M50 153h3M61 153h1M68 153h1M30 154h1M38 154h1M46 154h1M48 154h2M54 154h1M57 154h2M73 154h1M31 155h1M42 155h1M45 155h1M51 155h1M53 155h3M58 155h2M68 155h1M70 155h1"/><path stroke-opacity="1.0" d="M132 91h1M135 93h1M130 94h1M124 95h1M128 95h1M132 96h1M134 96h1M139 96h1M121 97h1M134 97h1M128 98h1M120 99h2M126 99h1M129 99h2M133 99h1M136 99h1M119 100h1M124 100h2M127 100h1M138 100h1M141 100h1M113 101h1M123 101h2M130 101h1M134 101h1M116 102h1M124 102h1M126 102h2M130 102h2M136 102h1M116 103h1M128 103h1M130 103h1M133 103h1M141 103h1M101 104h1M112 104h1M121 104h2M125 104h1M127 104h2M130 104h1M132 104h2M136 104h1M138 104h2M91 105h1M111 105h1M117 105h1M120 105h1M124 105h3M129 105h2M134 105h2M69 106h1M114 106h1M116 106h1M118 106h2M122 106h2M127 106h1M129 106h1M94 107h1M112 107h1M116 107h1M119 107h1M121 107h2M130 107h1M133 107h1M72 108h1M110 108h1M122 108h5M132 108h2M47 109h1M68 109h1M98 109h1M102 109h1M118 109h1M121 109h1M124 109h1M127 109h1M129 109h1M131 109h1M137 109h1M102 110h1M106 110h1M110 110h1M116 110h1M119 110h1M123 110h1M126 110h1M61 111h1M81 111h1M116 111h1M118 111h1M121 111h1M124 111h1M130 111h1M55 112h1M75 112h2M119 112h1M128 112h1M133 112h1M52 113h1M56 113h1M59 113h1M61 113h1M64 113h1M70 113h1M72 113h1M100 113h1M102 113h1M112 113h1M124 113h1M135 113h1M54 114h1M56 114h3M62 114h1M65 114h1M93 114h1M104 114h1M115 114h1M117 114h1M47 115h1M51 115h1M55 115h1M57 115h1M59 115h3M63 115h1M66 115h2M70 115h1M73 115h1M90 115h1M99 115h1M103 115h1M120 115h1M124 115h2M130 115h1M134 115h1M39 116h1M45 116h1M55 116h2M59 116h3M63 116h1M66 116h1M71 116h1M88 116h1M45 117h2M51 117h1M55 117h1M57 117h1M60 117h1M62 117h5M69 117h1M71 117h1M74 117h1M76 117h1M78 117h1M81 117h1M98 117h1M100 117h1M114 117h1M40 118h6M47 118h1M50 118h5M60 118h1M62 118h1M64 118h2M71 118h1M76 118h1M129 118h1M41 119h1M44 119h1M46 119h1M48 119h2M51 119h1M53 119h2M57 119h2M61 119h1M63 119h3M71 119h2M75 119h1M121 119h1M35 120h1M38 120h1M40 120h1M46 120h3M50 120h1M52 120h1M54 120h3M59 120h3M63 120h1M65 120h2M68 120h1M76 120h1M78 120h1M84 120h1M90 120h1M93 120h1M101 120h1M34 121h1M36 121h1M39 121h2M43 121h2M46 121h1M48 121h5M54 121h4M59 121h2M67 121h2M70 121h1M72 121h2M75 121h1M79 121h2M84 121h1M111 121h1M21 122h1M38 122h1M40 122h1M43 122h1M45 122h14M60 122h3M64 122h6M71 122h1M78 122h1M82 122h1M36 123h2M39 123h2M43 123h1M47 123h1M50 123h5M57 123h8M68 123h5M74 123h2M77 123h2M95 123h1M117 123h1M27 124h1M40 124h2M44 124h1M46 124h14M61 124h1M63 124h2M67 124h3M72 124h1M74 124h3M78 124h1M81 124h1M87 124h1M30 125h1M37 125h7M45 125h3M50 125h2M54 125h6M61 125h3M65 125h1M67 125h1M69 125h1M71 125h1M73 125h1M75 125h2M78 125h1M81 125h1M33 126h1M36 126h1M38 126h1M40 126h1M42 126h4M48 126h1M52 126h2M55 126h6M62 126h2M65 126h1M67 126h2M70 126h1M73 126h5M32 127h2M36 127h2M39 127h3M44 127h6M53 127h6M60 127h7M68 127h1M71 127h4M76 127h1M87 127h1M22 128h1M28 128h1M30 128h2M33 128h1M36 128h5M42 128h1M45 128h6M52 128h2M55 128h6M62 128h1M64 128h4M69 128h4M75 128h2M78 128h1M84 128h1M86 128h1M94 128h1M28 129h2M35 129h6M43 129h2M46 129h14M62 129h1M66 129h2M71 129h2M74 129h3M83 129h1M89 129h1M28 130h2M32 130h1M34 130h1M36 130h2M39 130h3M43 130h2M46 130h20M67 130h3M71 130h2M76 130h1M33 131h1M35 131h2M38 131h2M42 131h9M52 131h3M57 131h5M63 131h10M76 131h1M21 132h1M30 132h2M33 132h1M35 132h1M37 132h1M40 132h2M43 132h5M50 132h6M57 132h4M63 132h1M65 132h10M77 132h1M80 132h2M25 133h1M27 133h1M29 133h1M31 133h6M38 133h2M41 133h1M43 133h19M63 133h10M74 133h1M79 133h1M81 133h1M17 134h1M27 134h2M30 134h1M33 134h1M35 134h3M39 134h1M41 134h2M44 134h26M73 134h1M75 134h1M77 134h1M79 134h1M83 134h1M87 134h1M21 135h1M25 135h1M27 135h1M30 135h12M43 135h13M57 135h16M75 135h1M80 135h2M85 135h1M23 136h3M27 136h2M32 136h2M35 136h4M40 136h8M50 136h16M67 136h4M72 136h1M75 136h2M79 136h1M15 137h1M24 137h2M29 137h2M32 137h6M40 137h19M60 137h9M70 137h2M75 137h1M77 137h1M19 138h1M22 138h2M25 138h2M28 138h1M30 138h1M32 138h1M34 138h1M36 138h1M38 138h2M41 138h3M47 138h12M60 138h3M64 138h3M68 138h4M73 138h1M76 138h1M80 138h1M82 138h1M23 139h1M28 139h1M30 139h2M34 139h1M37 139h5M43 139h4M48 139h14M63 139h5M69 139h1M71 139h5M82 139h1M86 139h1M18 140h2M25 140h2M28 140h1M30 140h2M34 140h1M37 140h2M40 140h1M42 140h1M44 140h3M48 140h17M66 140h1M68 140h8M77 140h2M80 140h1M86 140h1M24 141h1M27 141h1M29 141h1M32 141h1M34 141h5M40 141h1M42 141h1M44 141h2M47 141h20M69 141h2M72 141h2M75 141h1M77 141h1M80 141h1M22 142h2M30 142h1M36 142h1M38 142h3M42 142h13M56 142h16M73 142h1M79 142h1M18 143h1M23 143h1M26 143h1M33 143h3M37 143h2M41 143h5M47 143h24M72 143h1M74 143h3M25 144h2M28 144h4M33 144h3M39 144h5M45 144h5M51 144h3M55 144h14M71 144h1M79 144h1M21 145h1M25 145h1M32 145h3M41 145h2M44 145h4M49 145h7M57 145h15M74 145h1M84 145h1M28 146h1M32 146h1M35 146h1M38 146h3M43 146h15M59 146h3M64 146h2M67 146h2M70 146h1M80 146h1M30 147h1M33 147h1M38 147h7M46 147h15M62 147h2M65 147h1M71 147h1M33 148h1M36 148h1M43 148h3M47 148h2M50 148h9M60 148h6M68 148h1M70 148h1M30 149h1M38 149h3M42 149h1M44 149h1M48 149h2M51 149h1M53 149h3M57 149h4M62 149h1M70 149h1M72 149h1M29 150h1M35 150h1M40 150h1M44 150h2M48 150h1M51 150h1M53 150h3M57 150h3M62 150h3M68 150h3M78 150h1M30 151h1M38 151h1M42 151h3M47 151h7M56 151h3M67 151h2M31 152h1M38 152h1M45 152h1M47 152h1M53 152h3M58 152h3M63 152h1M34 153h1M38 153h1M41 153h1M44 153h1M46 153h2M56 153h1M60 153h1M62 153h2M65 153h1M42 154h1M44 154h1M53 154h1M56 154h1M65 154h1M50 155h1M52 155h1"/></g>
</g>
<g id="panelD">
<path d="M1421 1518.0H1433M1421 1385.2H1433M1421 1252.5H1433M1421 1119.8H1433M1421 987.0H1433M1426 1478.0H1433M1426 1454.7H1433M1426 1438.1H1433M1426 1425.2H1433M1426 1414.7H1433M1426 1405.8H1433M1426 1398.1H1433M1426 1391.3H1433M1426 1345.3H1433M1426 1321.9H1433M1426 1305.3H1433M1426 1292.5H1433M1426 1282.0H1433M1426 1273.1H1433M1426 1265.4H1433M1426 1258.6H1433M1426 1212.5H1433M1426 1189.2H1433M1426 1172.6H1433M1426 1159.7H1433M1426 1149.2H1433M1426 1140.3H1433M1426 1132.6H1433M1426 1125.8H1433M1426 1079.8H1433M1426 1056.4H1433M1426 1039.8H1433M1426 1027.0H1433M1426 1016.5H1433M1426 1007.6H1433M1426 999.9H1433M1426 993.1H1433" stroke="rgb(135,135,135)" stroke-width="2.2" fill="none"/>
<path d="M1433.0 1518V1525M1641.5 1518V1525M1850.0 1518V1525M2058.5 1518V1525M2267.0 1518V1525M1495.8 1518V1522.5M1532.5 1518V1522.5M1558.5 1518V1522.5M1578.7 1518V1522.5M1595.2 1518V1522.5M1609.2 1518V1522.5M1621.3 1518V1522.5M1632.0 1518V1522.5M1704.3 1518V1522.5M1741.0 1518V1522.5M1767.0 1518V1522.5M1787.2 1518V1522.5M1803.7 1518V1522.5M1817.7 1518V1522.5M1829.8 1518V1522.5M1840.5 1518V1522.5M1912.8 1518V1522.5M1949.5 1518V1522.5M1975.5 1518V1522.5M1995.7 1518V1522.5M2012.2 1518V1522.5M2026.2 1518V1522.5M2038.3 1518V1522.5M2049.0 1518V1522.5M2121.3 1518V1522.5M2158.0 1518V1522.5M2184.0 1518V1522.5M2204.2 1518V1522.5M2220.7 1518V1522.5M2234.7 1518V1522.5M2246.8 1518V1522.5M2257.5 1518V1522.5" stroke="rgb(105,105,105)" stroke-width="2.8" fill="none"/>
<path d="M1433 986L1433 1519" stroke="rgb(100,100,100)" stroke-width="5" fill="none"/>
<path d="M1432 987L2269 987" stroke="rgb(140,140,140)" stroke-width="4" fill="none"/>
<path d="M2267 986L2267 1519" stroke="rgb(160,160,160)" stroke-width="5" fill="none"/>
<path d="M1427 1518L2269 1518" stroke="rgb(70,70,70)" stroke-width="3" fill="none"/>
<path d="M1782 987L1782 1518" stroke="rgb(150,150,150)" stroke-width="5" fill="none"/>
<path d="M1433 1398L2267 1398" stroke="rgb(110,110,110)" stroke-width="3" fill="none"/>
<g class="pts" transform="translate(1434.5 990.2) scale(3.4)" stroke="#f00" stroke-width="1" fill="none" filter="url(#soft)"><path stroke-opacity="0.45" d="M105 75h1M123 79h1M129 79h1M118 82h1M125 84h1M127 84h1M111 85h1M124 85h1M39 86h1M122 86h1M124 86h1M116 87h1M120 87h1M122 87h1M124 87h1M126 87h1M129 88h1M132 88h1M113 89h1M119 89h2M123 89h1M126 89h1M131 89h3M135 89h1M137 89h1M112 90h2M116 90h1M118 90h2M121 90h1M126 90h2M129 90h2M132 90h1M98 91h1M119 91h1M126 91h1M138 91h1M143 91h1M103 92h1M107 92h1M113 92h1M117 92h1M123 92h3M138 92h1M105 93h1M113 93h2M116 93h3M122 93h1M127 93h2M133 93h1M103 94h2M108 94h1M110 94h1M113 94h1M118 94h1M120 94h1M126 94h3M133 94h1M92 95h1M101 95h1M106 95h1M121 95h2M124 95h1M129 95h1M98 96h1M107 96h1M109 96h3M115 96h2M119 96h2M122 96h1M126 96h2M130 96h1M100 97h1M110 97h2M116 97h1M119 97h1M122 97h1M127 97h3M134 97h1M100 98h2M108 98h1M110 98h1M113 98h2M116 98h1M120 98h2M131 98h1M134 98h1M101 99h1M110 99h1M112 99h1M117 99h1M123 99h2M126 99h1M129 99h1M131 99h1M80 100h1M100 100h1M105 100h1M107 100h1M111 100h1M118 100h1M121 100h1M123 100h2M77 101h1M96 101h1M98 101h1M102 101h2M106 101h2M109 101h1M111 101h2M115 101h3M125 101h2M60 102h1M92 102h1M97 102h1M102 102h1M104 102h3M125 102h1M129 102h1M132 102h1M68 103h1M86 103h1M100 103h1M103 103h1M107 103h3M111 103h1M121 103h3M128 103h2M131 103h1M136 103h1M41 104h1M71 104h1M80 104h1M86 104h1M101 104h1M103 104h1M107 104h1M109 104h1M113 104h1M123 104h1M44 105h1M52 105h1M63 105h1M72 105h1M88 105h1M90 105h1M94 105h2M98 105h1M100 105h1M102 105h2M105 105h1M108 105h1M112 105h1M114 105h1M121 105h2M126 105h1M40 106h1M50 106h1M67 106h1M70 106h1M76 106h1M78 106h2M81 106h1M88 106h1M91 106h1M95 106h1M99 106h1M102 106h1M114 106h1M118 106h2M124 106h2M44 107h2M49 107h1M56 107h1M60 107h3M70 107h1M74 107h2M77 107h2M89 107h1M93 107h1M95 107h1M100 107h1M102 107h1M107 107h1M109 107h1M111 107h1M113 107h1M120 107h3M125 107h1M131 107h1M30 108h1M38 108h1M46 108h1M51 108h1M54 108h1M60 108h1M67 108h1M69 108h1M77 108h2M83 108h1M95 108h1M98 108h2M107 108h1M117 108h1M119 108h1M121 108h2M124 108h2M127 108h1M21 109h1M55 109h2M58 109h1M61 109h1M64 109h1M66 109h1M69 109h1M80 109h2M83 109h2M90 109h1M95 109h2M98 109h2M115 109h1M117 109h2M123 109h2M126 109h1M31 110h1M34 110h1M44 110h1M46 110h1M48 110h1M52 110h2M55 110h1M59 110h1M61 110h2M64 110h3M74 110h1M78 110h1M80 110h2M86 110h1M89 110h3M96 110h1M98 110h1M100 110h1M105 110h1M108 110h1M117 110h2M122 110h1M126 110h1M26 111h1M34 111h1M37 111h2M41 111h1M44 111h1M49 111h1M56 111h4M63 111h2M66 111h2M70 111h2M74 111h1M78 111h1M80 111h1M82 111h3M87 111h1M89 111h1M93 111h1M95 111h3M99 111h1M102 111h1M109 111h1M113 111h3M117 111h2M120 111h1M124 111h1M31 112h1M36 112h2M40 112h1M42 112h2M45 112h1M47 112h1M49 112h1M52 112h3M57 112h2M60 112h3M64 112h1M67 112h1M70 112h1M79 112h3M93 112h2M96 112h5M104 112h1M106 112h1M117 112h1M123 112h1M128 112h1M25 113h1M33 113h1M35 113h1M44 113h1M48 113h4M53 113h1M57 113h1M60 113h1M63 113h1M68 113h3M75 113h2M79 113h2M84 113h3M90 113h3M103 113h1M115 113h1M118 113h1M121 113h1M19 114h1M29 114h2M33 114h1M35 114h1M37 114h1M39 114h1M43 114h1M46 114h1M59 114h2M65 114h1M72 114h1M75 114h2M81 114h2M85 114h6M92 114h1M96 114h3M101 114h2M111 114h1M116 114h1M125 114h1M27 115h1M37 115h2M41 115h1M45 115h1M49 115h1M52 115h2M59 115h1M61 115h1M70 115h1M74 115h1M78 115h4M84 115h1M87 115h3M91 115h1M93 115h1M106 115h1M111 115h1M113 115h1M116 115h3M120 115h1M13 116h1M27 116h1M30 116h1M33 116h1M40 116h2M44 116h2M74 116h2M77 116h1M80 116h1M82 116h1M87 116h1M91 116h1M100 116h1M103 116h1M111 116h2M117 116h1M129 116h1M10 117h1M21 117h1M29 117h2M33 117h2M36 117h1M43 117h1M47 117h1M49 117h1M55 117h1M57 117h1M60 117h1M62 117h1M64 117h1M73 117h1M79 117h1M87 117h1M89 117h2M93 117h3M97 117h1M100 117h1M104 117h1M106 117h1M110 117h5M116 117h1M118 117h1M120 117h1M19 118h1M25 118h2M30 118h2M35 118h1M45 118h1M61 118h1M65 118h1M70 118h1M76 118h1M80 118h1M83 118h2M86 118h1M89 118h2M93 118h1M98 118h2M103 118h1M105 118h1M110 118h1M112 118h3M122 118h1M14 119h1M18 119h1M23 119h1M26 119h1M28 119h1M30 119h3M37 119h1M39 119h2M47 119h2M53 119h1M61 119h1M67 119h1M72 119h2M75 119h1M83 119h1M85 119h1M87 119h1M92 119h2M96 119h2M100 119h2M108 119h1M112 119h1M115 119h1M118 119h1M16 120h1M21 120h1M23 120h1M26 120h1M31 120h1M38 120h3M43 120h2M57 120h1M59 120h1M67 120h1M73 120h1M75 120h2M79 120h2M84 120h1M86 120h2M90 120h1M94 120h2M97 120h2M102 120h1M115 120h1M16 121h1M27 121h1M33 121h2M36 121h1M39 121h1M42 121h1M55 121h1M63 121h1M83 121h1M86 121h3M96 121h1M99 121h1M103 121h5M109 121h1M17 122h1M23 122h1M26 122h1M32 122h1M38 122h1M41 122h2M45 122h1M67 122h1M73 122h2M82 122h1M84 122h1M86 122h1M91 122h1M93 122h1M95 122h1M100 122h1M103 122h3M108 122h1M15 123h2M20 123h1M23 123h1M25 123h1M28 123h2M32 123h1M47 123h1M65 123h1M68 123h1M76 123h1M81 123h5M91 123h2M99 123h1M108 123h1M111 123h2M118 123h1M123 123h1M4 124h1M20 124h2M23 124h1M25 124h1M27 124h2M30 124h1M34 124h1M39 124h2M63 124h1M79 124h1M83 124h1M87 124h1M90 124h2M93 124h1M101 124h1M104 124h1M106 124h2M110 124h1M30 125h1M32 125h1M37 125h1M40 125h1M50 125h1M78 125h1M81 125h2M84 125h1M87 125h3M93 125h1M96 125h1M101 125h1M8 126h1M12 126h1M17 126h1M25 126h1M27 126h1M29 126h1M31 126h1M33 126h2M49 126h1M84 126h4M91 126h1M95 126h1M103 126h2M16 127h1M20 127h1M25 127h1M32 127h1M34 127h1M48 127h1M87 127h1M93 127h2M98 127h2M106 127h1M1 128h1M4 128h1M9 128h1M13 128h1M23 128h1M33 128h1M41 128h1M54 128h1M74 128h1M77 128h1M82 128h2M88 128h1M90 128h1M92 128h1M94 128h1M102 128h1M11 129h1M17 129h1M28 129h1M37 129h1M44 129h1M53 129h1M59 129h1M65 129h1M79 129h1M83 129h1M86 129h1M89 129h1M92 129h1M95 129h1M99 129h1M8 130h1M10 130h1M18 130h2M22 130h2M47 130h1M52 130h1M86 130h1M98 130h1M18 131h1M20 131h2M25 131h1M30 131h1M33 131h1M71 131h1M79 131h1M84 131h2M88 131h1M91 131h2M94 131h1M99 131h1M101 131h1M106 131h1M16 132h1M21 132h1M41 132h1M71 132h1M76 132h1M82 132h2M85 132h2M91 132h1M93 132h1M95 132h1M97 132h1M101 132h2M104 132h1M8 133h2M19 133h2M24 133h1M27 133h1M38 133h1M67 133h1M71 133h1M82 133h2M87 133h1M107 133h1M2 134h1M9 134h2M15 134h1M18 134h1M22 134h1M24 134h1M28 134h1M32 134h1M41 134h1M68 134h1M80 134h3M86 134h1M94 134h2M2 135h1M6 135h1M11 135h1M14 135h1M17 135h4M24 135h1M30 135h1M73 135h1M78 135h1M80 135h1M83 135h1M85 135h1M88 135h1M90 135h1M92 135h1M94 135h2M100 135h2M1 136h1M17 136h1M19 136h2M22 136h1M29 136h1M32 136h1M34 136h1M79 136h2M83 136h1M89 136h1M95 136h1M100 136h1M104 136h1M11 137h1M19 137h1M21 137h2M26 137h1M29 137h1M79 137h1M82 137h2M90 137h1M94 137h1M111 137h1M124 137h1M10 138h1M14 138h1M18 138h2M21 138h1M23 138h1M41 138h1M44 138h1M66 138h1M74 138h1M77 138h4M84 138h4M90 138h1M94 138h1M96 138h1M9 139h1M22 139h2M25 139h1M42 139h1M75 139h1M77 139h1M80 139h1M83 139h1M88 139h2M91 139h3M101 139h1M11 140h1M15 140h2M20 140h2M23 140h1M25 140h1M28 140h1M30 140h1M37 140h2M76 140h2M82 140h1M85 140h1M88 140h1M94 140h2M8 141h1M10 141h1M20 141h3M25 141h1M28 141h2M70 141h2M76 141h1M81 141h3M85 141h4M92 141h2M103 141h1M105 141h1M18 142h1M21 142h1M28 142h1M31 142h2M37 142h1M54 142h1M65 142h1M87 142h1M95 142h1M97 142h1M101 142h1M3 143h1M9 143h1M11 143h1M13 143h1M17 143h2M20 143h3M24 143h2M28 143h1M38 143h1M52 143h1M61 143h1M73 143h1M77 143h1M79 143h1M81 143h1M83 143h1M85 143h1M87 143h1M91 143h1M98 143h1M13 144h2M19 144h4M26 144h4M36 144h1M42 144h1M67 144h1M70 144h1M74 144h1M82 144h1M84 144h1M88 144h1M93 144h1M100 144h1M0 145h1M9 145h1M11 145h1M14 145h1M20 145h1M22 145h1M24 145h2M27 145h2M32 145h1M36 145h1M40 145h1M46 145h1M82 145h2M87 145h1M89 145h1M91 145h1M2 146h1M15 146h1M18 146h1M22 146h1M26 146h1M31 146h2M36 146h1M38 146h1M50 146h1M62 146h1M70 146h1M77 146h1M88 146h1M90 146h1M4 147h1M11 147h1M23 147h3M28 147h1M34 147h1M68 147h2M71 147h1M73 147h1M75 147h2M78 147h3M83 147h1M85 147h2M89 147h1M101 147h1M5 148h1M16 148h1M18 148h3M22 148h1M25 148h1M32 148h4M39 148h1M42 148h1M46 148h1M65 148h1M67 148h2M71 148h1M77 148h2M96 148h1M13 149h1M22 149h2M28 149h1M32 149h1M38 149h1M59 149h1M63 149h1M66 149h1M69 149h1M74 149h1M76 149h1M78 149h1M83 149h1M13 150h1M21 150h1M24 150h1M28 150h1M31 150h4M36 150h2M43 150h2M49 150h2M55 150h2M61 150h1M68 150h1M70 150h2M74 150h2M77 150h1M84 150h2M87 150h1M96 150h1M15 151h2M19 151h1M26 151h2M29 151h2M36 151h3M43 151h1M46 151h1M51 151h2M59 151h1M67 151h1M70 151h2M75 151h5M83 151h2M17 152h1M20 152h1M22 152h3M28 152h1M30 152h1M32 152h1M34 152h1M39 152h1M44 152h1M50 152h2M62 152h2M66 152h2M71 152h1M77 152h2M17 153h1M20 153h1M24 153h1M35 153h1M44 153h1M47 153h1M50 153h1M52 153h1M54 153h3M63 153h1M72 153h1M84 153h1M21 154h1M24 154h1M29 154h4M34 154h1M43 154h1M52 154h3M56 154h3M64 154h2M67 154h1M70 154h1M73 154h1"/><path stroke-opacity="0.75" d="M115 87h1M118 92h1M122 92h1M124 93h1M117 94h1M121 94h1M109 95h1M114 95h3M119 95h1M126 95h1M106 96h1M113 96h2M117 96h1M112 97h2M118 97h1M120 97h2M99 98h1M109 98h1M117 98h1M122 98h2M107 99h1M109 99h1M111 99h1M114 99h1M116 99h1M119 99h4M127 99h1M106 100h1M109 100h1M112 100h1M119 100h1M126 100h1M118 101h5M103 102h1M107 102h1M110 102h2M114 102h1M119 102h2M123 102h1M110 103h1M112 103h1M114 103h1M118 103h1M120 103h1M130 103h1M58 104h1M98 104h1M104 104h1M108 104h1M115 104h1M117 104h3M64 105h1M107 105h1M115 105h1M63 106h1M101 106h1M104 106h2M107 106h3M116 106h1M121 106h2M103 107h2M106 107h1M115 107h1M117 107h1M124 107h1M55 108h1M58 108h1M65 108h1M76 108h1M82 108h1M101 108h1M104 108h3M114 108h1M36 109h1M63 109h1M70 109h1M74 109h1M100 109h5M106 109h1M110 109h1M112 109h3M119 109h1M58 110h1M73 110h1M79 110h1M103 110h2M106 110h1M111 110h1M113 110h1M54 111h1M60 111h1M62 111h1M65 111h1M68 111h2M76 111h1M91 111h1M94 111h1M100 111h1M106 111h1M116 111h1M44 112h1M50 112h1M55 112h1M66 112h1M69 112h1M72 112h2M75 112h1M83 112h1M87 112h1M102 112h1M107 112h5M113 112h1M115 112h1M38 113h1M71 113h1M77 113h1M96 113h1M100 113h1M108 113h1M116 113h1M122 113h1M125 113h1M34 114h1M40 114h1M42 114h1M44 114h2M48 114h3M52 114h1M55 114h1M61 114h1M64 114h1M67 114h2M73 114h1M78 114h1M99 114h1M104 114h1M40 115h1M43 115h1M47 115h1M51 115h1M60 115h1M64 115h1M69 115h1M72 115h1M76 115h1M83 115h1M85 115h1M94 115h1M96 115h1M98 115h6M110 115h1M114 115h1M39 116h1M43 116h1M47 116h1M50 116h2M57 116h1M61 116h1M68 116h1M76 116h1M79 116h1M84 116h1M88 116h1M92 116h1M95 116h1M97 116h1M101 116h1M104 116h2M28 117h1M37 117h1M40 117h2M44 117h1M46 117h1M53 117h1M59 117h1M63 117h1M66 117h1M69 117h1M75 117h2M82 117h1M88 117h1M92 117h1M101 117h1M105 117h1M108 117h1M117 117h1M24 118h1M36 118h2M44 118h1M47 118h1M55 118h1M63 118h1M68 118h1M71 118h1M73 118h1M78 118h1M81 118h1M87 118h1M91 118h1M96 118h1M100 118h1M102 118h1M104 118h1M108 118h1M33 119h2M36 119h1M38 119h1M46 119h1M55 119h1M64 119h3M70 119h1M77 119h2M81 119h2M90 119h2M104 119h1M111 119h1M25 120h1M32 120h1M37 120h1M42 120h1M68 120h1M70 120h1M72 120h1M83 120h1M91 120h3M96 120h1M99 120h1M104 120h1M107 120h1M23 121h1M32 121h1M41 121h1M47 121h1M50 121h1M59 121h1M65 121h1M69 121h1M73 121h1M75 121h1M112 121h1M33 122h1M35 122h1M50 122h2M55 122h2M65 122h1M72 122h1M77 122h1M80 122h1M90 122h1M92 122h1M107 122h1M24 123h1M26 123h1M30 123h2M35 123h1M42 123h1M52 123h2M56 123h1M69 123h1M71 123h1M73 123h1M75 123h1M86 123h1M96 123h1M104 123h1M109 123h1M22 124h1M26 124h1M29 124h1M31 124h1M33 124h1M36 124h1M46 124h3M51 124h2M54 124h1M67 124h1M71 124h2M78 124h1M85 124h1M89 124h1M94 124h1M15 125h1M22 125h2M28 125h1M36 125h1M39 125h1M42 125h1M51 125h1M63 125h1M68 125h2M80 125h1M85 125h1M90 125h1M94 125h2M100 125h1M35 126h1M38 126h1M45 126h1M47 126h1M55 126h1M68 126h1M74 126h1M76 126h1M82 126h1M89 126h2M93 126h2M14 127h1M22 127h1M38 127h2M44 127h2M54 127h1M57 127h1M61 127h1M63 127h1M67 127h4M73 127h1M78 127h2M97 127h1M19 128h1M21 128h1M25 128h1M27 128h1M32 128h1M36 128h1M45 128h1M52 128h1M60 128h1M68 128h1M72 128h2M76 128h1M85 128h2M89 128h1M95 128h1M19 129h1M26 129h1M33 129h2M42 129h1M50 129h1M66 129h1M71 129h2M74 129h2M80 129h2M84 129h1M24 130h1M27 130h1M34 130h2M70 130h1M72 130h1M78 130h1M80 130h2M87 130h4M94 130h1M96 130h1M19 131h1M22 131h1M24 131h1M28 131h1M41 131h1M47 131h1M54 131h1M69 131h1M83 131h1M87 131h1M89 131h1M97 131h1M19 132h1M23 132h1M25 132h4M30 132h1M32 132h1M34 132h1M39 132h1M47 132h1M62 132h2M70 132h1M77 132h1M81 132h1M84 132h1M88 132h1M16 133h1M25 133h1M29 133h2M34 133h1M45 133h1M51 133h1M57 133h1M85 133h2M89 133h1M25 134h1M27 134h1M29 134h1M34 134h2M38 134h1M40 134h1M54 134h1M64 134h1M67 134h1M74 134h1M76 134h1M83 134h1M90 134h1M92 134h1M23 135h1M27 135h1M32 135h1M35 135h2M43 135h1M62 135h1M77 135h1M82 135h1M23 136h1M26 136h1M31 136h1M36 136h2M40 136h1M42 136h1M60 136h1M74 136h1M77 136h1M81 136h2M84 136h1M87 136h1M92 136h1M97 136h1M20 137h1M25 137h1M27 137h2M57 137h1M63 137h1M76 137h1M78 137h1M81 137h1M92 137h1M5 138h1M24 138h4M31 138h1M57 138h1M68 138h1M73 138h1M81 138h1M17 139h1M24 139h1M27 139h1M29 139h1M49 139h1M60 139h1M64 139h1M76 139h1M79 139h1M82 139h1M85 139h1M90 139h1M96 139h1M14 140h1M24 140h1M27 140h1M29 140h1M34 140h1M36 140h1M61 140h1M68 140h1M73 140h2M80 140h2M87 140h1M91 140h1M24 141h1M31 141h1M35 141h1M39 141h1M59 141h1M62 141h1M65 141h5M74 141h1M78 141h1M10 142h1M20 142h1M23 142h1M27 142h1M33 142h1M35 142h2M48 142h1M63 142h1M70 142h1M73 142h2M78 142h2M82 142h2M86 142h1M27 143h1M29 143h1M32 143h1M36 143h1M42 143h1M62 143h1M65 143h1M75 143h2M80 143h1M82 143h1M84 143h1M86 143h1M89 143h1M23 144h1M25 144h1M32 144h3M39 144h1M43 144h2M50 144h1M66 144h1M68 144h2M78 144h2M81 144h1M89 144h1M19 145h1M21 145h1M29 145h2M34 145h1M37 145h2M44 145h1M54 145h1M61 145h1M66 145h1M69 145h1M72 145h1M74 145h2M77 145h1M80 145h1M25 146h1M29 146h2M35 146h1M43 146h1M54 146h1M61 146h1M63 146h1M66 146h1M73 146h1M78 146h1M80 146h3M87 146h1M10 147h1M29 147h2M33 147h1M36 147h1M38 147h1M40 147h1M45 147h1M60 147h1M74 147h1M23 148h2M27 148h1M30 148h1M36 148h3M45 148h1M51 148h2M54 148h1M61 148h1M69 148h2M73 148h1M75 148h1M79 148h1M81 148h1M21 149h1M30 149h2M34 149h1M36 149h2M39 149h1M42 149h2M50 149h3M58 149h1M62 149h1M64 149h2M72 149h1M75 149h1M80 149h1M12 150h1M25 150h1M39 150h1M42 150h1M45 150h1M51 150h1M57 150h1M59 150h1M65 150h3M69 150h1M40 151h1M42 151h1M44 151h1M49 151h1M53 151h2M61 151h1M66 151h1M69 151h1M73 151h1M31 152h1M35 152h3M41 152h1M47 152h1M49 152h1M54 152h2M59 152h2M65 152h1M25 153h1M33 153h1M37 153h4M46 153h1M51 153h1M53 153h1M58 153h2M61 153h2M67 153h1M69 153h2M75 153h2M45 154h2M50 154h1"/><path stroke-opacity="1.0" d="M124 91h1M114 94h1M117 95h2M120 95h1M118 96h1M105 97h1M109 97h1M115 97h1M117 97h1M111 98h2M115 98h1M124 98h1M102 99h1M115 99h1M110 100h1M113 100h5M120 100h1M113 101h2M109 102h1M112 102h2M115 102h3M122 102h1M104 103h1M106 103h1M113 103h1M116 103h2M119 103h1M92 104h1M100 104h1M105 104h2M111 104h2M114 104h1M116 104h1M120 104h1M122 104h1M104 105h1M106 105h1M109 105h3M113 105h1M116 105h4M103 106h1M110 106h4M115 106h1M120 106h1M101 107h1M105 107h1M108 107h1M110 107h1M112 107h1M114 107h1M116 107h1M118 107h1M72 108h1M102 108h2M108 108h3M112 108h2M115 108h1M65 109h1M105 109h1M107 109h3M111 109h1M116 109h1M63 110h1M75 110h1M102 110h1M107 110h1M109 110h1M112 110h1M115 110h1M51 111h1M98 111h1M104 111h1M107 111h2M110 111h1M112 111h1M59 112h1M63 112h1M68 112h1M90 112h2M112 112h1M42 113h1M47 113h1M58 113h2M64 113h1M66 113h2M72 113h1M78 113h1M99 113h1M101 113h2M104 113h2M109 113h2M112 113h3M36 114h1M41 114h1M47 114h1M51 114h1M56 114h3M62 114h2M66 114h1M69 114h3M79 114h2M83 114h1M93 114h1M100 114h1M103 114h1M106 114h2M42 115h1M44 115h1M50 115h1M54 115h5M62 115h2M65 115h2M68 115h1M71 115h1M73 115h1M75 115h1M95 115h1M104 115h2M107 115h3M112 115h1M115 115h1M38 116h1M42 116h1M46 116h1M49 116h1M52 116h1M54 116h3M58 116h3M62 116h5M69 116h4M78 116h1M81 116h1M85 116h1M98 116h2M107 116h1M109 116h1M42 117h1M45 117h1M48 117h1M50 117h3M56 117h1M58 117h1M61 117h1M65 117h1M67 117h2M70 117h2M78 117h1M84 117h1M96 117h1M99 117h1M38 118h4M43 118h1M46 118h1M48 118h1M50 118h5M56 118h5M62 118h1M64 118h1M66 118h2M69 118h1M72 118h1M74 118h2M82 118h1M85 118h1M88 118h1M92 118h1M94 118h2M101 118h1M116 118h1M29 119h1M41 119h3M45 119h1M49 119h2M54 119h1M56 119h5M62 119h2M68 119h2M74 119h1M80 119h1M86 119h1M88 119h1M94 119h2M98 119h1M102 119h2M107 119h1M33 120h1M41 120h1M45 120h6M52 120h5M58 120h1M61 120h6M69 120h1M71 120h1M74 120h1M77 120h2M82 120h1M88 120h2M37 121h2M40 121h1M43 121h3M48 121h1M51 121h4M56 121h3M60 121h3M64 121h1M66 121h3M70 121h3M74 121h1M76 121h4M81 121h2M84 121h2M89 121h3M95 121h1M97 121h2M30 122h2M34 122h1M36 122h2M40 122h1M43 122h2M46 122h4M52 122h3M57 122h8M66 122h1M68 122h4M75 122h2M79 122h1M81 122h1M85 122h1M97 122h1M102 122h1M34 123h1M36 123h6M43 123h4M48 123h4M54 123h2M57 123h8M66 123h2M70 123h1M72 123h1M74 123h1M77 123h4M89 123h1M32 124h1M35 124h1M37 124h2M41 124h5M49 124h2M53 124h1M55 124h8M64 124h3M69 124h2M73 124h1M76 124h2M80 124h2M84 124h1M86 124h1M97 124h2M24 125h4M29 125h1M33 125h3M38 125h1M41 125h1M44 125h1M46 125h4M52 125h7M60 125h3M64 125h4M70 125h1M72 125h6M79 125h1M83 125h1M91 125h1M97 125h1M21 126h1M24 126h1M30 126h1M32 126h1M36 126h2M39 126h6M46 126h1M48 126h1M50 126h5M56 126h12M69 126h5M75 126h1M77 126h5M83 126h1M88 126h1M92 126h1M96 126h1M19 127h1M21 127h1M31 127h1M33 127h1M36 127h2M40 127h3M46 127h2M49 127h5M55 127h2M58 127h3M62 127h1M64 127h3M71 127h2M75 127h3M80 127h2M83 127h1M85 127h1M91 127h1M95 127h1M24 128h1M26 128h1M28 128h1M31 128h1M34 128h2M37 128h4M42 128h3M46 128h6M53 128h1M55 128h5M61 128h7M69 128h3M75 128h1M78 128h4M84 128h1M87 128h1M96 128h1M27 129h1M31 129h1M35 129h2M38 129h4M43 129h1M45 129h5M51 129h2M54 129h5M60 129h5M67 129h4M73 129h1M76 129h3M82 129h1M91 129h1M94 129h1M25 130h1M28 130h2M31 130h3M36 130h3M40 130h7M48 130h4M53 130h17M71 130h1M73 130h5M79 130h1M82 130h1M84 130h2M23 131h1M27 131h1M29 131h1M31 131h2M34 131h7M42 131h5M48 131h6M55 131h14M70 131h1M72 131h4M77 131h2M80 131h2M86 131h1M29 132h1M31 132h1M33 132h1M35 132h4M40 132h1M42 132h5M48 132h14M64 132h6M72 132h4M78 132h3M21 133h1M26 133h1M28 133h1M35 133h3M39 133h6M46 133h5M52 133h5M58 133h9M68 133h3M72 133h7M80 133h2M84 133h1M88 133h1M23 134h1M37 134h1M39 134h1M42 134h12M55 134h9M65 134h2M69 134h5M77 134h3M84 134h2M87 134h1M89 134h1M91 134h1M15 135h1M25 135h1M29 135h1M33 135h2M37 135h6M44 135h18M63 135h10M74 135h3M79 135h1M84 135h1M24 136h2M27 136h2M33 136h1M35 136h1M38 136h2M41 136h1M43 136h17M61 136h13M75 136h2M78 136h1M85 136h2M88 136h1M30 137h27M58 137h5M64 137h12M77 137h1M80 137h1M85 137h2M89 137h1M29 138h1M32 138h9M42 138h2M45 138h12M58 138h8M67 138h1M69 138h4M75 138h2M82 138h1M91 138h1M93 138h1M10 139h1M20 139h1M30 139h3M35 139h7M43 139h6M50 139h10M61 139h3M65 139h10M78 139h1M81 139h1M84 139h1M31 140h1M33 140h1M35 140h1M39 140h22M62 140h6M69 140h4M78 140h2M83 140h1M27 141h1M30 141h1M32 141h3M36 141h3M40 141h19M60 141h2M63 141h2M72 141h2M75 141h1M79 141h1M84 141h1M22 142h1M26 142h1M29 142h2M38 142h10M49 142h5M55 142h8M64 142h1M66 142h4M71 142h2M75 142h1M77 142h1M80 142h1M26 143h1M30 143h2M33 143h2M37 143h1M40 143h2M43 143h9M53 143h8M63 143h2M66 143h7M74 143h1M31 144h1M35 144h1M38 144h1M40 144h2M45 144h5M51 144h15M71 144h3M75 144h3M80 144h1M31 145h1M33 145h1M35 145h1M39 145h1M41 145h3M45 145h1M47 145h7M55 145h6M62 145h4M67 145h2M70 145h2M79 145h1M81 145h1M33 146h1M37 146h1M40 146h3M44 146h6M51 146h3M55 146h6M64 146h2M67 146h3M71 146h2M74 146h1M79 146h1M32 147h1M35 147h1M37 147h1M39 147h1M41 147h4M46 147h6M53 147h7M61 147h7M70 147h1M72 147h1M28 148h2M40 148h2M43 148h2M47 148h4M53 148h1M55 148h6M62 148h1M64 148h1M66 148h1M82 148h1M29 149h1M41 149h1M44 149h6M53 149h5M60 149h1M68 149h1M70 149h1M73 149h1M40 150h2M46 150h1M48 150h1M53 150h2M58 150h1M60 150h1M62 150h2M24 151h1M28 151h1M34 151h1M39 151h1M41 151h1M47 151h2M50 151h1M55 151h4M60 151h1M62 151h1M64 151h2M33 152h1M42 152h2M45 152h1M53 152h1M57 152h2M61 152h1M64 152h1M70 152h1M74 152h1M32 153h1M42 153h2M48 153h1M57 153h1M64 153h2M71 153h1M41 154h1M44 154h1M49 154h1M51 154h1M55 154h1M59 154h1M63 154h1"/></g>
</g>
<g id="panelE">
<path d="M387 2382.0H399M387 2246.8H399M387 2111.5H399M387 1976.2H399M387 1841.0H399M392 2341.3H399M392 2317.5H399M392 2300.6H399M392 2287.5H399M392 2276.8H399M392 2267.7H399M392 2259.9H399M392 2252.9H399M392 2206.0H399M392 2182.2H399M392 2165.3H399M392 2152.2H399M392 2141.5H399M392 2132.5H399M392 2124.6H399M392 2117.7H399M392 2070.8H399M392 2047.0H399M392 2030.1H399M392 2017.0H399M392 2006.3H399M392 1997.2H399M392 1989.4H399M392 1982.4H399M392 1935.5H399M392 1911.7H399M392 1894.8H399M392 1881.7H399M392 1871.0H399M392 1862.0H399M392 1854.1H399M392 1847.2H399" stroke="rgb(135,135,135)" stroke-width="2.2" fill="none"/>
<path d="M399.0 2382V2389M605.5 2382V2389M812.0 2382V2389M1018.5 2382V2389M1225.0 2382V2389M461.2 2382V2386.5M497.5 2382V2386.5M523.3 2382V2386.5M543.3 2382V2386.5M559.7 2382V2386.5M573.5 2382V2386.5M585.5 2382V2386.5M596.1 2382V2386.5M667.7 2382V2386.5M704.0 2382V2386.5M729.8 2382V2386.5M749.8 2382V2386.5M766.2 2382V2386.5M780.0 2382V2386.5M792.0 2382V2386.5M802.6 2382V2386.5M874.2 2382V2386.5M910.5 2382V2386.5M936.3 2382V2386.5M956.3 2382V2386.5M972.7 2382V2386.5M986.5 2382V2386.5M998.5 2382V2386.5M1009.1 2382V2386.5M1080.7 2382V2386.5M1117.0 2382V2386.5M1142.8 2382V2386.5M1162.8 2382V2386.5M1179.2 2382V2386.5M1193.0 2382V2386.5M1205.0 2382V2386.5M1215.6 2382V2386.5" stroke="rgb(105,105,105)" stroke-width="2.8" fill="none"/>
<path d="M399 1840L399 2383" stroke="rgb(150,150,150)" stroke-width="5" fill="none"/>
<path d="M398 1841L1227 1841" stroke="rgb(150,150,150)" stroke-width="4" fill="none"/>
<path d="M1225 1840L1225 2383" stroke="rgb(170,170,170)" stroke-width="5" fill="none"/>
<path d="M393 2382L1227 2382" stroke="rgb(170,170,170)" stroke-width="3" fill="none"/>
<path d="M745 1841L745 2382" stroke="rgb(150,150,150)" stroke-width="5" fill="none"/>
<path d="M399 2260L1225 2260" stroke="rgb(120,120,120)" stroke-width="3" fill="none"/>
<g class="pts" transform="translate(400.5 1844.2) scale(3.4)" stroke="#f00" stroke-width="1" fill="none" filter="url(#soft)"><path stroke-opacity="0.45" d="M147 85h1M126 87h1M143 87h1M156 87h1M130 88h1M139 88h1M143 88h2M138 89h1M145 89h1M121 90h1M131 90h1M136 90h1M139 90h1M143 90h1M149 90h1M101 91h1M140 91h1M130 92h1M139 92h1M142 92h1M111 93h1M122 93h1M127 93h1M133 93h2M137 93h1M145 93h1M111 94h1M121 94h2M133 94h1M135 94h1M142 94h1M149 94h1M153 94h1M106 95h1M118 95h1M126 95h3M130 95h1M134 95h3M139 95h1M141 95h1M145 95h1M147 95h1M113 96h1M117 96h1M122 96h1M125 96h1M130 96h3M134 96h1M137 96h2M140 96h1M142 96h1M120 97h1M127 97h2M130 97h2M134 97h1M140 97h1M146 97h1M148 97h1M109 98h1M114 98h1M126 98h1M128 98h2M132 98h1M134 98h4M139 98h1M141 98h2M84 99h1M110 99h1M112 99h1M114 99h1M118 99h1M120 99h1M122 99h2M128 99h1M130 99h1M137 99h1M147 99h1M115 100h2M120 100h1M123 100h2M128 100h1M130 100h1M132 100h1M139 100h1M151 100h1M84 101h1M98 101h1M108 101h1M111 101h1M114 101h1M119 101h1M121 101h1M123 101h1M127 101h1M138 101h1M143 101h3M96 102h1M100 102h1M114 102h1M118 102h1M123 102h1M128 102h1M131 102h1M134 102h1M136 102h3M143 102h1M35 103h1M101 103h1M108 103h1M115 103h1M117 103h1M125 103h1M128 103h2M133 103h4M140 103h1M147 103h1M90 104h1M96 104h1M101 104h1M105 104h3M113 104h5M126 104h1M130 104h2M137 104h1M140 104h1M145 104h1M147 104h1M82 105h1M99 105h1M106 105h1M108 105h1M112 105h1M117 105h2M131 105h1M134 105h1M137 105h1M141 105h1M145 105h1M147 105h1M63 106h1M71 106h1M87 106h2M103 106h1M109 106h1M116 106h1M118 106h3M126 106h1M128 106h1M136 106h1M60 107h1M71 107h1M79 107h1M81 107h1M103 107h1M106 107h3M110 107h1M114 107h1M116 107h1M120 107h1M124 107h1M126 107h1M128 107h2M132 107h1M141 107h1M143 107h1M56 108h1M64 108h2M70 108h1M72 108h1M75 108h2M79 108h1M85 108h1M87 108h1M89 108h1M94 108h1M99 108h1M101 108h1M106 108h1M108 108h1M112 108h2M115 108h1M117 108h1M122 108h1M128 108h1M132 108h2M136 108h1M139 108h2M38 109h1M57 109h1M63 109h1M67 109h1M82 109h1M84 109h1M89 109h1M95 109h1M97 109h1M106 109h1M110 109h1M116 109h2M124 109h1M128 109h1M136 109h3M140 109h1M142 109h1M32 110h1M45 110h1M49 110h1M60 110h1M63 110h1M67 110h2M70 110h1M72 110h3M76 110h1M78 110h1M83 110h1M86 110h2M91 110h1M96 110h3M106 110h1M108 110h2M111 110h1M113 110h1M119 110h1M131 110h2M134 110h1M137 110h1M139 110h1M145 110h1M149 110h1M32 111h1M44 111h1M50 111h1M56 111h1M66 111h2M71 111h2M74 111h2M77 111h1M79 111h1M81 111h1M83 111h1M85 111h1M92 111h1M94 111h2M99 111h3M103 111h1M106 111h1M108 111h2M111 111h1M113 111h3M126 111h1M129 111h2M134 111h1M136 111h1M139 111h1M141 111h1M41 112h1M44 112h1M56 112h1M61 112h2M69 112h1M71 112h1M74 112h1M76 112h1M78 112h1M84 112h3M89 112h1M94 112h1M98 112h1M103 112h1M106 112h5M113 112h1M117 112h1M122 112h1M124 112h1M128 112h2M132 112h3M137 112h1M142 112h1M35 113h1M38 113h1M43 113h1M49 113h1M57 113h1M66 113h1M69 113h5M75 113h1M77 113h2M83 113h1M86 113h1M88 113h1M93 113h2M98 113h3M103 113h1M106 113h3M110 113h1M114 113h1M116 113h2M119 113h1M122 113h2M125 113h1M127 113h1M131 113h1M135 113h1M137 113h1M143 113h1M41 114h1M43 114h1M50 114h2M54 114h1M58 114h2M63 114h1M68 114h1M70 114h3M76 114h1M79 114h2M83 114h1M87 114h5M93 114h1M108 114h1M110 114h2M113 114h1M117 114h1M124 114h2M129 114h2M134 114h1M138 114h2M36 115h1M49 115h2M55 115h1M65 115h2M68 115h3M77 115h2M80 115h1M82 115h1M87 115h1M89 115h1M92 115h1M96 115h1M98 115h4M108 115h3M112 115h3M117 115h1M129 115h2M133 115h1M25 116h1M28 116h1M32 116h1M36 116h1M40 116h1M43 116h1M45 116h2M48 116h1M50 116h2M57 116h1M59 116h1M65 116h1M75 116h1M79 116h1M81 116h2M85 116h1M90 116h4M100 116h3M107 116h1M116 116h2M122 116h1M125 116h1M129 116h3M134 116h1M138 116h1M140 116h1M21 117h1M35 117h1M38 117h2M41 117h1M44 117h1M46 117h1M49 117h1M55 117h2M58 117h1M64 117h1M69 117h1M78 117h2M84 117h3M88 117h1M94 117h1M102 117h1M108 117h1M111 117h1M119 117h3M124 117h1M128 117h1M130 117h1M23 118h1M28 118h1M39 118h1M43 118h2M46 118h1M50 118h1M61 118h2M76 118h1M86 118h1M88 118h1M91 118h1M95 118h2M98 118h1M106 118h1M108 118h1M111 118h1M113 118h1M116 118h3M123 118h1M125 118h1M127 118h2M26 119h1M39 119h1M42 119h1M44 119h2M51 119h1M55 119h1M60 119h1M68 119h1M74 119h2M87 119h1M92 119h1M94 119h2M97 119h1M100 119h1M107 119h3M111 119h1M113 119h2M122 119h1M124 119h1M126 119h1M128 119h1M135 119h1M33 120h1M35 120h4M46 120h1M49 120h1M51 120h1M59 120h1M71 120h1M75 120h1M78 120h1M82 120h1M86 120h1M91 120h2M94 120h1M97 120h1M99 120h3M104 120h2M110 120h1M112 120h1M119 120h1M121 120h1M124 120h2M26 121h1M30 121h1M32 121h1M37 121h2M43 121h1M45 121h1M47 121h1M49 121h1M51 121h1M53 121h1M57 121h1M59 121h1M72 121h1M76 121h1M81 121h1M83 121h1M85 121h1M91 121h1M95 121h2M105 121h1M110 121h1M112 121h4M124 121h2M23 122h1M33 122h1M35 122h1M38 122h2M67 122h1M74 122h1M80 122h1M88 122h2M92 122h1M94 122h1M98 122h1M102 122h1M107 122h1M110 122h1M112 122h1M122 122h1M131 122h1M16 123h1M24 123h1M31 123h1M34 123h1M37 123h2M40 123h1M42 123h1M51 123h1M55 123h1M57 123h3M61 123h1M73 123h1M85 123h2M90 123h1M92 123h1M98 123h3M103 123h3M108 123h1M113 123h2M117 123h1M126 123h1M129 123h1M29 124h4M35 124h1M37 124h1M46 124h1M92 124h1M94 124h1M96 124h3M108 124h1M110 124h1M112 124h3M21 125h1M35 125h1M38 125h1M40 125h1M45 125h1M51 125h1M61 125h1M72 125h1M82 125h1M94 125h1M97 125h1M99 125h1M103 125h3M107 125h1M113 125h1M116 125h2M121 125h1M16 126h1M22 126h1M27 126h1M36 126h1M38 126h2M41 126h1M47 126h2M50 126h1M62 126h1M79 126h1M84 126h1M94 126h1M98 126h1M106 126h1M109 126h1M111 126h1M116 126h1M123 126h1M125 126h1M134 126h1M19 127h1M21 127h1M24 127h1M27 127h3M35 127h1M39 127h1M45 127h1M55 127h1M57 127h1M85 127h1M88 127h3M92 127h2M99 127h2M102 127h1M111 127h1M118 127h1M6 128h1M18 128h2M31 128h1M41 128h2M79 128h1M81 128h1M92 128h1M94 128h2M100 128h1M102 128h1M106 128h1M110 128h1M19 129h1M25 129h1M27 129h1M33 129h2M42 129h1M80 129h1M85 129h1M91 129h2M95 129h1M102 129h2M108 129h1M13 130h1M22 130h3M27 130h1M31 130h1M44 130h1M84 130h1M88 130h1M92 130h1M94 130h2M97 130h1M103 130h1M18 131h1M21 131h1M24 131h2M27 131h1M29 131h1M34 131h1M38 131h1M82 131h1M86 131h1M92 131h1M100 131h1M110 131h1M25 132h1M28 132h1M31 132h1M35 132h1M40 132h1M43 132h1M88 132h1M93 132h2M97 132h1M99 132h1M14 133h1M20 133h2M24 133h2M28 133h1M39 133h1M41 133h1M54 133h1M89 133h1M91 133h1M94 133h1M99 133h1M140 133h1M12 134h1M18 134h1M22 134h1M27 134h1M30 134h1M81 134h1M84 134h1M86 134h1M89 134h1M95 134h1M97 134h1M99 134h1M101 134h1M109 134h1M17 135h5M23 135h1M26 135h1M34 135h1M42 135h1M65 135h1M78 135h1M85 135h2M91 135h1M98 135h1M100 135h2M105 135h2M109 135h1M115 135h1M13 136h1M17 136h1M23 136h2M26 136h2M32 136h1M71 136h1M76 136h1M87 136h1M104 136h1M111 136h2M17 137h1M21 137h2M26 137h1M30 137h1M35 137h1M79 137h1M83 137h1M88 137h2M93 137h1M96 137h1M102 137h1M9 138h1M16 138h1M18 138h1M20 138h1M22 138h3M31 138h1M36 138h1M90 138h1M94 138h1M97 138h1M99 138h2M105 138h1M16 139h1M23 139h2M27 139h1M30 139h3M81 139h1M85 139h1M88 139h2M91 139h2M94 139h2M99 139h1M103 139h1M18 140h2M23 140h1M27 140h3M34 140h1M39 140h1M53 140h1M79 140h1M81 140h1M85 140h1M89 140h1M92 140h2M96 140h1M99 140h1M101 140h1M20 141h1M22 141h1M24 141h1M26 141h1M28 141h1M31 141h2M36 141h2M41 141h1M76 141h1M85 141h1M87 141h2M91 141h1M94 141h2M98 141h1M100 141h1M102 141h2M18 142h1M22 142h1M31 142h1M76 142h1M79 142h1M88 142h1M96 142h2M100 142h1M17 143h1M22 143h2M25 143h1M77 143h1M80 143h2M83 143h1M90 143h1M99 143h1M102 143h2M111 143h1M2 144h1M12 144h1M17 144h2M20 144h1M24 144h1M30 144h2M34 144h1M49 144h1M72 144h1M87 144h1M89 144h3M101 144h1M7 145h1M14 145h1M17 145h1M21 145h4M29 145h1M39 145h1M74 145h1M77 145h4M86 145h1M88 145h2M92 145h1M95 145h1M97 145h1M106 145h1M11 146h1M14 146h1M24 146h1M27 146h1M32 146h1M35 146h2M41 146h1M46 146h1M78 146h1M89 146h1M93 146h1M100 146h1M17 147h1M20 147h1M31 147h1M39 147h1M41 147h1M48 147h1M64 147h1M75 147h1M79 147h1M85 147h1M91 147h1M93 147h1M14 148h1M27 148h1M29 148h1M31 148h1M34 148h1M36 148h1M51 148h1M78 148h1M84 148h1M89 148h3M93 148h2M15 149h1M32 149h1M38 149h1M44 149h2M47 149h1M75 149h3M84 149h3M89 149h1M19 150h1M21 150h1M24 150h1M29 150h1M35 150h1M38 150h1M43 150h1M53 150h1M57 150h1M69 150h1M76 150h1M79 150h1M83 150h2M88 150h1M93 150h1M99 150h1M6 151h1M21 151h2M26 151h4M36 151h1M55 151h1M67 151h3M71 151h1M73 151h1M75 151h1M78 151h2M82 151h1M87 151h3M19 152h1M23 152h1M25 152h4M31 152h1M33 152h4M38 152h3M47 152h1M53 152h2M65 152h1M68 152h1M71 152h1M73 152h2M79 152h3M83 152h3M88 152h1M16 153h2M19 153h1M21 153h1M24 153h1M30 153h1M32 153h3M40 153h1M48 153h1M52 153h1M56 153h1M62 153h1M66 153h1M71 153h1M78 153h1M82 153h1M86 153h2M92 153h1M10 154h1M28 154h3M35 154h1M42 154h1M46 154h1M53 154h1M60 154h1M63 154h3M69 154h1M73 154h2M78 154h1M81 154h1M14 155h1M19 155h1M25 155h1M29 155h1M31 155h1M35 155h1M41 155h1M44 155h2M50 155h2M53 155h1M57 155h1M59 155h1M65 155h1M70 155h1M72 155h2M79 155h1M83 155h2M21 156h1M26 156h2M30 156h1M34 156h2M45 156h1M47 156h1M51 156h1M58 156h1M61 156h1M67 156h2M71 156h1M73 156h1M76 156h1M81 156h1M84 156h1M16 157h1M33 157h9M47 157h1M52 157h1M54 157h2M57 157h1M59 157h2M62 157h1M64 157h1M66 157h3M71 157h1M78 157h1M80 157h1M88 157h1"/><path stroke-opacity="0.75" d="M136 92h2M129 94h1M131 94h1M123 95h1M144 95h1M121 96h1M132 97h1M131 98h1M138 98h1M140 98h1M116 99h1M119 99h1M133 99h1M138 99h1M117 100h1M127 100h1M131 100h1M133 100h2M136 100h1M115 101h1M120 101h1M125 101h2M128 101h1M130 101h1M135 101h1M105 102h1M116 102h1M125 102h1M127 102h1M135 102h1M139 102h1M116 103h1M120 103h1M122 103h3M130 103h1M139 103h1M118 104h2M121 104h3M125 104h1M127 104h1M133 104h4M89 105h1M94 105h1M115 105h1M121 105h1M127 105h1M130 105h1M133 105h1M143 105h1M112 106h1M114 106h1M117 106h1M129 106h4M135 106h1M141 106h1M117 107h2M125 107h1M127 107h1M133 107h1M142 107h1M116 108h1M126 108h1M131 108h1M134 108h1M64 109h1M68 109h1M74 109h1M93 109h1M107 109h1M111 109h1M119 109h1M123 109h1M130 109h5M56 110h1M66 110h1M79 110h1M85 110h1M107 110h1M110 110h1M114 110h1M116 110h1M118 110h1M121 110h3M125 110h1M128 110h1M130 110h1M55 111h1M65 111h1M68 111h1M87 111h2M104 111h2M116 111h1M125 111h1M128 111h1M131 111h1M51 112h1M59 112h1M63 112h1M77 112h1M95 112h1M112 112h1M114 112h1M121 112h1M130 112h1M61 113h1M67 113h1M74 113h1M80 113h3M90 113h3M109 113h1M111 113h3M118 113h1M120 113h1M128 113h1M132 113h1M53 114h1M55 114h1M57 114h1M64 114h2M73 114h1M77 114h1M81 114h2M84 114h1M86 114h1M92 114h1M94 114h1M98 114h1M103 114h3M109 114h1M112 114h1M114 114h2M118 114h1M120 114h1M128 114h1M44 115h1M48 115h1M53 115h1M63 115h1M71 115h1M74 115h3M81 115h1M83 115h1M91 115h1M97 115h1M102 115h1M104 115h1M111 115h1M116 115h1M126 115h1M131 115h1M49 116h1M56 116h1M60 116h2M66 116h3M84 116h1M86 116h1M96 116h2M103 116h1M108 116h1M112 116h1M115 116h1M118 116h1M123 116h1M126 116h1M47 117h2M51 117h1M59 117h1M61 117h3M65 117h1M73 117h3M81 117h2M89 117h3M96 117h2M112 117h1M116 117h1M122 117h2M125 117h1M51 118h1M53 118h1M60 118h1M65 118h1M68 118h2M72 118h1M75 118h1M89 118h1M93 118h2M103 118h1M105 118h1M109 118h1M121 118h2M136 118h1M38 119h1M40 119h2M52 119h1M54 119h1M58 119h1M71 119h1M84 119h2M91 119h1M96 119h1M99 119h1M102 119h1M106 119h1M115 119h1M117 119h1M120 119h1M40 120h2M43 120h1M45 120h1M48 120h1M66 120h1M69 120h1M74 120h1M79 120h2M87 120h4M103 120h1M108 120h1M114 120h1M116 120h2M123 120h1M126 120h1M39 121h1M41 121h1M52 121h1M55 121h1M63 121h1M71 121h1M73 121h1M75 121h1M78 121h1M84 121h1M90 121h1M92 121h1M99 121h1M106 121h1M31 122h1M36 122h2M41 122h1M43 122h2M54 122h1M66 122h1M71 122h1M85 122h1M111 122h1M115 122h1M32 123h1M35 123h2M48 123h1M56 123h1M62 123h1M66 123h1M77 123h1M83 123h1M94 123h1M97 123h1M101 123h2M109 123h2M120 123h1M122 123h1M38 124h1M40 124h2M45 124h1M47 124h1M51 124h1M55 124h1M58 124h1M60 124h1M70 124h2M73 124h1M79 124h1M83 124h3M87 124h1M89 124h3M93 124h1M100 124h1M103 124h1M111 124h1M30 125h3M41 125h1M44 125h1M47 125h1M49 125h1M54 125h1M56 125h1M65 125h1M77 125h3M81 125h1M85 125h1M87 125h1M89 125h1M91 125h1M100 125h1M28 126h1M31 126h3M53 126h1M72 126h1M81 126h1M83 126h1M85 126h2M89 126h2M92 126h1M99 126h2M102 126h2M108 126h1M23 127h1M37 127h2M40 127h4M49 127h1M52 127h1M58 127h1M62 127h1M75 127h2M87 127h1M91 127h1M101 127h1M107 127h1M26 128h1M30 128h1M32 128h1M35 128h1M39 128h2M48 128h2M71 128h1M88 128h1M90 128h1M97 128h1M30 129h2M41 129h1M51 129h1M54 129h1M60 129h1M74 129h1M83 129h2M93 129h1M96 129h1M98 129h1M100 129h1M28 130h1M30 130h1M32 130h2M39 130h1M43 130h1M62 130h1M65 130h1M80 130h1M87 130h1M89 130h2M31 131h1M36 131h2M69 131h1M73 131h1M78 131h1M83 131h2M90 131h1M96 131h1M26 132h1M33 132h1M41 132h2M48 132h1M56 132h1M71 132h1M80 132h1M86 132h2M89 132h2M102 132h2M23 133h1M27 133h1M32 133h3M64 133h1M75 133h1M77 133h1M92 133h1M25 134h2M29 134h1M32 134h2M44 134h1M50 134h1M65 134h1M85 134h1M88 134h1M91 134h1M96 134h1M25 135h1M28 135h1M30 135h2M37 135h2M41 135h1M47 135h1M59 135h1M81 135h4M90 135h1M93 135h3M16 136h1M18 136h1M28 136h1M30 136h1M34 136h1M43 136h1M47 136h1M57 136h1M83 136h1M89 136h1M98 136h1M100 136h1M102 136h1M24 137h2M33 137h1M40 137h1M43 137h1M72 137h1M76 137h2M81 137h1M84 137h1M94 137h1M25 138h2M29 138h2M34 138h2M73 138h1M79 138h1M82 138h1M84 138h1M87 138h2M98 138h1M37 139h1M39 139h2M44 139h1M67 139h1M78 139h1M22 140h1M24 140h2M32 140h1M35 140h1M37 140h2M47 140h1M49 140h1M76 140h1M84 140h1M88 140h1M25 141h1M29 141h2M51 141h1M59 141h1M81 141h1M97 141h1M25 142h2M32 142h1M34 142h1M37 142h2M44 142h1M69 142h1M78 142h1M82 142h2M91 142h2M15 143h1M21 143h1M27 143h1M29 143h1M31 143h1M34 143h1M41 143h1M50 143h1M65 143h1M68 143h1M70 143h1M76 143h1M79 143h1M82 143h1M88 143h1M93 143h1M22 144h2M26 144h3M33 144h1M41 144h2M54 144h1M78 144h1M80 144h1M85 144h2M13 145h1M18 145h2M35 145h1M43 145h1M46 145h1M75 145h2M81 145h1M90 145h1M25 146h1M28 146h4M33 146h1M38 146h1M40 146h1M50 146h1M80 146h1M82 146h1M90 146h1M97 146h1M18 147h2M28 147h3M34 147h1M36 147h1M43 147h1M66 147h1M71 147h1M76 147h1M78 147h1M81 147h3M86 147h1M88 147h1M101 147h1M21 148h1M32 148h2M42 148h1M52 148h1M79 148h1M81 148h3M86 148h2M26 149h2M31 149h1M33 149h3M39 149h1M46 149h1M61 149h1M67 149h1M81 149h1M20 150h1M26 150h1M30 150h1M32 150h2M36 150h1M41 150h2M48 150h1M58 150h1M74 150h2M77 150h1M31 151h2M34 151h1M38 151h1M44 151h1M46 151h1M48 151h2M58 151h1M61 151h1M70 151h1M80 151h1M32 152h1M37 152h1M42 152h2M48 152h2M51 152h1M59 152h2M66 152h1M69 152h1M77 152h2M25 153h1M27 153h1M31 153h1M35 153h2M38 153h1M42 153h1M44 153h1M50 153h1M58 153h1M63 153h2M68 153h1M72 153h1M79 153h1M31 154h3M40 154h2M43 154h1M50 154h2M56 154h1M66 154h3M70 154h2M75 154h1M32 155h1M37 155h1M39 155h1M42 155h2M46 155h1M48 155h1M54 155h2M60 155h1M28 156h1M42 156h2M46 156h1M48 156h1M53 156h1M59 156h2M66 156h1M27 157h1M42 157h1M46 157h1M49 157h1M51 157h1M58 157h1M63 157h1"/><path stroke-opacity="1.0" d="M123 94h1M129 97h1M121 99h1M132 99h1M129 101h1M121 102h1M126 102h1M130 102h1M126 103h1M131 103h1M137 103h1M112 104h1M129 104h1M107 105h1M110 105h1M116 105h1M119 105h2M122 105h1M124 105h3M128 105h2M132 105h1M136 105h1M140 105h1M115 106h1M121 106h2M124 106h2M127 106h1M140 106h1M113 107h1M121 107h1M123 107h1M139 107h1M119 108h3M123 108h1M125 108h1M129 108h1M109 109h1M112 109h2M115 109h1M120 109h3M126 109h1M129 109h1M135 109h1M139 109h1M93 110h1M112 110h1M115 110h1M120 110h1M124 110h1M126 110h1M102 111h1M117 111h3M122 111h2M127 111h1M133 111h1M140 111h1M64 112h1M66 112h1M111 112h1M115 112h2M118 112h1M120 112h1M123 112h1M125 112h2M65 113h1M89 113h1M115 113h1M124 113h1M62 114h1M69 114h1M75 114h1M85 114h1M101 114h1M106 114h1M116 114h1M119 114h1M123 114h1M126 114h1M47 115h1M56 115h3M61 115h1M64 115h1M72 115h1M79 115h1M84 115h1M86 115h1M88 115h1M93 115h1M95 115h1M105 115h1M115 115h1M120 115h1M55 116h1M58 116h1M62 116h3M69 116h3M73 116h2M77 116h1M83 116h1M89 116h1M104 116h1M109 116h1M113 116h2M119 116h2M45 117h1M52 117h1M57 117h1M60 117h1M66 117h3M70 117h3M77 117h1M80 117h1M83 117h1M99 117h1M101 117h1M113 117h3M117 117h1M48 118h2M52 118h1M54 118h2M57 118h3M63 118h2M66 118h2M70 118h2M73 118h2M77 118h1M79 118h6M90 118h1M97 118h1M119 118h1M43 119h1M47 119h3M56 119h1M59 119h1M61 119h7M69 119h2M72 119h2M76 119h5M82 119h2M88 119h1M90 119h1M93 119h1M101 119h1M105 119h1M42 120h1M44 120h1M52 120h2M56 120h3M60 120h3M64 120h2M67 120h2M70 120h1M72 120h2M76 120h2M81 120h1M83 120h2M93 120h1M98 120h1M111 120h1M115 120h1M46 121h1M48 121h1M54 121h1M56 121h1M58 121h1M60 121h3M64 121h7M74 121h1M79 121h2M82 121h1M86 121h1M88 121h2M93 121h2M42 122h1M45 122h1M47 122h7M55 122h11M68 122h3M72 122h2M75 122h3M79 122h1M81 122h4M86 122h2M91 122h1M93 122h1M95 122h1M100 122h1M39 123h1M41 123h1M43 123h2M46 123h2M49 123h2M52 123h3M60 123h1M63 123h3M67 123h6M74 123h3M78 123h5M84 123h1M87 123h3M93 123h1M95 123h1M119 123h1M42 124h1M44 124h1M48 124h3M52 124h3M56 124h2M59 124h1M61 124h9M72 124h1M74 124h5M80 124h3M88 124h1M95 124h1M99 124h1M101 124h1M39 125h1M43 125h1M46 125h1M48 125h1M50 125h1M52 125h2M55 125h1M57 125h4M62 125h3M66 125h6M73 125h4M80 125h1M83 125h2M86 125h1M88 125h1M90 125h1M93 125h1M95 125h1M40 126h1M42 126h5M49 126h1M51 126h2M54 126h8M63 126h9M73 126h6M80 126h1M82 126h1M87 126h2M30 127h1M32 127h3M36 127h1M44 127h1M46 127h3M50 127h2M53 127h2M56 127h1M59 127h3M63 127h9M73 127h2M77 127h8M86 127h1M96 127h1M29 128h1M34 128h1M36 128h3M44 128h4M50 128h21M72 128h7M80 128h1M82 128h2M85 128h3M89 128h1M91 128h1M37 129h4M43 129h8M52 129h2M55 129h5M61 129h13M75 129h5M81 129h2M86 129h5M94 129h1M26 130h1M34 130h1M36 130h3M40 130h3M45 130h17M63 130h2M66 130h14M81 130h3M85 130h2M93 130h1M32 131h1M35 131h1M39 131h1M41 131h28M70 131h3M74 131h4M79 131h3M85 131h1M87 131h3M29 132h2M32 132h1M34 132h1M36 132h4M44 132h4M49 132h7M57 132h14M72 132h8M81 132h5M26 133h1M29 133h1M31 133h1M35 133h1M37 133h2M40 133h1M42 133h12M55 133h9M65 133h10M76 133h1M78 133h7M87 133h2M90 133h1M93 133h1M24 134h1M31 134h1M35 134h9M45 134h5M51 134h14M66 134h15M82 134h2M87 134h1M90 134h1M93 134h1M29 135h1M32 135h2M35 135h2M43 135h4M48 135h11M60 135h5M66 135h12M79 135h2M87 135h1M92 135h1M31 136h1M33 136h1M35 136h8M44 136h3M48 136h9M58 136h13M72 136h4M77 136h6M84 136h3M88 136h1M90 136h1M23 137h1M27 137h1M32 137h1M34 137h1M36 137h4M41 137h2M44 137h28M73 137h3M78 137h1M80 137h1M82 137h1M85 137h2M90 137h1M28 138h1M33 138h1M37 138h36M74 138h5M80 138h2M83 138h1M85 138h1M92 138h1M25 139h1M28 139h2M33 139h4M38 139h1M41 139h3M45 139h22M68 139h10M79 139h2M82 139h3M86 139h1M90 139h1M30 140h2M33 140h1M36 140h1M40 140h7M48 140h1M50 140h3M54 140h22M77 140h1M80 140h1M86 140h2M90 140h2M33 141h3M38 141h3M42 141h9M52 141h7M60 141h16M77 141h4M82 141h3M86 141h1M27 142h1M29 142h2M33 142h1M35 142h2M40 142h4M45 142h24M70 142h6M77 142h1M80 142h2M84 142h4M89 142h1M30 143h1M33 143h1M35 143h6M42 143h8M51 143h14M66 143h2M69 143h1M71 143h5M78 143h1M84 143h2M87 143h1M29 144h1M32 144h1M35 144h6M43 144h6M50 144h4M55 144h17M73 144h4M79 144h1M81 144h2M84 144h1M27 145h1M30 145h3M34 145h1M37 145h2M40 145h3M44 145h2M47 145h22M70 145h4M82 145h1M26 146h1M34 146h1M37 146h1M39 146h1M42 146h4M47 146h3M51 146h24M76 146h2M79 146h1M83 146h2M86 146h1M32 147h1M35 147h1M37 147h2M40 147h1M42 147h1M44 147h4M49 147h15M65 147h1M67 147h4M72 147h3M77 147h1M80 147h1M25 148h1M28 148h1M30 148h1M37 148h4M43 148h8M53 148h17M71 148h7M80 148h1M85 148h1M23 149h1M28 149h1M36 149h2M40 149h4M48 149h13M63 149h4M68 149h7M78 149h1M34 150h1M37 150h1M39 150h2M44 150h4M49 150h4M54 150h3M59 150h10M70 150h4M78 150h1M82 150h1M30 151h1M33 151h1M39 151h1M41 151h1M43 151h1M45 151h1M47 151h1M50 151h5M56 151h2M59 151h2M62 151h5M72 151h1M74 151h1M81 151h1M29 152h2M44 152h3M50 152h1M52 152h1M55 152h4M61 152h3M67 152h1M72 152h1M39 153h1M41 153h1M43 153h1M45 153h3M49 153h1M51 153h1M53 153h3M57 153h1M59 153h3M67 153h1M69 153h2M73 153h1M76 153h1M36 154h2M47 154h3M52 154h1M54 154h2M57 154h3M61 154h1M33 155h1M36 155h1M40 155h1M47 155h1M49 155h1M52 155h1M56 155h1M61 155h1M67 155h1M69 155h1M50 156h1M55 156h1M62 156h1M69 156h1M50 157h1M53 157h1M56 157h1"/></g>
</g>
<g id="panelF">
<path d="M1436 2391.0H1448M1436 2253.0H1448M1436 2115.0H1448M1436 1977.0H1448M1436 1839.0H1448M1441 2349.5H1448M1441 2325.2H1448M1441 2307.9H1448M1441 2294.5H1448M1441 2283.6H1448M1441 2274.4H1448M1441 2266.4H1448M1441 2259.3H1448M1441 2211.5H1448M1441 2187.2H1448M1441 2169.9H1448M1441 2156.5H1448M1441 2145.6H1448M1441 2136.4H1448M1441 2128.4H1448M1441 2121.3H1448M1441 2073.5H1448M1441 2049.2H1448M1441 2031.9H1448M1441 2018.5H1448M1441 2007.6H1448M1441 1998.4H1448M1441 1990.4H1448M1441 1983.3H1448M1441 1935.5H1448M1441 1911.2H1448M1441 1893.9H1448M1441 1880.5H1448M1441 1869.6H1448M1441 1860.4H1448M1441 1852.4H1448M1441 1845.3H1448" stroke="rgb(135,135,135)" stroke-width="2.2" fill="none"/>
<path d="M1448.0 2391V2398M1655.2 2391V2398M1862.5 2391V2398M2069.8 2391V2398M2277.0 2391V2398M1510.4 2391V2395.5M1546.9 2391V2395.5M1572.8 2391V2395.5M1592.9 2391V2395.5M1609.3 2391V2395.5M1623.1 2391V2395.5M1635.2 2391V2395.5M1645.8 2391V2395.5M1717.6 2391V2395.5M1754.1 2391V2395.5M1780.0 2391V2395.5M1800.1 2391V2395.5M1816.5 2391V2395.5M1830.4 2391V2395.5M1842.4 2391V2395.5M1853.0 2391V2395.5M1924.9 2391V2395.5M1961.4 2391V2395.5M1987.3 2391V2395.5M2007.4 2391V2395.5M2023.8 2391V2395.5M2037.6 2391V2395.5M2049.7 2391V2395.5M2060.3 2391V2395.5M2132.1 2391V2395.5M2168.6 2391V2395.5M2194.5 2391V2395.5M2214.6 2391V2395.5M2231.0 2391V2395.5M2244.9 2391V2395.5M2256.9 2391V2395.5M2267.5 2391V2395.5" stroke="rgb(105,105,105)" stroke-width="2.8" fill="none"/>
<path d="M1448 1838L1448 2392" stroke="rgb(100,100,100)" stroke-width="3" fill="none"/>
<path d="M1447 1839L2279 1839" stroke="rgb(70,70,70)" stroke-width="3" fill="none"/>
<path d="M2277 1838L2277 2392" stroke="rgb(185,185,185)" stroke-width="4" fill="none"/>
<path d="M1442 2391L2279 2391" stroke="rgb(190,190,190)" stroke-width="3" fill="none"/>
<path d="M1794 1839L1794 2391" stroke="rgb(90,90,90)" stroke-width="4" fill="none"/>
<path d="M1448 2267L2277 2267" stroke="rgb(70,70,70)" stroke-width="3" fill="none"/>
<g class="pts" transform="translate(1449.5 1842.2) scale(3.4)" stroke="#f00" stroke-width="1" fill="none" filter="url(#soft)"><path stroke-opacity="0.45" d="M92 89h1M70 91h1M131 94h1M117 96h1M129 96h1M111 97h1M127 98h1M146 98h1M125 99h2M132 99h1M126 100h1M130 100h1M128 101h1M130 101h1M135 101h1M105 102h1M123 102h2M128 102h1M131 102h2M114 103h1M123 103h1M129 103h1M131 103h2M137 103h1M21 104h1M90 104h1M101 104h1M112 104h1M123 104h1M127 104h3M134 104h1M99 105h1M116 105h2M120 105h1M122 105h1M105 106h2M112 106h1M121 106h1M125 106h2M129 106h1M42 107h1M56 107h1M74 107h2M79 107h1M99 107h1M112 107h1M115 107h1M122 107h1M129 107h1M132 107h1M137 107h1M53 108h1M84 108h1M100 108h1M104 108h1M112 108h1M115 108h1M119 108h2M124 108h1M128 108h1M76 109h1M82 109h1M85 109h1M106 109h2M112 109h1M116 109h1M123 109h1M125 109h1M45 110h1M64 110h1M73 110h1M86 110h1M106 110h1M110 110h2M115 110h1M117 110h1M121 110h2M127 110h1M140 110h1M26 111h1M49 111h1M53 111h1M69 111h1M92 111h1M94 111h1M97 111h3M111 111h1M113 111h1M116 111h2M121 111h2M124 111h1M128 111h1M63 112h1M74 112h1M79 112h1M83 112h1M87 112h1M89 112h1M96 112h1M113 112h2M118 112h2M123 112h1M127 112h1M130 112h1M132 112h1M135 112h1M139 112h1M48 113h1M75 113h1M78 113h1M97 113h3M103 113h1M107 113h1M111 113h1M116 113h1M119 113h4M125 113h1M132 113h1M50 114h1M60 114h1M70 114h1M73 114h1M78 114h1M84 114h1M89 114h1M95 114h1M110 114h1M116 114h1M127 114h2M138 114h1M44 115h1M54 115h1M56 115h2M64 115h1M67 115h1M69 115h1M75 115h1M82 115h1M89 115h3M95 115h2M98 115h1M102 115h2M105 115h1M108 115h2M113 115h1M116 115h1M118 115h2M124 115h1M136 115h1M42 116h1M47 116h1M50 116h1M54 116h1M56 116h1M63 116h1M67 116h1M73 116h1M75 116h3M81 116h1M83 116h1M85 116h1M90 116h1M93 116h1M96 116h2M99 116h3M104 116h3M108 116h2M112 116h1M115 116h2M119 116h1M121 116h1M128 116h1M134 116h1M50 117h1M58 117h1M66 117h1M68 117h1M75 117h1M77 117h1M81 117h2M84 117h1M87 117h2M95 117h1M99 117h1M101 117h1M105 117h3M110 117h3M114 117h1M118 117h1M120 117h1M122 117h2M125 117h1M127 117h1M39 118h1M45 118h1M51 118h2M55 118h1M59 118h1M66 118h2M78 118h2M82 118h2M89 118h1M91 118h2M94 118h2M97 118h1M103 118h1M105 118h2M112 118h1M114 118h3M119 118h1M124 118h2M132 118h1M45 119h1M48 119h1M50 119h1M52 119h1M54 119h3M60 119h2M63 119h3M69 119h1M72 119h1M74 119h1M76 119h2M80 119h1M85 119h1M87 119h1M89 119h2M94 119h1M103 119h2M107 119h1M109 119h2M113 119h1M115 119h2M123 119h1M10 120h1M37 120h1M40 120h1M47 120h3M52 120h1M56 120h2M65 120h1M67 120h1M71 120h2M75 120h1M77 120h1M79 120h2M88 120h2M91 120h1M97 120h1M99 120h2M102 120h1M108 120h2M114 120h2M117 120h1M121 120h1M28 121h1M33 121h1M40 121h1M42 121h1M51 121h2M61 121h2M68 121h1M71 121h2M75 121h1M80 121h1M84 121h4M90 121h1M95 121h1M97 121h4M106 121h2M111 121h1M114 121h1M120 121h1M129 121h1M131 121h2M38 122h1M42 122h1M44 122h1M47 122h2M50 122h1M52 122h1M54 122h1M57 122h1M61 122h4M70 122h1M74 122h1M79 122h1M83 122h1M85 122h4M91 122h2M95 122h1M97 122h2M102 122h1M104 122h1M106 122h3M114 122h1M116 122h1M120 122h1M28 123h1M32 123h1M36 123h2M39 123h1M41 123h2M47 123h3M55 123h1M62 123h2M68 123h1M72 123h1M77 123h1M82 123h2M89 123h1M91 123h1M93 123h1M96 123h1M99 123h1M103 123h1M109 123h1M112 123h3M117 123h1M121 123h2M27 124h1M31 124h1M34 124h1M37 124h1M39 124h2M44 124h1M47 124h1M50 124h1M52 124h1M56 124h1M58 124h1M60 124h1M65 124h1M72 124h2M76 124h1M83 124h5M97 124h1M102 124h1M105 124h2M108 124h2M116 124h4M125 124h1M30 125h1M32 125h1M35 125h2M43 125h2M50 125h1M52 125h1M57 125h1M59 125h1M63 125h1M75 125h2M79 125h2M85 125h1M87 125h1M90 125h1M97 125h1M101 125h1M104 125h1M106 125h1M109 125h2M112 125h1M116 125h1M118 125h1M124 125h1M21 126h2M26 126h1M34 126h2M43 126h2M58 126h1M71 126h1M78 126h1M80 126h1M83 126h2M86 126h3M90 126h1M93 126h1M95 126h3M107 126h1M111 126h1M115 126h1M20 127h2M26 127h1M36 127h1M38 127h1M45 127h1M47 127h1M49 127h1M59 127h1M74 127h1M81 127h1M86 127h1M89 127h3M94 127h1M96 127h1M100 127h1M106 127h2M110 127h2M121 127h1M124 127h1M26 128h2M29 128h1M34 128h1M36 128h2M43 128h1M48 128h2M55 128h2M58 128h1M64 128h1M80 128h1M83 128h1M85 128h2M93 128h1M96 128h2M104 128h3M110 128h1M115 128h1M125 128h1M129 128h1M30 129h2M33 129h1M45 129h1M49 129h1M51 129h1M62 129h2M69 129h1M89 129h1M91 129h2M101 129h2M105 129h1M108 129h1M110 129h1M112 129h1M114 129h1M118 129h1M20 130h1M25 130h1M27 130h3M35 130h1M39 130h1M44 130h1M48 130h1M77 130h1M84 130h1M91 130h1M96 130h1M98 130h2M104 130h1M114 130h1M117 130h1M6 131h1M20 131h1M25 131h2M28 131h1M51 131h1M53 131h1M79 131h1M81 131h2M87 131h7M96 131h2M105 131h3M19 132h1M23 132h2M26 132h1M29 132h1M39 132h1M42 132h2M85 132h1M90 132h1M92 132h1M94 132h1M97 132h1M102 132h1M108 132h1M119 132h1M21 133h1M24 133h3M28 133h2M37 133h1M39 133h1M78 133h1M84 133h2M88 133h4M94 133h2M98 133h2M102 133h1M107 133h1M15 134h2M18 134h1M25 134h2M81 134h1M84 134h1M87 134h1M93 134h1M95 134h1M97 134h1M100 134h1M108 134h1M18 135h1M20 135h1M23 135h1M26 135h1M28 135h2M31 135h1M81 135h1M87 135h1M91 135h1M98 135h1M101 135h2M24 136h1M28 136h1M73 136h1M84 136h2M87 136h1M89 136h1M93 136h3M98 136h1M103 136h1M113 136h1M19 137h1M25 137h1M80 137h1M86 137h1M88 137h2M91 137h2M95 137h1M97 137h1M110 137h1M5 138h1M20 138h1M22 138h1M24 138h3M28 138h2M86 138h1M88 138h3M93 138h1M96 138h2M100 138h1M16 139h1M19 139h1M24 139h1M27 139h1M34 139h1M86 139h3M90 139h1M96 139h1M16 140h1M18 140h1M20 140h2M24 140h2M29 140h1M80 140h1M91 140h1M99 140h1M9 141h1M12 141h1M17 141h1M19 141h1M21 141h1M26 141h4M77 141h1M87 141h1M91 141h1M94 141h1M98 141h1M100 141h1M12 142h1M19 142h1M26 142h1M65 142h1M87 142h1M89 142h1M91 142h2M94 142h1M104 142h1M17 143h1M22 143h2M85 143h1M88 143h1M90 143h1M92 143h1M101 143h1M14 144h1M17 144h1M22 144h2M27 144h1M30 144h3M83 144h1M86 144h1M95 144h2M102 144h1M105 144h1M15 145h1M17 145h1M19 145h1M22 145h1M25 145h1M86 145h1M89 145h1M91 145h3M101 145h1M17 146h1M20 146h1M25 146h1M28 146h1M30 146h1M39 146h1M74 146h1M81 146h1M83 146h2M91 146h1M95 146h1M97 146h1M10 147h2M19 147h1M27 147h1M76 147h1M79 147h1M87 147h1M89 147h1M91 147h1M93 147h1M14 148h1M21 148h1M28 148h2M81 148h1M86 148h2M89 148h2M96 148h2M17 149h3M21 149h1M27 149h1M29 149h1M41 149h1M82 149h1M84 149h2M89 149h2M97 149h1M31 150h1M35 150h1M37 150h1M81 150h1M84 150h1M87 150h1M90 150h1M92 150h1M98 150h1M10 151h1M22 151h1M24 151h3M31 151h1M34 151h1M73 151h1M82 151h1M86 151h1M93 151h1M17 152h1M24 152h1M26 152h1M28 152h1M31 152h1M34 152h1M36 152h1M79 152h1M81 152h1M84 152h1M87 152h2M90 152h1M92 152h1M99 152h1M17 153h1M20 153h1M22 153h4M34 153h1M36 153h1M42 153h1M73 153h1M81 153h1M84 153h2M89 153h2M93 153h2M96 153h1M98 153h1M21 154h2M30 154h2M33 154h2M55 154h1M71 154h1M74 154h1M81 154h1M83 154h2M91 154h1M94 154h1M18 155h1M24 155h1M27 155h3M36 155h1M40 155h1M65 155h1M71 155h1M73 155h2M80 155h4M15 156h1M23 156h1M25 156h1M32 156h2M45 156h2M54 156h1M62 156h2M67 156h1M70 156h1M73 156h1M75 156h1M78 156h3M82 156h1M87 156h1M101 156h1M29 157h1M33 157h3M38 157h1M41 157h3M51 157h1M60 157h1M68 157h2M74 157h1M86 157h1M97 157h1M9 158h1M22 158h1M26 158h1M31 158h1M35 158h1M38 158h1M41 158h1M43 158h1M45 158h1M47 158h1M50 158h1M57 158h2M61 158h1M64 158h1M69 158h1M71 158h2M77 158h1M81 158h1M92 158h2M30 159h1M34 159h3M38 159h1M41 159h4M51 159h1M54 159h1M57 159h1M64 159h4M70 159h1M27 160h1M30 160h3M34 160h1M38 160h1M40 160h1M43 160h2M46 160h1M49 160h2M53 160h2M59 160h1M62 160h1M67 160h1M69 160h1M73 160h3M77 160h1"/><path stroke-opacity="0.75" d="M124 103h1M123 105h1M117 106h1M119 106h1M108 107h1M122 108h1M113 109h1M115 109h1M120 109h1M116 110h1M124 110h1M126 110h1M85 111h1M96 111h1M114 111h1M119 111h2M125 111h1M111 112h1M116 112h2M120 112h1M68 113h1M113 113h1M118 113h1M129 113h1M76 114h1M93 114h1M101 114h1M108 114h2M118 114h2M121 114h1M123 114h1M126 114h1M129 114h1M74 115h1M78 115h1M85 115h1M92 115h1M107 115h1M111 115h2M115 115h1M128 115h1M61 116h2M102 116h1M110 116h1M120 116h1M129 116h1M59 117h1M70 117h2M74 117h1M103 117h1M115 117h2M72 118h1M74 118h2M81 118h1M87 118h1M108 118h1M122 118h1M131 118h1M42 119h1M51 119h1M58 119h1M66 119h1M83 119h1M96 119h1M101 119h1M114 119h1M117 119h1M120 119h1M66 120h1M70 120h1M82 120h1M85 120h1M87 120h1M98 120h1M101 120h1M113 120h1M120 120h1M122 120h1M124 120h1M57 121h1M63 121h1M65 121h2M77 121h1M79 121h1M82 121h1M88 121h1M94 121h1M104 121h1M108 121h1M112 121h1M117 121h1M119 121h1M55 122h2M59 122h1M67 122h3M71 122h1M73 122h1M75 122h1M80 122h1M84 122h1M99 122h1M101 122h1M105 122h1M109 122h2M119 122h1M45 123h1M51 123h1M53 123h1M56 123h1M60 123h2M65 123h1M67 123h1M70 123h2M74 123h2M84 123h1M95 123h1M104 123h4M36 124h1M38 124h1M45 124h2M48 124h2M51 124h1M54 124h2M64 124h1M66 124h1M77 124h3M81 124h1M89 124h3M93 124h1M95 124h1M101 124h1M115 124h1M37 125h1M40 125h1M49 125h1M51 125h1M55 125h2M62 125h1M64 125h2M71 125h2M74 125h1M78 125h1M88 125h2M102 125h2M105 125h1M107 125h1M47 126h1M51 126h2M60 126h1M65 126h1M72 126h1M74 126h1M76 126h1M85 126h1M92 126h1M28 127h1M41 127h1M46 127h1M48 127h1M58 127h1M65 127h1M68 127h1M76 127h1M78 127h2M82 127h4M87 127h1M93 127h1M99 127h1M104 127h1M39 128h1M42 128h1M44 128h1M51 128h1M66 128h1M72 128h3M77 128h1M79 128h1M82 128h1M88 128h1M90 128h2M95 128h1M99 128h1M108 128h1M29 129h1M34 129h1M37 129h1M39 129h1M41 129h1M52 129h1M68 129h1M71 129h2M75 129h5M85 129h2M96 129h1M26 130h1M31 130h2M36 130h1M40 130h1M50 130h2M70 130h1M72 130h1M75 130h1M78 130h2M83 130h1M85 130h2M88 130h2M97 130h1M22 131h1M31 131h1M35 131h2M43 131h3M49 131h1M65 131h1M69 131h1M78 131h1M80 131h1M85 131h2M95 131h1M31 132h1M33 132h1M37 132h1M76 132h2M80 132h1M86 132h2M89 132h1M32 133h1M42 133h1M50 133h1M79 133h2M82 133h2M96 133h1M24 134h1M30 134h1M44 134h1M63 134h1M75 134h1M77 134h1M83 134h1M85 134h1M88 134h1M21 135h1M30 135h1M36 135h1M42 135h1M51 135h1M76 135h1M85 135h2M88 135h1M90 135h1M93 135h1M95 135h1M12 136h1M26 136h2M34 136h1M37 136h1M46 136h1M55 136h1M88 136h1M22 137h3M26 137h4M35 137h2M39 137h1M79 137h1M87 137h1M27 138h1M30 138h1M33 138h1M38 138h2M82 138h1M84 138h1M87 138h1M92 138h1M94 138h1M18 139h1M21 139h1M23 139h1M28 139h1M31 139h1M36 139h1M80 139h1M84 139h2M91 139h1M23 140h1M27 140h1M31 140h1M78 140h1M83 140h1M85 140h3M90 140h1M92 140h1M98 140h1M14 141h1M23 141h1M31 141h1M79 141h1M82 141h1M86 141h1M89 141h1M28 142h1M34 142h1M36 142h1M81 142h1M83 142h2M88 142h1M15 143h1M25 143h1M27 143h1M30 143h1M35 143h1M83 143h2M86 143h2M19 144h1M26 144h1M29 144h1M33 144h1M87 144h1M90 144h2M24 145h1M26 145h2M29 145h1M39 145h1M83 145h1M85 145h1M90 145h1M19 146h1M26 146h1M29 146h1M32 146h1M35 146h1M77 146h1M85 146h1M89 146h1M21 147h1M24 147h1M29 147h2M37 147h1M73 147h1M80 147h1M83 147h1M85 147h1M90 147h1M18 148h1M25 148h1M30 148h1M35 148h1M37 148h2M79 148h2M83 148h1M85 148h1M91 148h1M24 149h1M80 149h2M83 149h1M86 149h1M91 149h1M99 149h1M20 150h1M22 150h1M24 150h2M28 150h1M36 150h1M76 150h1M79 150h2M85 150h1M89 150h1M23 151h1M27 151h1M29 151h1M33 151h1M36 151h1M42 151h1M46 151h1M72 151h1M77 151h1M81 151h1M29 152h2M35 152h1M67 152h1M69 152h1M74 152h1M80 152h1M27 153h1M30 153h1M38 153h1M45 153h1M68 153h1M72 153h1M77 153h1M82 153h1M25 154h2M28 154h1M43 154h1M48 154h1M54 154h1M66 154h2M69 154h1M75 154h1M77 154h1M79 154h1M82 154h1M32 155h1M35 155h1M42 155h1M44 155h1M54 155h1M70 155h1M72 155h1M76 155h2M30 156h1M34 156h1M38 156h1M40 156h1M42 156h1M48 156h1M51 156h1M64 156h2M69 156h1M74 156h1M77 156h1M81 156h1M88 156h1M36 157h2M40 157h1M48 157h1M50 157h1M57 157h1M59 157h1M61 157h1M63 157h1M32 158h1M40 158h1M42 158h1M44 158h1M46 158h1M49 158h1M51 158h2M54 158h2M60 158h1M67 158h2M33 159h1M40 159h1M45 159h4M53 159h1M55 159h2M58 159h2M62 159h1M52 160h1M63 160h1M68 160h1M72 160h1"/><path stroke-opacity="1.0" d="M118 107h1M123 108h1M121 109h2M124 109h1M119 110h1M109 111h1M112 113h1M114 113h1M115 114h1M117 114h1M124 114h1M114 115h1M121 115h1M123 115h1M113 116h2M117 116h2M79 117h1M93 117h1M119 117h1M121 117h1M61 118h1M73 118h1M93 118h1M117 118h1M121 118h1M126 118h1M62 119h1M97 119h1M102 119h1M111 119h1M118 119h2M86 120h1M105 120h3M112 120h1M59 121h1M69 121h1M74 121h1M101 121h1M115 121h2M72 122h1M76 122h1M64 123h1M66 123h1M69 123h1M73 123h1M79 123h1M81 123h1M110 123h1M53 124h1M57 124h1M59 124h1M61 124h3M68 124h3M74 124h1M82 124h1M88 124h1M94 124h1M98 124h1M34 125h1M38 125h1M45 125h1M48 125h1M54 125h1M58 125h1M60 125h2M66 125h2M69 125h2M82 125h2M86 125h1M45 126h2M48 126h3M54 126h1M56 126h2M59 126h1M61 126h4M66 126h5M75 126h1M77 126h1M79 126h1M81 126h1M98 126h1M40 127h1M42 127h1M44 127h1M50 127h5M56 127h2M60 127h5M66 127h2M69 127h3M73 127h1M75 127h1M80 127h1M88 127h1M33 128h1M40 128h2M45 128h3M50 128h1M52 128h3M57 128h1M60 128h4M65 128h1M67 128h5M75 128h2M78 128h1M81 128h1M84 128h1M103 128h1M109 128h1M35 129h1M38 129h1M42 129h1M46 129h2M50 129h1M53 129h9M64 129h4M70 129h1M73 129h2M81 129h4M87 129h1M90 129h1M37 130h2M41 130h3M45 130h3M49 130h1M52 130h18M71 130h1M73 130h2M76 130h1M81 130h2M30 131h1M34 131h1M38 131h1M40 131h3M46 131h3M50 131h1M52 131h1M54 131h11M66 131h3M70 131h8M83 131h2M27 132h1M32 132h1M35 132h2M40 132h2M44 132h23M68 132h8M78 132h2M81 132h1M83 132h2M88 132h1M96 132h1M30 133h2M33 133h4M38 133h1M40 133h2M43 133h7M51 133h11M63 133h15M81 133h1M86 133h2M28 134h1M31 134h7M39 134h5M45 134h18M64 134h11M76 134h1M78 134h3M82 134h1M86 134h1M33 135h3M37 135h5M43 135h8M52 135h24M77 135h4M82 135h3M22 136h1M30 136h3M35 136h2M38 136h8M47 136h8M56 136h17M74 136h9M92 136h1M30 137h5M37 137h2M40 137h39M81 137h5M31 138h2M34 138h4M40 138h42M83 138h1M25 139h1M29 139h2M32 139h2M35 139h1M37 139h43M81 139h3M93 139h1M22 140h1M28 140h1M30 140h1M32 140h46M79 140h1M81 140h2M84 140h1M88 140h2M97 140h1M30 141h1M32 141h45M78 141h1M80 141h2M83 141h3M24 142h1M27 142h1M29 142h5M35 142h1M37 142h28M66 142h15M85 142h2M24 143h1M26 143h1M29 143h1M31 143h4M36 143h44M81 143h2M89 143h1M25 144h1M28 144h1M34 144h49M84 144h2M88 144h2M28 145h1M30 145h3M34 145h5M40 145h43M84 145h1M87 145h1M27 146h1M31 146h1M33 146h1M36 146h3M40 146h34M75 146h2M78 146h3M82 146h1M86 146h2M32 147h5M38 147h35M74 147h1M77 147h2M81 147h2M26 148h2M31 148h4M36 148h1M39 148h40M84 148h1M30 149h5M36 149h5M42 149h38M27 150h1M30 150h1M32 150h3M38 150h38M77 150h1M28 151h1M30 151h1M32 151h1M35 151h1M37 151h5M43 151h3M47 151h25M74 151h3M78 151h3M21 152h1M25 152h1M33 152h1M37 152h1M39 152h28M68 152h1M70 152h4M75 152h2M28 153h1M31 153h1M35 153h1M37 153h1M39 153h3M43 153h2M46 153h22M69 153h3M74 153h1M78 153h2M35 154h3M39 154h4M44 154h4M49 154h5M56 154h10M68 154h1M70 154h1M72 154h2M76 154h1M38 155h2M41 155h1M43 155h1M45 155h9M55 155h10M66 155h4M26 156h1M36 156h2M39 156h1M41 156h1M43 156h2M47 156h1M49 156h2M52 156h2M55 156h7M71 156h2M25 157h1M44 157h4M49 157h1M52 157h5M58 157h1M62 157h1M65 157h2M70 157h2M73 157h1M76 157h1M48 158h1M53 158h1M56 158h1M59 158h1M62 158h1M66 158h1M70 158h1M80 158h1M60 159h2M63 159h1M69 159h1M51 160h1M58 160h1"/></g>
</g>
<g id="labels" filter="url(#tsoft)">
<text class="nb" transform="matrix(0.8062 0.0000 0.0000 0.6232 454.97 126.00)">(A)</text>
<text class="nb" transform="matrix(0.8186 0.0000 0.0000 0.6232 589.73 126.00)">Control</text>
<text class="n" transform="matrix(0.0000 -0.6300 0.8028 0.0000 356.20 200.72)">10<tspan x="108.4" y="-2.9" font-size="116.7">⁴</tspan></text>
<text class="n" transform="matrix(0.0000 -0.6300 0.8028 0.0000 356.20 457.73)">10<tspan x="116.4" y="-2.5" font-size="109.7">²</tspan></text>
<text class="n" transform="matrix(0.8842 0.0000 0.0000 0.5915 363.46 754.41)">0</text>
<text class="n" transform="matrix(0.9000 0.0000 0.0000 0.5915 748.25 754.41)">10<tspan x="111.0" y="-5.7" font-size="104.6">²</tspan></text>
<text class="n" transform="matrix(0.9000 0.0000 0.0000 0.5915 1148.25 754.41)">10<tspan x="106.1" y="-3.3" font-size="115.6">⁴</tspan></text>
<text class="s" transform="matrix(0.0000 -0.7155 0.9265 0.0000 528.61 416.58)">3.8</text>
<text class="s pm" transform="matrix(0.0000 -1.0108 1.3214 0.0000 533.00 321.04)">±</text>
<text class="s" transform="matrix(0.0000 -0.6972 0.9559 0.0000 638.57 415.79)">0.63%</text>
<text class="s" transform="matrix(0.9586 0.0000 0.0000 0.6765 826.08 306.99)">4.38</text>
<text class="s pm" transform="matrix(1.3978 0.0000 0.0000 0.9107 1002.41 309.00)">±</text>
<text class="s" transform="matrix(0.9444 0.0000 0.0000 0.6765 828.50 387.99)">1.58</text>
<text class="s" transform="matrix(0.9281 0.0000 0.0000 0.6815 1008.75 387.98)">%</text>
<text class="s" transform="matrix(0.9062 0.0000 0.0000 0.6667 731.84 656.00)">1.21</text>
<text class="s pm" transform="matrix(1.3978 0.0000 0.0000 0.9107 903.41 659.00)">±</text>
<text class="s" transform="matrix(0.9203 0.0000 0.0000 0.6765 987.32 656.99)">0.67%</text>
<text class="nb" transform="matrix(0.8062 0.0000 0.0000 0.6087 1458.97 125.00)">(B)</text>
<text class="nb" transform="matrix(0.8818 0.0000 0.0000 0.6087 1590.27 125.00)">100</text>
<text class="nb" transform="matrix(0.9245 0.0000 0.0000 0.6087 1745.99 125.00)">mM</text>
<text class="nb" transform="matrix(0.7752 0.0000 0.0000 0.6087 1922.90 125.00)">Glucose</text>
<text class="n" transform="matrix(0.0000 -0.6300 0.8169 0.0000 1405.18 200.72)">10<tspan x="108.6" y="-4.0" font-size="114.7">⁴</tspan></text>
<text class="n" transform="matrix(0.0000 -0.6200 0.8169 0.0000 1405.18 456.65)">10<tspan x="113.4" y="-3.6" font-size="107.8">²</tspan></text>
<text class="n" transform="matrix(0.8842 0.0000 0.0000 0.6056 1408.46 752.39)">0</text>
<text class="n" transform="matrix(0.8800 0.0000 0.0000 0.6056 1789.40 752.39)">10<tspan x="112.2" y="-4.5" font-size="106.1">²</tspan></text>
<text class="n" transform="matrix(0.8600 0.0000 0.0000 0.6056 2190.55 752.39)">10<tspan x="106.8" y="-7.6" font-size="108.7">⁴</tspan></text>
<text class="s" transform="matrix(0.0000 -0.6714 0.9265 0.0000 1528.61 414.04)">19.81</text>
<text class="s pm" transform="matrix(0.0000 -1.0108 1.2857 0.0000 1532.00 252.04)">±</text>
<text class="s" transform="matrix(0.0000 -0.6960 0.9333 0.0000 1638.60 416.48)">3.45%</text>
<text class="s" transform="matrix(0.9549 0.0000 0.0000 0.6912 1811.41 305.96)">10.92</text>
<text class="s pm" transform="matrix(1.4194 0.0000 0.0000 0.9286 2033.32 308.00)">±</text>
<text class="s" transform="matrix(0.9444 0.0000 0.0000 0.6912 1811.50 385.96)">1.90</text>
<text class="s" transform="matrix(0.9412 0.0000 0.0000 0.6963 1991.71 385.96)">%</text>
<text class="s" transform="matrix(0.9369 0.0000 0.0000 0.6618 1762.78 647.01)">2.03</text>
<text class="s pm" transform="matrix(1.3763 0.0000 0.0000 0.9107 1938.49 649.00)">±</text>
<text class="s" transform="matrix(0.9341 0.0000 0.0000 0.6765 2018.80 646.99)">2.09%</text>
<text class="nb" transform="matrix(0.7132 0.0000 0.0000 0.6159 439.43 892.00)">(C)</text>
<text class="nb" transform="matrix(0.8818 0.0000 0.0000 0.6159 568.27 892.00)">100</text>
<text class="nb" transform="matrix(0.9182 0.0000 0.0000 0.6159 724.03 892.00)">mM</text>
<text class="nb" transform="matrix(0.7726 0.0000 0.0000 0.6159 897.91 892.00)">Glucose</text>
<text class="nb" transform="matrix(0.8515 0.0000 0.0000 0.6014 437.59 971.50)">+</text>
<text class="nb" transform="matrix(0.8561 0.0000 0.0000 0.6014 504.58 971.50)">0.5</text>
<text class="nb" transform="matrix(1.0118 0.0000 0.0000 0.6014 639.42 971.50)">µM</text>
<text class="nb" transform="matrix(0.8634 0.0000 0.0000 0.6014 796.39 971.50)">Melatonin</text>
<text class="n" transform="matrix(0.0000 -0.6200 0.8169 0.0000 349.18 1037.65)">10<tspan x="108.7" y="-2.8" font-size="114.7">⁴</tspan></text>
<text class="n" transform="matrix(0.0000 -0.6200 0.8169 0.0000 349.18 1294.65)">10<tspan x="113.4" y="-2.4" font-size="107.8">²</tspan></text>
<text class="n" transform="matrix(0.8632 0.0000 0.0000 0.5915 368.55 1599.41)">0</text>
<text class="n" transform="matrix(0.8500 0.0000 0.0000 0.5915 758.62 1599.41)">10<tspan x="117.2" y="-5.7" font-size="104.6">²</tspan></text>
<text class="n" transform="matrix(0.8600 0.0000 0.0000 0.5915 1160.55 1599.41)">10<tspan x="105.2" y="-3.3" font-size="115.6">⁴</tspan></text>
<text class="s" transform="matrix(0.0000 -0.6667 0.9254 0.0000 517.61 1253.00)">17.41</text>
<text class="s pm" transform="matrix(0.0000 -1.0323 1.3036 0.0000 522.00 1092.13)">±</text>
<text class="s" transform="matrix(0.0000 -0.6917 0.9333 0.0000 627.60 1253.38)">4.27%</text>
<text class="s" transform="matrix(0.9528 0.0000 0.0000 0.6765 798.42 1146.99)">10.25</text>
<text class="s pm" transform="matrix(1.3978 0.0000 0.0000 0.9286 1023.41 1149.00)">±</text>
<text class="s" transform="matrix(0.9562 0.0000 0.0000 0.6618 799.18 1226.01)">0.56%</text>
<text class="s" transform="matrix(0.9362 0.0000 0.0000 0.6815 727.79 1489.98)">2.91</text>
<text class="s pm" transform="matrix(1.3978 0.0000 0.0000 0.9286 903.41 1492.00)">±</text>
<text class="s" transform="matrix(0.9261 0.0000 0.0000 0.6765 986.83 1489.99)">2.81%</text>
<text class="nb" transform="matrix(0.8372 0.0000 0.0000 0.6014 1458.81 882.00)">(D)</text>
<text class="nb" transform="matrix(0.8626 0.0000 0.0000 0.6014 1595.39 882.00)">100</text>
<text class="nb" transform="matrix(0.9245 0.0000 0.0000 0.6014 1754.99 882.00)">mM</text>
<text class="nb" transform="matrix(0.7700 0.0000 0.0000 0.6014 1929.92 882.00)">Glucose</text>
<text class="nb" transform="matrix(0.8515 0.0000 0.0000 0.5942 1458.59 961.50)">+</text>
<text class="nb" transform="matrix(0.7742 0.0000 0.0000 0.5942 1527.97 961.50)">1</text>
<text class="nb" transform="matrix(0.9804 0.0000 0.0000 0.5942 1591.63 961.50)">µM</text>
<text class="nb" transform="matrix(0.8612 0.0000 0.0000 0.5942 1746.40 961.50)">Melatonin</text>
<text class="n" transform="matrix(0.0000 -0.6200 0.8169 0.0000 1405.18 1036.65)">10<tspan x="107.1" y="-4.0" font-size="114.7">⁴</tspan></text>
<text class="n" transform="matrix(0.0000 -0.6200 0.8169 0.0000 1405.18 1293.65)">10<tspan x="113.4" y="-3.6" font-size="107.8">²</tspan></text>
<text class="n" transform="matrix(0.8632 0.0000 0.0000 0.6056 1416.55 1580.39)">0</text>
<text class="n" transform="matrix(0.8800 0.0000 0.0000 0.5915 1803.40 1580.41)">10<tspan x="111.1" y="-4.0" font-size="104.6">²</tspan></text>
<text class="n" transform="matrix(0.8800 0.0000 0.0000 0.5915 2203.40 1580.41)">10<tspan x="105.1" y="-1.7" font-size="115.6">⁴</tspan></text>
<text class="s" transform="matrix(0.0000 -0.6745 0.9333 0.0000 1545.60 1253.07)">13.25</text>
<text class="s pm" transform="matrix(0.0000 -1.0108 1.3036 0.0000 1547.00 1091.04)">±</text>
<text class="s" transform="matrix(0.0000 -0.6917 0.9481 0.0000 1655.58 1253.38)">4.74%</text>
<text class="s" transform="matrix(0.9381 0.0000 0.0000 0.6618 1832.25 1146.01)">8.24</text>
<text class="s pm" transform="matrix(1.3978 0.0000 0.0000 0.9286 2006.41 1149.00)">±</text>
<text class="s" transform="matrix(0.9621 0.0000 0.0000 0.6618 1827.67 1227.01)">2.28%</text>
<text class="s" transform="matrix(0.9547 0.0000 0.0000 0.6618 1781.18 1487.01)">0.62</text>
<text class="s pm" transform="matrix(1.3978 0.0000 0.0000 0.9286 1955.41 1489.00)">±</text>
<text class="s" transform="matrix(0.9243 0.0000 0.0000 0.6765 2039.30 1486.99)">0.62%</text>
<text class="nb" transform="matrix(0.7692 0.0000 0.0000 0.6014 421.15 1734.00)">(E)</text>
<text class="nb" transform="matrix(0.8818 0.0000 0.0000 0.6014 545.27 1734.00)">100</text>
<text class="nb" transform="matrix(0.9245 0.0000 0.0000 0.6014 700.99 1734.00)">mM</text>
<text class="nb" transform="matrix(0.7726 0.0000 0.0000 0.6014 877.91 1734.00)">Glucose</text>
<text class="nb" transform="matrix(0.8713 0.0000 0.0000 0.6014 419.51 1813.00)">+</text>
<text class="nb" transform="matrix(0.7600 0.0000 0.0000 0.6014 490.72 1813.00)">5</text>
<text class="nb" transform="matrix(0.9804 0.0000 0.0000 0.6014 553.63 1813.00)">µM</text>
<text class="nb" transform="matrix(0.8612 0.0000 0.0000 0.6014 708.40 1813.00)">Melatonin</text>
<text class="n" transform="matrix(0.0000 -0.6300 0.8169 0.0000 356.18 1884.72)">10<tspan x="106.8" y="-2.0" font-size="117.8">⁴</tspan></text>
<text class="n" transform="matrix(0.0000 -0.6200 0.8169 0.0000 356.18 2141.65)">10<tspan x="113.3" y="-1.6" font-size="110.8">²</tspan></text>
<text class="n" transform="matrix(0.8842 0.0000 0.0000 0.5915 377.46 2448.41)">0</text>
<text class="n" transform="matrix(0.8800 0.0000 0.0000 0.5915 761.40 2448.41)">10<tspan x="112.3" y="-6.8" font-size="100.6">²</tspan></text>
<text class="n" transform="matrix(0.8800 0.0000 0.0000 0.5915 1162.40 2448.41)">10<tspan x="105.4" y="-4.4" font-size="111.3">⁴</tspan></text>
<text class="s" transform="matrix(0.0000 -0.6841 0.9412 0.0000 505.59 2120.16)">10.82</text>
<text class="s pm" transform="matrix(0.0000 -1.0323 1.2857 0.0000 508.00 1959.13)">±</text>
<text class="s" transform="matrix(0.0000 -0.6877 0.9333 0.0000 614.60 2120.38)">4.74%</text>
<text class="s" transform="matrix(0.9538 0.0000 0.0000 0.6765 781.80 2012.99)">7.01</text>
<text class="s pm" transform="matrix(1.3978 0.0000 0.0000 0.9286 961.41 2016.00)">±</text>
<text class="s" transform="matrix(0.9504 0.0000 0.0000 0.6667 786.45 2093.00)">1.11%</text>
<text class="s" transform="matrix(0.9461 0.0000 0.0000 0.6618 738.22 2353.01)">0.55</text>
<text class="s pm" transform="matrix(1.3978 0.0000 0.0000 0.9107 913.41 2355.00)">±</text>
<text class="s" transform="matrix(0.9187 0.0000 0.0000 0.6815 998.73 2352.98)">1.99%</text>
<text class="nb" transform="matrix(0.7830 0.0000 0.0000 0.6014 1469.09 1732.00)">(F)</text>
<text class="nb" transform="matrix(0.8818 0.0000 0.0000 0.6014 1590.27 1732.00)">100</text>
<text class="nb" transform="matrix(0.9245 0.0000 0.0000 0.6014 1745.99 1732.00)">mM</text>
<text class="nb" transform="matrix(0.7726 0.0000 0.0000 0.6014 1922.91 1732.00)">Glucose</text>
<text class="nb" transform="matrix(0.8515 0.0000 0.0000 0.6014 1468.59 1811.50)">+</text>
<text class="nb" transform="matrix(0.8557 0.0000 0.0000 0.6014 1536.44 1811.50)">10</text>
<text class="nb" transform="matrix(0.9725 0.0000 0.0000 0.6014 1646.68 1811.50)">µM</text>
<text class="nb" transform="matrix(0.8678 0.0000 0.0000 0.6014 1800.36 1811.50)">Melatonin</text>
<text class="n" transform="matrix(0.0000 -0.6300 0.8310 0.0000 1415.17 1884.72)">10<tspan x="107.1" y="-4.0" font-size="112.7">⁴</tspan></text>
<text class="n" transform="matrix(0.0000 -0.6200 0.8310 0.0000 1415.17 2141.65)">10<tspan x="113.4" y="-3.5" font-size="106.0">²</tspan></text>
<text class="n" transform="matrix(0.8632 0.0000 0.0000 0.5915 1429.55 2456.41)">0</text>
<text class="n" transform="matrix(0.8800 0.0000 0.0000 0.5915 1810.40 2456.41)">10<tspan x="111.0" y="-4.6" font-size="108.7">²</tspan></text>
<text class="n" transform="matrix(0.8800 0.0000 0.0000 0.5915 2210.40 2456.41)">10<tspan x="106.0" y="-2.3" font-size="119.8">⁴</tspan></text>
<text class="s" transform="matrix(0.0000 -0.6988 0.9333 0.0000 1556.60 2120.19)">5.56</text>
<text class="s pm" transform="matrix(0.0000 -1.0323 1.2857 0.0000 1560.00 1991.13)">±</text>
<text class="s" transform="matrix(0.0000 -0.6972 0.9412 0.0000 1665.59 2119.79)">0.60%</text>
<text class="s" transform="matrix(0.9550 0.0000 0.0000 0.6667 1834.70 2008.00)">2.55</text>
<text class="s pm" transform="matrix(1.3978 0.0000 0.0000 0.9286 2013.41 2011.00)">±</text>
<text class="s" transform="matrix(0.9512 0.0000 0.0000 0.6667 1838.44 2089.00)">1.62%</text>
<text class="s" transform="matrix(0.9461 0.0000 0.0000 0.6618 1786.22 2351.01)">0.55</text>
<text class="s pm" transform="matrix(1.4194 0.0000 0.0000 0.8929 1961.32 2353.00)">±</text>
<text class="s" transform="matrix(0.9243 0.0000 0.0000 0.6765 2046.30 2350.99)">0.04%</text>
<text class="s" transform="matrix(0.8246 0.0000 0.0000 0.5954 847.18 2580.00)">Annexin V (FL-1)</text>
<text class="s" transform="matrix(0.0000 -0.6011 0.9313 0.0000 107.00 1583.80)">Propidium iodide (FL-2)</text>
</g>
</svg></body></html>
